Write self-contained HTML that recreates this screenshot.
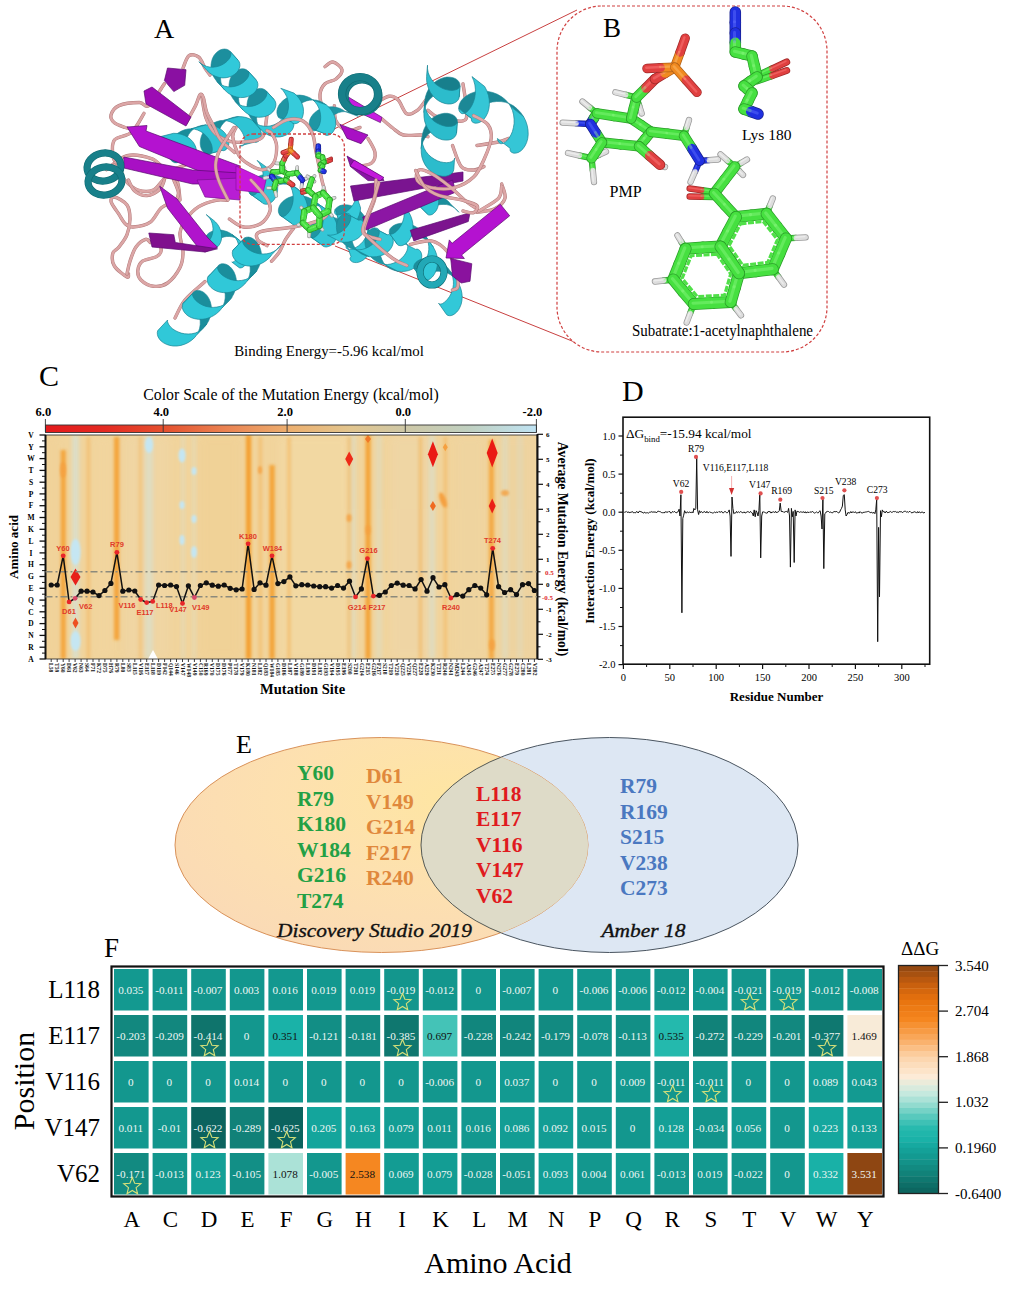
<!DOCTYPE html>
<html><head><meta charset="utf-8"><style>
html,body{margin:0;padding:0;background:#fff;}
body{width:1024px;height:1290px;overflow:hidden;}
svg{display:block;font-family:"Liberation Serif",serif;}
</style></head><body>
<svg width="1024" height="1290" viewBox="0 0 1024 1290">
<rect width="1024" height="1290" fill="#ffffff"/>
<text x="329" y="355.5" font-size="14.9" text-anchor="middle">Binding Energy=-5.96 kcal/mol</text>
<line x1="330" y1="131" x2="577" y2="10" stroke="#c84040" stroke-width="1"/>
<line x1="335" y1="246" x2="582" y2="345" stroke="#c84040" stroke-width="1"/>
<rect x="557" y="6" width="270" height="346" rx="45" ry="45" fill="#ffffff" stroke="#d04040" stroke-width="1.2" stroke-dasharray="3,2"/>
<line x1="590.3" y1="124.0" x2="576.5" y2="123.3" stroke="#182090" stroke-width="6.3" stroke-linecap="round"/>
<line x1="576.5" y1="123.3" x2="562.6" y2="122.6" stroke="#9a9a9a" stroke-width="6.3" stroke-linecap="round"/>
<line x1="590.3" y1="124.0" x2="576.5" y2="123.3" stroke="#2030e0" stroke-width="4.8" stroke-linecap="round"/>
<line x1="576.5" y1="123.3" x2="562.6" y2="122.6" stroke="#dddddd" stroke-width="4.8" stroke-linecap="round"/>
<line x1="589.5" y1="123.2" x2="575.7" y2="122.5" stroke="#6070ff" stroke-width="1.4" stroke-linecap="round" opacity="0.45"/>
<line x1="575.7" y1="122.5" x2="561.8" y2="121.8" stroke="#ffffff" stroke-width="1.4" stroke-linecap="round" opacity="0.45"/>
<line x1="597.0" y1="113.4" x2="589.7" y2="107.5" stroke="#2a9e28" stroke-width="6.3" stroke-linecap="round"/>
<line x1="589.7" y1="107.5" x2="582.4" y2="101.5" stroke="#9a9a9a" stroke-width="6.3" stroke-linecap="round"/>
<line x1="597.0" y1="113.4" x2="589.7" y2="107.5" stroke="#46e040" stroke-width="4.8" stroke-linecap="round"/>
<line x1="589.7" y1="107.5" x2="582.4" y2="101.5" stroke="#dddddd" stroke-width="4.8" stroke-linecap="round"/>
<line x1="596.2" y1="112.6" x2="588.9" y2="106.7" stroke="#8af880" stroke-width="1.4" stroke-linecap="round" opacity="0.45"/>
<line x1="588.9" y1="106.7" x2="581.6" y2="100.7" stroke="#ffffff" stroke-width="1.4" stroke-linecap="round" opacity="0.45"/>
<line x1="591.6" y1="158.2" x2="579.8" y2="155.6" stroke="#2a9e28" stroke-width="6.3" stroke-linecap="round"/>
<line x1="579.8" y1="155.6" x2="568.0" y2="153.0" stroke="#9a9a9a" stroke-width="6.3" stroke-linecap="round"/>
<line x1="591.6" y1="158.2" x2="579.8" y2="155.6" stroke="#46e040" stroke-width="4.8" stroke-linecap="round"/>
<line x1="579.8" y1="155.6" x2="568.0" y2="153.0" stroke="#dddddd" stroke-width="4.8" stroke-linecap="round"/>
<line x1="590.8" y1="157.4" x2="579.0" y2="154.8" stroke="#8af880" stroke-width="1.4" stroke-linecap="round" opacity="0.45"/>
<line x1="579.0" y1="154.8" x2="567.2" y2="152.2" stroke="#ffffff" stroke-width="1.4" stroke-linecap="round" opacity="0.45"/>
<line x1="591.6" y1="158.2" x2="592.8" y2="170.1" stroke="#2a9e28" stroke-width="6.3" stroke-linecap="round"/>
<line x1="592.8" y1="170.1" x2="594.0" y2="182.0" stroke="#9a9a9a" stroke-width="6.3" stroke-linecap="round"/>
<line x1="591.6" y1="158.2" x2="592.8" y2="170.1" stroke="#46e040" stroke-width="4.8" stroke-linecap="round"/>
<line x1="592.8" y1="170.1" x2="594.0" y2="182.0" stroke="#dddddd" stroke-width="4.8" stroke-linecap="round"/>
<line x1="590.8" y1="157.4" x2="592.0" y2="169.3" stroke="#8af880" stroke-width="1.4" stroke-linecap="round" opacity="0.45"/>
<line x1="592.0" y1="169.3" x2="593.2" y2="181.2" stroke="#ffffff" stroke-width="1.4" stroke-linecap="round" opacity="0.45"/>
<line x1="591.6" y1="158.2" x2="598.8" y2="154.9" stroke="#2a9e28" stroke-width="6.3" stroke-linecap="round"/>
<line x1="598.8" y1="154.9" x2="606.0" y2="151.6" stroke="#9a9a9a" stroke-width="6.3" stroke-linecap="round"/>
<line x1="591.6" y1="158.2" x2="598.8" y2="154.9" stroke="#46e040" stroke-width="4.8" stroke-linecap="round"/>
<line x1="598.8" y1="154.9" x2="606.0" y2="151.6" stroke="#dddddd" stroke-width="4.8" stroke-linecap="round"/>
<line x1="590.8" y1="157.4" x2="598.0" y2="154.1" stroke="#8af880" stroke-width="1.4" stroke-linecap="round" opacity="0.45"/>
<line x1="598.0" y1="154.1" x2="605.2" y2="150.8" stroke="#ffffff" stroke-width="1.4" stroke-linecap="round" opacity="0.45"/>
<line x1="636.5" y1="97.5" x2="626.0" y2="94.9" stroke="#2a9e28" stroke-width="6.3" stroke-linecap="round"/>
<line x1="626.0" y1="94.9" x2="615.4" y2="92.3" stroke="#9a9a9a" stroke-width="6.3" stroke-linecap="round"/>
<line x1="636.5" y1="97.5" x2="626.0" y2="94.9" stroke="#46e040" stroke-width="4.8" stroke-linecap="round"/>
<line x1="626.0" y1="94.9" x2="615.4" y2="92.3" stroke="#dddddd" stroke-width="4.8" stroke-linecap="round"/>
<line x1="635.7" y1="96.7" x2="625.2" y2="94.1" stroke="#8af880" stroke-width="1.4" stroke-linecap="round" opacity="0.45"/>
<line x1="625.2" y1="94.1" x2="614.6" y2="91.5" stroke="#ffffff" stroke-width="1.4" stroke-linecap="round" opacity="0.45"/>
<line x1="636.5" y1="97.5" x2="639.1" y2="105.5" stroke="#2a9e28" stroke-width="6.3" stroke-linecap="round"/>
<line x1="639.1" y1="105.5" x2="641.7" y2="113.4" stroke="#9a9a9a" stroke-width="6.3" stroke-linecap="round"/>
<line x1="636.5" y1="97.5" x2="639.1" y2="105.5" stroke="#46e040" stroke-width="4.8" stroke-linecap="round"/>
<line x1="639.1" y1="105.5" x2="641.7" y2="113.4" stroke="#dddddd" stroke-width="4.8" stroke-linecap="round"/>
<line x1="635.7" y1="96.7" x2="638.3" y2="104.7" stroke="#8af880" stroke-width="1.4" stroke-linecap="round" opacity="0.45"/>
<line x1="638.3" y1="104.7" x2="640.9" y2="112.6" stroke="#ffffff" stroke-width="1.4" stroke-linecap="round" opacity="0.45"/>
<line x1="684.0" y1="135.8" x2="686.5" y2="127.9" stroke="#2a9e28" stroke-width="6.3" stroke-linecap="round"/>
<line x1="686.5" y1="127.9" x2="689.0" y2="120.0" stroke="#9a9a9a" stroke-width="6.3" stroke-linecap="round"/>
<line x1="684.0" y1="135.8" x2="686.5" y2="127.9" stroke="#46e040" stroke-width="4.8" stroke-linecap="round"/>
<line x1="686.5" y1="127.9" x2="689.0" y2="120.0" stroke="#dddddd" stroke-width="4.8" stroke-linecap="round"/>
<line x1="683.2" y1="135.0" x2="685.7" y2="127.1" stroke="#8af880" stroke-width="1.4" stroke-linecap="round" opacity="0.45"/>
<line x1="685.7" y1="127.1" x2="688.2" y2="119.2" stroke="#ffffff" stroke-width="1.4" stroke-linecap="round" opacity="0.45"/>
<line x1="699.7" y1="160.8" x2="708.9" y2="160.2" stroke="#182090" stroke-width="6.3" stroke-linecap="round"/>
<line x1="708.9" y1="160.2" x2="718.0" y2="159.5" stroke="#9a9a9a" stroke-width="6.3" stroke-linecap="round"/>
<line x1="699.7" y1="160.8" x2="708.9" y2="160.2" stroke="#2030e0" stroke-width="4.8" stroke-linecap="round"/>
<line x1="708.9" y1="160.2" x2="718.0" y2="159.5" stroke="#dddddd" stroke-width="4.8" stroke-linecap="round"/>
<line x1="698.9" y1="160.0" x2="708.1" y2="159.3" stroke="#6070ff" stroke-width="1.4" stroke-linecap="round" opacity="0.45"/>
<line x1="708.1" y1="159.3" x2="717.2" y2="158.7" stroke="#ffffff" stroke-width="1.4" stroke-linecap="round" opacity="0.45"/>
<line x1="699.7" y1="160.8" x2="695.1" y2="171.4" stroke="#182090" stroke-width="6.3" stroke-linecap="round"/>
<line x1="695.1" y1="171.4" x2="690.5" y2="182.0" stroke="#9a9a9a" stroke-width="6.3" stroke-linecap="round"/>
<line x1="699.7" y1="160.8" x2="695.1" y2="171.4" stroke="#2030e0" stroke-width="4.8" stroke-linecap="round"/>
<line x1="695.1" y1="171.4" x2="690.5" y2="182.0" stroke="#dddddd" stroke-width="4.8" stroke-linecap="round"/>
<line x1="698.9" y1="160.0" x2="694.3" y2="170.6" stroke="#6070ff" stroke-width="1.4" stroke-linecap="round" opacity="0.45"/>
<line x1="694.3" y1="170.6" x2="689.7" y2="181.2" stroke="#ffffff" stroke-width="1.4" stroke-linecap="round" opacity="0.45"/>
<line x1="660.0" y1="164.8" x2="662.5" y2="165.9" stroke="#a02828" stroke-width="6.3" stroke-linecap="round"/>
<line x1="662.5" y1="165.9" x2="665.0" y2="167.0" stroke="#9a9a9a" stroke-width="6.3" stroke-linecap="round"/>
<line x1="660.0" y1="164.8" x2="662.5" y2="165.9" stroke="#e04040" stroke-width="4.8" stroke-linecap="round"/>
<line x1="662.5" y1="165.9" x2="665.0" y2="167.0" stroke="#dddddd" stroke-width="4.8" stroke-linecap="round"/>
<line x1="659.2" y1="164.0" x2="661.7" y2="165.1" stroke="#ff8080" stroke-width="1.4" stroke-linecap="round" opacity="0.45"/>
<line x1="661.7" y1="165.1" x2="664.2" y2="166.2" stroke="#ffffff" stroke-width="1.4" stroke-linecap="round" opacity="0.45"/>
<line x1="590.3" y1="124.0" x2="593.6" y2="118.7" stroke="#182090" stroke-width="10.5" stroke-linecap="round"/>
<line x1="593.6" y1="118.7" x2="597.0" y2="113.4" stroke="#2a9e28" stroke-width="10.5" stroke-linecap="round"/>
<line x1="590.3" y1="124.0" x2="593.6" y2="118.7" stroke="#2030e0" stroke-width="9.0" stroke-linecap="round"/>
<line x1="593.6" y1="118.7" x2="597.0" y2="113.4" stroke="#46e040" stroke-width="9.0" stroke-linecap="round"/>
<line x1="589.5" y1="123.2" x2="592.9" y2="117.9" stroke="#6070ff" stroke-width="2.7" stroke-linecap="round" opacity="0.45"/>
<line x1="592.9" y1="117.9" x2="596.2" y2="112.6" stroke="#8af880" stroke-width="2.7" stroke-linecap="round" opacity="0.45"/>
<line x1="597.0" y1="113.4" x2="614.1" y2="116.0" stroke="#2a9e28" stroke-width="10.5" stroke-linecap="round"/>
<line x1="614.1" y1="116.0" x2="631.2" y2="118.6" stroke="#2a9e28" stroke-width="10.5" stroke-linecap="round"/>
<line x1="597.0" y1="113.4" x2="614.1" y2="116.0" stroke="#46e040" stroke-width="9.0" stroke-linecap="round"/>
<line x1="614.1" y1="116.0" x2="631.2" y2="118.6" stroke="#46e040" stroke-width="9.0" stroke-linecap="round"/>
<line x1="596.2" y1="112.6" x2="613.3" y2="115.2" stroke="#8af880" stroke-width="2.7" stroke-linecap="round" opacity="0.45"/>
<line x1="613.3" y1="115.2" x2="630.4" y2="117.8" stroke="#8af880" stroke-width="2.7" stroke-linecap="round" opacity="0.45"/>
<line x1="631.2" y1="118.6" x2="641.1" y2="125.2" stroke="#2a9e28" stroke-width="10.5" stroke-linecap="round"/>
<line x1="641.1" y1="125.2" x2="651.0" y2="131.8" stroke="#2a9e28" stroke-width="10.5" stroke-linecap="round"/>
<line x1="631.2" y1="118.6" x2="641.1" y2="125.2" stroke="#46e040" stroke-width="9.0" stroke-linecap="round"/>
<line x1="641.1" y1="125.2" x2="651.0" y2="131.8" stroke="#46e040" stroke-width="9.0" stroke-linecap="round"/>
<line x1="630.4" y1="117.8" x2="640.3" y2="124.4" stroke="#8af880" stroke-width="2.7" stroke-linecap="round" opacity="0.45"/>
<line x1="640.3" y1="124.4" x2="650.2" y2="131.0" stroke="#8af880" stroke-width="2.7" stroke-linecap="round" opacity="0.45"/>
<line x1="651.0" y1="131.8" x2="645.0" y2="139.1" stroke="#2a9e28" stroke-width="10.5" stroke-linecap="round"/>
<line x1="645.0" y1="139.1" x2="639.0" y2="146.3" stroke="#2a9e28" stroke-width="10.5" stroke-linecap="round"/>
<line x1="651.0" y1="131.8" x2="645.0" y2="139.1" stroke="#46e040" stroke-width="9.0" stroke-linecap="round"/>
<line x1="645.0" y1="139.1" x2="639.0" y2="146.3" stroke="#46e040" stroke-width="9.0" stroke-linecap="round"/>
<line x1="650.2" y1="131.0" x2="644.2" y2="138.2" stroke="#8af880" stroke-width="2.7" stroke-linecap="round" opacity="0.45"/>
<line x1="644.2" y1="138.2" x2="638.2" y2="145.5" stroke="#8af880" stroke-width="2.7" stroke-linecap="round" opacity="0.45"/>
<line x1="639.0" y1="146.3" x2="620.5" y2="144.4" stroke="#2a9e28" stroke-width="10.5" stroke-linecap="round"/>
<line x1="620.5" y1="144.4" x2="602.0" y2="142.4" stroke="#2a9e28" stroke-width="10.5" stroke-linecap="round"/>
<line x1="639.0" y1="146.3" x2="620.5" y2="144.4" stroke="#46e040" stroke-width="9.0" stroke-linecap="round"/>
<line x1="620.5" y1="144.4" x2="602.0" y2="142.4" stroke="#46e040" stroke-width="9.0" stroke-linecap="round"/>
<line x1="638.2" y1="145.5" x2="619.7" y2="143.6" stroke="#8af880" stroke-width="2.7" stroke-linecap="round" opacity="0.45"/>
<line x1="619.7" y1="143.6" x2="601.2" y2="141.6" stroke="#8af880" stroke-width="2.7" stroke-linecap="round" opacity="0.45"/>
<line x1="602.0" y1="142.4" x2="596.1" y2="133.2" stroke="#2a9e28" stroke-width="10.5" stroke-linecap="round"/>
<line x1="596.1" y1="133.2" x2="590.3" y2="124.0" stroke="#182090" stroke-width="10.5" stroke-linecap="round"/>
<line x1="602.0" y1="142.4" x2="596.1" y2="133.2" stroke="#46e040" stroke-width="9.0" stroke-linecap="round"/>
<line x1="596.1" y1="133.2" x2="590.3" y2="124.0" stroke="#2030e0" stroke-width="9.0" stroke-linecap="round"/>
<line x1="601.2" y1="141.6" x2="595.4" y2="132.4" stroke="#8af880" stroke-width="2.7" stroke-linecap="round" opacity="0.45"/>
<line x1="595.4" y1="132.4" x2="589.5" y2="123.2" stroke="#6070ff" stroke-width="2.7" stroke-linecap="round" opacity="0.45"/>
<line x1="651.0" y1="131.8" x2="667.5" y2="133.8" stroke="#2a9e28" stroke-width="10.5" stroke-linecap="round"/>
<line x1="667.5" y1="133.8" x2="684.0" y2="135.8" stroke="#2a9e28" stroke-width="10.5" stroke-linecap="round"/>
<line x1="651.0" y1="131.8" x2="667.5" y2="133.8" stroke="#46e040" stroke-width="9.0" stroke-linecap="round"/>
<line x1="667.5" y1="133.8" x2="684.0" y2="135.8" stroke="#46e040" stroke-width="9.0" stroke-linecap="round"/>
<line x1="650.2" y1="131.0" x2="666.7" y2="133.0" stroke="#8af880" stroke-width="2.7" stroke-linecap="round" opacity="0.45"/>
<line x1="666.7" y1="133.0" x2="683.2" y2="135.0" stroke="#8af880" stroke-width="2.7" stroke-linecap="round" opacity="0.45"/>
<line x1="684.0" y1="135.8" x2="691.9" y2="148.3" stroke="#2a9e28" stroke-width="10.5" stroke-linecap="round"/>
<line x1="691.9" y1="148.3" x2="699.7" y2="160.8" stroke="#182090" stroke-width="10.5" stroke-linecap="round"/>
<line x1="684.0" y1="135.8" x2="691.9" y2="148.3" stroke="#46e040" stroke-width="9.0" stroke-linecap="round"/>
<line x1="691.9" y1="148.3" x2="699.7" y2="160.8" stroke="#2030e0" stroke-width="9.0" stroke-linecap="round"/>
<line x1="683.2" y1="135.0" x2="691.1" y2="147.5" stroke="#8af880" stroke-width="2.7" stroke-linecap="round" opacity="0.45"/>
<line x1="691.1" y1="147.5" x2="698.9" y2="160.0" stroke="#6070ff" stroke-width="2.7" stroke-linecap="round" opacity="0.45"/>
<line x1="639.0" y1="146.3" x2="649.5" y2="155.6" stroke="#2a9e28" stroke-width="10.5" stroke-linecap="round"/>
<line x1="649.5" y1="155.6" x2="660.0" y2="164.8" stroke="#a02828" stroke-width="10.5" stroke-linecap="round"/>
<line x1="639.0" y1="146.3" x2="649.5" y2="155.6" stroke="#46e040" stroke-width="9.0" stroke-linecap="round"/>
<line x1="649.5" y1="155.6" x2="660.0" y2="164.8" stroke="#e04040" stroke-width="9.0" stroke-linecap="round"/>
<line x1="638.2" y1="145.5" x2="648.7" y2="154.8" stroke="#8af880" stroke-width="2.7" stroke-linecap="round" opacity="0.45"/>
<line x1="648.7" y1="154.8" x2="659.2" y2="164.0" stroke="#ff8080" stroke-width="2.7" stroke-linecap="round" opacity="0.45"/>
<line x1="602.0" y1="142.4" x2="596.8" y2="150.3" stroke="#2a9e28" stroke-width="10.5" stroke-linecap="round"/>
<line x1="596.8" y1="150.3" x2="591.6" y2="158.2" stroke="#2a9e28" stroke-width="10.5" stroke-linecap="round"/>
<line x1="602.0" y1="142.4" x2="596.8" y2="150.3" stroke="#46e040" stroke-width="9.0" stroke-linecap="round"/>
<line x1="596.8" y1="150.3" x2="591.6" y2="158.2" stroke="#46e040" stroke-width="9.0" stroke-linecap="round"/>
<line x1="601.2" y1="141.6" x2="596.0" y2="149.5" stroke="#8af880" stroke-width="2.7" stroke-linecap="round" opacity="0.45"/>
<line x1="596.0" y1="149.5" x2="590.8" y2="157.4" stroke="#8af880" stroke-width="2.7" stroke-linecap="round" opacity="0.45"/>
<line x1="631.2" y1="118.6" x2="633.9" y2="108.0" stroke="#2a9e28" stroke-width="10.5" stroke-linecap="round"/>
<line x1="633.9" y1="108.0" x2="636.5" y2="97.5" stroke="#2a9e28" stroke-width="10.5" stroke-linecap="round"/>
<line x1="631.2" y1="118.6" x2="633.9" y2="108.0" stroke="#46e040" stroke-width="9.0" stroke-linecap="round"/>
<line x1="633.9" y1="108.0" x2="636.5" y2="97.5" stroke="#46e040" stroke-width="9.0" stroke-linecap="round"/>
<line x1="630.4" y1="117.8" x2="633.1" y2="107.2" stroke="#8af880" stroke-width="2.7" stroke-linecap="round" opacity="0.45"/>
<line x1="633.1" y1="107.2" x2="635.7" y2="96.7" stroke="#8af880" stroke-width="2.7" stroke-linecap="round" opacity="0.45"/>
<line x1="636.5" y1="97.5" x2="645.8" y2="88.2" stroke="#2a9e28" stroke-width="10.5" stroke-linecap="round"/>
<line x1="645.8" y1="88.2" x2="655.0" y2="79.0" stroke="#a02828" stroke-width="10.5" stroke-linecap="round"/>
<line x1="636.5" y1="97.5" x2="645.8" y2="88.2" stroke="#46e040" stroke-width="9.0" stroke-linecap="round"/>
<line x1="645.8" y1="88.2" x2="655.0" y2="79.0" stroke="#e04040" stroke-width="9.0" stroke-linecap="round"/>
<line x1="635.7" y1="96.7" x2="645.0" y2="87.5" stroke="#8af880" stroke-width="2.7" stroke-linecap="round" opacity="0.45"/>
<line x1="645.0" y1="87.5" x2="654.2" y2="78.2" stroke="#ff8080" stroke-width="2.7" stroke-linecap="round" opacity="0.45"/>
<line x1="655.0" y1="79.0" x2="664.9" y2="73.1" stroke="#a02828" stroke-width="10.5" stroke-linecap="round"/>
<line x1="664.9" y1="73.1" x2="674.7" y2="67.2" stroke="#b06018" stroke-width="10.5" stroke-linecap="round"/>
<line x1="655.0" y1="79.0" x2="664.9" y2="73.1" stroke="#e04040" stroke-width="9.0" stroke-linecap="round"/>
<line x1="664.9" y1="73.1" x2="674.7" y2="67.2" stroke="#f08a20" stroke-width="9.0" stroke-linecap="round"/>
<line x1="654.2" y1="78.2" x2="664.1" y2="72.3" stroke="#ff8080" stroke-width="2.7" stroke-linecap="round" opacity="0.45"/>
<line x1="664.1" y1="72.3" x2="673.9" y2="66.4" stroke="#ffc070" stroke-width="2.7" stroke-linecap="round" opacity="0.45"/>
<line x1="674.7" y1="67.2" x2="680.0" y2="52.7" stroke="#b06018" stroke-width="9.5" stroke-linecap="round"/>
<line x1="680.0" y1="52.7" x2="685.2" y2="38.2" stroke="#a02828" stroke-width="9.5" stroke-linecap="round"/>
<line x1="674.7" y1="67.2" x2="680.0" y2="52.7" stroke="#f08a20" stroke-width="8.0" stroke-linecap="round"/>
<line x1="680.0" y1="52.7" x2="685.2" y2="38.2" stroke="#e04040" stroke-width="8.0" stroke-linecap="round"/>
<line x1="673.9" y1="66.4" x2="679.2" y2="51.9" stroke="#ffc070" stroke-width="2.4" stroke-linecap="round" opacity="0.45"/>
<line x1="679.2" y1="51.9" x2="684.4" y2="37.4" stroke="#ff8080" stroke-width="2.4" stroke-linecap="round" opacity="0.45"/>
<line x1="674.7" y1="67.2" x2="660.9" y2="67.8" stroke="#b06018" stroke-width="9.5" stroke-linecap="round"/>
<line x1="660.9" y1="67.8" x2="647.0" y2="68.5" stroke="#a02828" stroke-width="9.5" stroke-linecap="round"/>
<line x1="674.7" y1="67.2" x2="660.9" y2="67.8" stroke="#f08a20" stroke-width="8.0" stroke-linecap="round"/>
<line x1="660.9" y1="67.8" x2="647.0" y2="68.5" stroke="#e04040" stroke-width="8.0" stroke-linecap="round"/>
<line x1="673.9" y1="66.4" x2="660.1" y2="67.0" stroke="#ffc070" stroke-width="2.4" stroke-linecap="round" opacity="0.45"/>
<line x1="660.1" y1="67.0" x2="646.2" y2="67.7" stroke="#ff8080" stroke-width="2.4" stroke-linecap="round" opacity="0.45"/>
<line x1="674.7" y1="67.2" x2="685.9" y2="79.8" stroke="#b06018" stroke-width="9.5" stroke-linecap="round"/>
<line x1="685.9" y1="79.8" x2="697.0" y2="92.3" stroke="#a02828" stroke-width="9.5" stroke-linecap="round"/>
<line x1="674.7" y1="67.2" x2="685.9" y2="79.8" stroke="#f08a20" stroke-width="8.0" stroke-linecap="round"/>
<line x1="685.9" y1="79.8" x2="697.0" y2="92.3" stroke="#e04040" stroke-width="8.0" stroke-linecap="round"/>
<line x1="673.9" y1="66.4" x2="685.1" y2="79.0" stroke="#ffc070" stroke-width="2.4" stroke-linecap="round" opacity="0.45"/>
<line x1="685.1" y1="79.0" x2="696.2" y2="91.5" stroke="#ff8080" stroke-width="2.4" stroke-linecap="round" opacity="0.45"/>
<line x1="757.0" y1="76.0" x2="771.9" y2="69.0" stroke="#2a9e28" stroke-width="7.0" stroke-linecap="round"/>
<line x1="771.9" y1="69.0" x2="786.7" y2="62.0" stroke="#a02828" stroke-width="7.0" stroke-linecap="round"/>
<line x1="757.0" y1="76.0" x2="771.9" y2="69.0" stroke="#46e040" stroke-width="5.5" stroke-linecap="round"/>
<line x1="771.9" y1="69.0" x2="786.7" y2="62.0" stroke="#e04040" stroke-width="5.5" stroke-linecap="round"/>
<line x1="756.2" y1="75.2" x2="771.1" y2="68.2" stroke="#8af880" stroke-width="1.6" stroke-linecap="round" opacity="0.45"/>
<line x1="771.1" y1="68.2" x2="785.9" y2="61.2" stroke="#ff8080" stroke-width="1.6" stroke-linecap="round" opacity="0.45"/>
<line x1="757.0" y1="81.0" x2="771.9" y2="75.8" stroke="#2a9e28" stroke-width="7.0" stroke-linecap="round"/>
<line x1="771.9" y1="75.8" x2="786.7" y2="70.5" stroke="#a02828" stroke-width="7.0" stroke-linecap="round"/>
<line x1="757.0" y1="81.0" x2="771.9" y2="75.8" stroke="#46e040" stroke-width="5.5" stroke-linecap="round"/>
<line x1="771.9" y1="75.8" x2="786.7" y2="70.5" stroke="#e04040" stroke-width="5.5" stroke-linecap="round"/>
<line x1="756.2" y1="80.2" x2="771.1" y2="75.0" stroke="#8af880" stroke-width="1.6" stroke-linecap="round" opacity="0.45"/>
<line x1="771.1" y1="75.0" x2="785.9" y2="69.7" stroke="#ff8080" stroke-width="1.6" stroke-linecap="round" opacity="0.45"/>
<line x1="735.3" y1="12.0" x2="735.3" y2="22.5" stroke="#182090" stroke-width="11.5" stroke-linecap="round"/>
<line x1="735.3" y1="22.5" x2="735.3" y2="33.0" stroke="#182090" stroke-width="11.5" stroke-linecap="round"/>
<line x1="735.3" y1="12.0" x2="735.3" y2="22.5" stroke="#2030e0" stroke-width="10.0" stroke-linecap="round"/>
<line x1="735.3" y1="22.5" x2="735.3" y2="33.0" stroke="#2030e0" stroke-width="10.0" stroke-linecap="round"/>
<line x1="734.5" y1="11.2" x2="734.5" y2="21.7" stroke="#6070ff" stroke-width="3.0" stroke-linecap="round" opacity="0.45"/>
<line x1="734.5" y1="21.7" x2="734.5" y2="32.2" stroke="#6070ff" stroke-width="3.0" stroke-linecap="round" opacity="0.45"/>
<line x1="735.3" y1="33.0" x2="735.3" y2="42.5" stroke="#182090" stroke-width="11.5" stroke-linecap="round"/>
<line x1="735.3" y1="42.5" x2="735.3" y2="52.0" stroke="#2a9e28" stroke-width="11.5" stroke-linecap="round"/>
<line x1="735.3" y1="33.0" x2="735.3" y2="42.5" stroke="#2030e0" stroke-width="10.0" stroke-linecap="round"/>
<line x1="735.3" y1="42.5" x2="735.3" y2="52.0" stroke="#46e040" stroke-width="10.0" stroke-linecap="round"/>
<line x1="734.5" y1="32.2" x2="734.5" y2="41.7" stroke="#6070ff" stroke-width="3.0" stroke-linecap="round" opacity="0.45"/>
<line x1="734.5" y1="41.7" x2="734.5" y2="51.2" stroke="#8af880" stroke-width="3.0" stroke-linecap="round" opacity="0.45"/>
<line x1="735.3" y1="52.0" x2="743.6" y2="54.0" stroke="#2a9e28" stroke-width="11.5" stroke-linecap="round"/>
<line x1="743.6" y1="54.0" x2="752.0" y2="56.0" stroke="#2a9e28" stroke-width="11.5" stroke-linecap="round"/>
<line x1="735.3" y1="52.0" x2="743.6" y2="54.0" stroke="#46e040" stroke-width="10.0" stroke-linecap="round"/>
<line x1="743.6" y1="54.0" x2="752.0" y2="56.0" stroke="#46e040" stroke-width="10.0" stroke-linecap="round"/>
<line x1="734.5" y1="51.2" x2="742.9" y2="53.2" stroke="#8af880" stroke-width="3.0" stroke-linecap="round" opacity="0.45"/>
<line x1="742.9" y1="53.2" x2="751.2" y2="55.2" stroke="#8af880" stroke-width="3.0" stroke-linecap="round" opacity="0.45"/>
<line x1="752.0" y1="56.0" x2="754.5" y2="66.5" stroke="#2a9e28" stroke-width="11.5" stroke-linecap="round"/>
<line x1="754.5" y1="66.5" x2="757.0" y2="77.0" stroke="#2a9e28" stroke-width="11.5" stroke-linecap="round"/>
<line x1="752.0" y1="56.0" x2="754.5" y2="66.5" stroke="#46e040" stroke-width="10.0" stroke-linecap="round"/>
<line x1="754.5" y1="66.5" x2="757.0" y2="77.0" stroke="#46e040" stroke-width="10.0" stroke-linecap="round"/>
<line x1="751.2" y1="55.2" x2="753.7" y2="65.7" stroke="#8af880" stroke-width="3.0" stroke-linecap="round" opacity="0.45"/>
<line x1="753.7" y1="65.7" x2="756.2" y2="76.2" stroke="#8af880" stroke-width="3.0" stroke-linecap="round" opacity="0.45"/>
<line x1="757.0" y1="77.0" x2="750.5" y2="81.5" stroke="#2a9e28" stroke-width="11.5" stroke-linecap="round"/>
<line x1="750.5" y1="81.5" x2="744.0" y2="86.0" stroke="#2a9e28" stroke-width="11.5" stroke-linecap="round"/>
<line x1="757.0" y1="77.0" x2="750.5" y2="81.5" stroke="#46e040" stroke-width="10.0" stroke-linecap="round"/>
<line x1="750.5" y1="81.5" x2="744.0" y2="86.0" stroke="#46e040" stroke-width="10.0" stroke-linecap="round"/>
<line x1="756.2" y1="76.2" x2="749.7" y2="80.7" stroke="#8af880" stroke-width="3.0" stroke-linecap="round" opacity="0.45"/>
<line x1="749.7" y1="80.7" x2="743.2" y2="85.2" stroke="#8af880" stroke-width="3.0" stroke-linecap="round" opacity="0.45"/>
<line x1="744.0" y1="86.0" x2="748.0" y2="89.5" stroke="#2a9e28" stroke-width="11.5" stroke-linecap="round"/>
<line x1="748.0" y1="89.5" x2="752.0" y2="93.0" stroke="#2a9e28" stroke-width="11.5" stroke-linecap="round"/>
<line x1="744.0" y1="86.0" x2="748.0" y2="89.5" stroke="#46e040" stroke-width="10.0" stroke-linecap="round"/>
<line x1="748.0" y1="89.5" x2="752.0" y2="93.0" stroke="#46e040" stroke-width="10.0" stroke-linecap="round"/>
<line x1="743.2" y1="85.2" x2="747.2" y2="88.7" stroke="#8af880" stroke-width="3.0" stroke-linecap="round" opacity="0.45"/>
<line x1="747.2" y1="88.7" x2="751.2" y2="92.2" stroke="#8af880" stroke-width="3.0" stroke-linecap="round" opacity="0.45"/>
<line x1="752.0" y1="93.0" x2="748.0" y2="101.0" stroke="#2a9e28" stroke-width="11.5" stroke-linecap="round"/>
<line x1="748.0" y1="101.0" x2="744.0" y2="109.0" stroke="#2a9e28" stroke-width="11.5" stroke-linecap="round"/>
<line x1="752.0" y1="93.0" x2="748.0" y2="101.0" stroke="#46e040" stroke-width="10.0" stroke-linecap="round"/>
<line x1="748.0" y1="101.0" x2="744.0" y2="109.0" stroke="#46e040" stroke-width="10.0" stroke-linecap="round"/>
<line x1="751.2" y1="92.2" x2="747.2" y2="100.2" stroke="#8af880" stroke-width="3.0" stroke-linecap="round" opacity="0.45"/>
<line x1="747.2" y1="100.2" x2="743.2" y2="108.2" stroke="#8af880" stroke-width="3.0" stroke-linecap="round" opacity="0.45"/>
<line x1="744.0" y1="109.0" x2="751.0" y2="111.5" stroke="#2a9e28" stroke-width="11.5" stroke-linecap="round"/>
<line x1="751.0" y1="111.5" x2="758.0" y2="114.0" stroke="#182090" stroke-width="11.5" stroke-linecap="round"/>
<line x1="744.0" y1="109.0" x2="751.0" y2="111.5" stroke="#46e040" stroke-width="10.0" stroke-linecap="round"/>
<line x1="751.0" y1="111.5" x2="758.0" y2="114.0" stroke="#2030e0" stroke-width="10.0" stroke-linecap="round"/>
<line x1="743.2" y1="108.2" x2="750.2" y2="110.7" stroke="#8af880" stroke-width="3.0" stroke-linecap="round" opacity="0.45"/>
<line x1="750.2" y1="110.7" x2="757.2" y2="113.2" stroke="#6070ff" stroke-width="3.0" stroke-linecap="round" opacity="0.45"/>
<line x1="734.8" y1="166.7" x2="727.6" y2="160.6" stroke="#2a9e28" stroke-width="6.3" stroke-linecap="round"/>
<line x1="727.6" y1="160.6" x2="720.5" y2="154.4" stroke="#9a9a9a" stroke-width="6.3" stroke-linecap="round"/>
<line x1="734.8" y1="166.7" x2="727.6" y2="160.6" stroke="#46e040" stroke-width="4.8" stroke-linecap="round"/>
<line x1="727.6" y1="160.6" x2="720.5" y2="154.4" stroke="#dddddd" stroke-width="4.8" stroke-linecap="round"/>
<line x1="734.0" y1="165.9" x2="726.9" y2="159.8" stroke="#8af880" stroke-width="1.4" stroke-linecap="round" opacity="0.45"/>
<line x1="726.9" y1="159.8" x2="719.7" y2="153.6" stroke="#ffffff" stroke-width="1.4" stroke-linecap="round" opacity="0.45"/>
<line x1="734.8" y1="166.7" x2="740.9" y2="163.1" stroke="#2a9e28" stroke-width="6.3" stroke-linecap="round"/>
<line x1="740.9" y1="163.1" x2="747.0" y2="159.5" stroke="#9a9a9a" stroke-width="6.3" stroke-linecap="round"/>
<line x1="734.8" y1="166.7" x2="740.9" y2="163.1" stroke="#46e040" stroke-width="4.8" stroke-linecap="round"/>
<line x1="740.9" y1="163.1" x2="747.0" y2="159.5" stroke="#dddddd" stroke-width="4.8" stroke-linecap="round"/>
<line x1="734.0" y1="165.9" x2="740.1" y2="162.3" stroke="#8af880" stroke-width="1.4" stroke-linecap="round" opacity="0.45"/>
<line x1="740.1" y1="162.3" x2="746.2" y2="158.7" stroke="#ffffff" stroke-width="1.4" stroke-linecap="round" opacity="0.45"/>
<line x1="734.8" y1="166.7" x2="738.9" y2="170.8" stroke="#2a9e28" stroke-width="6.3" stroke-linecap="round"/>
<line x1="738.9" y1="170.8" x2="743.0" y2="174.9" stroke="#9a9a9a" stroke-width="6.3" stroke-linecap="round"/>
<line x1="734.8" y1="166.7" x2="738.9" y2="170.8" stroke="#46e040" stroke-width="4.8" stroke-linecap="round"/>
<line x1="738.9" y1="170.8" x2="743.0" y2="174.9" stroke="#dddddd" stroke-width="4.8" stroke-linecap="round"/>
<line x1="734.0" y1="165.9" x2="738.1" y2="170.0" stroke="#8af880" stroke-width="1.4" stroke-linecap="round" opacity="0.45"/>
<line x1="738.1" y1="170.0" x2="742.2" y2="174.1" stroke="#ffffff" stroke-width="1.4" stroke-linecap="round" opacity="0.45"/>
<line x1="766.6" y1="213.8" x2="769.7" y2="206.1" stroke="#2a9e28" stroke-width="6.3" stroke-linecap="round"/>
<line x1="769.7" y1="206.1" x2="772.8" y2="198.4" stroke="#9a9a9a" stroke-width="6.3" stroke-linecap="round"/>
<line x1="766.6" y1="213.8" x2="769.7" y2="206.1" stroke="#46e040" stroke-width="4.8" stroke-linecap="round"/>
<line x1="769.7" y1="206.1" x2="772.8" y2="198.4" stroke="#dddddd" stroke-width="4.8" stroke-linecap="round"/>
<line x1="765.8" y1="213.0" x2="768.9" y2="205.3" stroke="#8af880" stroke-width="1.4" stroke-linecap="round" opacity="0.45"/>
<line x1="768.9" y1="205.3" x2="772.0" y2="197.6" stroke="#ffffff" stroke-width="1.4" stroke-linecap="round" opacity="0.45"/>
<line x1="786.0" y1="238.4" x2="795.8" y2="237.9" stroke="#2a9e28" stroke-width="6.3" stroke-linecap="round"/>
<line x1="795.8" y1="237.9" x2="805.6" y2="237.4" stroke="#9a9a9a" stroke-width="6.3" stroke-linecap="round"/>
<line x1="786.0" y1="238.4" x2="795.8" y2="237.9" stroke="#46e040" stroke-width="4.8" stroke-linecap="round"/>
<line x1="795.8" y1="237.9" x2="805.6" y2="237.4" stroke="#dddddd" stroke-width="4.8" stroke-linecap="round"/>
<line x1="785.2" y1="237.6" x2="795.0" y2="237.1" stroke="#8af880" stroke-width="1.4" stroke-linecap="round" opacity="0.45"/>
<line x1="795.0" y1="237.1" x2="804.8" y2="236.6" stroke="#ffffff" stroke-width="1.4" stroke-linecap="round" opacity="0.45"/>
<line x1="772.8" y1="269.2" x2="778.4" y2="276.9" stroke="#2a9e28" stroke-width="6.3" stroke-linecap="round"/>
<line x1="778.4" y1="276.9" x2="784.0" y2="284.6" stroke="#9a9a9a" stroke-width="6.3" stroke-linecap="round"/>
<line x1="772.8" y1="269.2" x2="778.4" y2="276.9" stroke="#46e040" stroke-width="4.8" stroke-linecap="round"/>
<line x1="778.4" y1="276.9" x2="784.0" y2="284.6" stroke="#dddddd" stroke-width="4.8" stroke-linecap="round"/>
<line x1="772.0" y1="268.4" x2="777.6" y2="276.1" stroke="#8af880" stroke-width="1.4" stroke-linecap="round" opacity="0.45"/>
<line x1="777.6" y1="276.1" x2="783.2" y2="283.8" stroke="#ffffff" stroke-width="1.4" stroke-linecap="round" opacity="0.45"/>
<line x1="730.7" y1="302.0" x2="735.9" y2="308.6" stroke="#2a9e28" stroke-width="6.3" stroke-linecap="round"/>
<line x1="735.9" y1="308.6" x2="741.0" y2="315.3" stroke="#9a9a9a" stroke-width="6.3" stroke-linecap="round"/>
<line x1="730.7" y1="302.0" x2="735.9" y2="308.6" stroke="#46e040" stroke-width="4.8" stroke-linecap="round"/>
<line x1="735.9" y1="308.6" x2="741.0" y2="315.3" stroke="#dddddd" stroke-width="4.8" stroke-linecap="round"/>
<line x1="729.9" y1="301.2" x2="735.1" y2="307.8" stroke="#8af880" stroke-width="1.4" stroke-linecap="round" opacity="0.45"/>
<line x1="735.1" y1="307.8" x2="740.2" y2="314.5" stroke="#ffffff" stroke-width="1.4" stroke-linecap="round" opacity="0.45"/>
<line x1="693.8" y1="304.0" x2="690.2" y2="313.2" stroke="#2a9e28" stroke-width="6.3" stroke-linecap="round"/>
<line x1="690.2" y1="313.2" x2="686.7" y2="322.5" stroke="#9a9a9a" stroke-width="6.3" stroke-linecap="round"/>
<line x1="693.8" y1="304.0" x2="690.2" y2="313.2" stroke="#46e040" stroke-width="4.8" stroke-linecap="round"/>
<line x1="690.2" y1="313.2" x2="686.7" y2="322.5" stroke="#dddddd" stroke-width="4.8" stroke-linecap="round"/>
<line x1="693.0" y1="303.2" x2="689.5" y2="312.4" stroke="#8af880" stroke-width="1.4" stroke-linecap="round" opacity="0.45"/>
<line x1="689.5" y1="312.4" x2="685.9" y2="321.7" stroke="#ffffff" stroke-width="1.4" stroke-linecap="round" opacity="0.45"/>
<line x1="673.3" y1="279.5" x2="664.1" y2="280.5" stroke="#2a9e28" stroke-width="6.3" stroke-linecap="round"/>
<line x1="664.1" y1="280.5" x2="654.9" y2="281.5" stroke="#9a9a9a" stroke-width="6.3" stroke-linecap="round"/>
<line x1="673.3" y1="279.5" x2="664.1" y2="280.5" stroke="#46e040" stroke-width="4.8" stroke-linecap="round"/>
<line x1="664.1" y1="280.5" x2="654.9" y2="281.5" stroke="#dddddd" stroke-width="4.8" stroke-linecap="round"/>
<line x1="672.5" y1="278.7" x2="663.3" y2="279.7" stroke="#8af880" stroke-width="1.4" stroke-linecap="round" opacity="0.45"/>
<line x1="663.3" y1="279.7" x2="654.1" y2="280.7" stroke="#ffffff" stroke-width="1.4" stroke-linecap="round" opacity="0.45"/>
<line x1="685.6" y1="248.7" x2="681.5" y2="242.1" stroke="#2a9e28" stroke-width="6.3" stroke-linecap="round"/>
<line x1="681.5" y1="242.1" x2="677.4" y2="235.4" stroke="#9a9a9a" stroke-width="6.3" stroke-linecap="round"/>
<line x1="685.6" y1="248.7" x2="681.5" y2="242.1" stroke="#46e040" stroke-width="4.8" stroke-linecap="round"/>
<line x1="681.5" y1="242.1" x2="677.4" y2="235.4" stroke="#dddddd" stroke-width="4.8" stroke-linecap="round"/>
<line x1="684.8" y1="247.9" x2="680.7" y2="241.2" stroke="#8af880" stroke-width="1.4" stroke-linecap="round" opacity="0.45"/>
<line x1="680.7" y1="241.2" x2="676.6" y2="234.6" stroke="#ffffff" stroke-width="1.4" stroke-linecap="round" opacity="0.45"/>
<line x1="714.3" y1="192.0" x2="702.0" y2="190.2" stroke="#2a9e28" stroke-width="6.5" stroke-linecap="round"/>
<line x1="702.0" y1="190.2" x2="689.7" y2="188.5" stroke="#a02828" stroke-width="6.5" stroke-linecap="round"/>
<line x1="714.3" y1="192.0" x2="702.0" y2="190.2" stroke="#46e040" stroke-width="5.0" stroke-linecap="round"/>
<line x1="702.0" y1="190.2" x2="689.7" y2="188.5" stroke="#e04040" stroke-width="5.0" stroke-linecap="round"/>
<line x1="713.5" y1="191.2" x2="701.2" y2="189.4" stroke="#8af880" stroke-width="1.5" stroke-linecap="round" opacity="0.45"/>
<line x1="701.2" y1="189.4" x2="688.9" y2="187.7" stroke="#ff8080" stroke-width="1.5" stroke-linecap="round" opacity="0.45"/>
<line x1="714.3" y1="197.0" x2="702.0" y2="196.8" stroke="#2a9e28" stroke-width="6.5" stroke-linecap="round"/>
<line x1="702.0" y1="196.8" x2="689.7" y2="196.5" stroke="#a02828" stroke-width="6.5" stroke-linecap="round"/>
<line x1="714.3" y1="197.0" x2="702.0" y2="196.8" stroke="#46e040" stroke-width="5.0" stroke-linecap="round"/>
<line x1="702.0" y1="196.8" x2="689.7" y2="196.5" stroke="#e04040" stroke-width="5.0" stroke-linecap="round"/>
<line x1="713.5" y1="196.2" x2="701.2" y2="195.9" stroke="#8af880" stroke-width="1.5" stroke-linecap="round" opacity="0.45"/>
<line x1="701.2" y1="195.9" x2="688.9" y2="195.7" stroke="#ff8080" stroke-width="1.5" stroke-linecap="round" opacity="0.45"/>
<line x1="734.8" y1="166.7" x2="724.5" y2="180.0" stroke="#2a9e28" stroke-width="11.0" stroke-linecap="round"/>
<line x1="724.5" y1="180.0" x2="714.3" y2="193.3" stroke="#2a9e28" stroke-width="11.0" stroke-linecap="round"/>
<line x1="734.8" y1="166.7" x2="724.5" y2="180.0" stroke="#46e040" stroke-width="9.5" stroke-linecap="round"/>
<line x1="724.5" y1="180.0" x2="714.3" y2="193.3" stroke="#46e040" stroke-width="9.5" stroke-linecap="round"/>
<line x1="734.0" y1="165.9" x2="723.8" y2="179.2" stroke="#8af880" stroke-width="2.9" stroke-linecap="round" opacity="0.45"/>
<line x1="723.8" y1="179.2" x2="713.5" y2="192.5" stroke="#8af880" stroke-width="2.9" stroke-linecap="round" opacity="0.45"/>
<line x1="714.3" y1="193.3" x2="725.1" y2="205.2" stroke="#2a9e28" stroke-width="11.0" stroke-linecap="round"/>
<line x1="725.1" y1="205.2" x2="736.0" y2="217.0" stroke="#2a9e28" stroke-width="11.0" stroke-linecap="round"/>
<line x1="714.3" y1="193.3" x2="725.1" y2="205.2" stroke="#46e040" stroke-width="9.5" stroke-linecap="round"/>
<line x1="725.1" y1="205.2" x2="736.0" y2="217.0" stroke="#46e040" stroke-width="9.5" stroke-linecap="round"/>
<line x1="713.5" y1="192.5" x2="724.4" y2="204.3" stroke="#8af880" stroke-width="2.9" stroke-linecap="round" opacity="0.45"/>
<line x1="724.4" y1="204.3" x2="735.2" y2="216.2" stroke="#8af880" stroke-width="2.9" stroke-linecap="round" opacity="0.45"/>
<line x1="736.0" y1="217.0" x2="751.3" y2="215.4" stroke="#2a9e28" stroke-width="12.0" stroke-linecap="round"/>
<line x1="751.3" y1="215.4" x2="766.6" y2="213.8" stroke="#2a9e28" stroke-width="12.0" stroke-linecap="round"/>
<line x1="736.0" y1="217.0" x2="751.3" y2="215.4" stroke="#46e040" stroke-width="10.5" stroke-linecap="round"/>
<line x1="751.3" y1="215.4" x2="766.6" y2="213.8" stroke="#46e040" stroke-width="10.5" stroke-linecap="round"/>
<line x1="735.2" y1="216.2" x2="750.5" y2="214.6" stroke="#8af880" stroke-width="3.1" stroke-linecap="round" opacity="0.45"/>
<line x1="750.5" y1="214.6" x2="765.8" y2="213.0" stroke="#8af880" stroke-width="3.1" stroke-linecap="round" opacity="0.45"/>
<line x1="766.6" y1="213.8" x2="776.3" y2="226.1" stroke="#2a9e28" stroke-width="12.0" stroke-linecap="round"/>
<line x1="776.3" y1="226.1" x2="786.0" y2="238.4" stroke="#2a9e28" stroke-width="12.0" stroke-linecap="round"/>
<line x1="766.6" y1="213.8" x2="776.3" y2="226.1" stroke="#46e040" stroke-width="10.5" stroke-linecap="round"/>
<line x1="776.3" y1="226.1" x2="786.0" y2="238.4" stroke="#46e040" stroke-width="10.5" stroke-linecap="round"/>
<line x1="765.8" y1="213.0" x2="775.5" y2="225.3" stroke="#8af880" stroke-width="3.1" stroke-linecap="round" opacity="0.45"/>
<line x1="775.5" y1="225.3" x2="785.2" y2="237.6" stroke="#8af880" stroke-width="3.1" stroke-linecap="round" opacity="0.45"/>
<line x1="786.0" y1="238.4" x2="779.4" y2="253.8" stroke="#2a9e28" stroke-width="12.0" stroke-linecap="round"/>
<line x1="779.4" y1="253.8" x2="772.8" y2="269.2" stroke="#2a9e28" stroke-width="12.0" stroke-linecap="round"/>
<line x1="786.0" y1="238.4" x2="779.4" y2="253.8" stroke="#46e040" stroke-width="10.5" stroke-linecap="round"/>
<line x1="779.4" y1="253.8" x2="772.8" y2="269.2" stroke="#46e040" stroke-width="10.5" stroke-linecap="round"/>
<line x1="785.2" y1="237.6" x2="778.6" y2="253.0" stroke="#8af880" stroke-width="3.1" stroke-linecap="round" opacity="0.45"/>
<line x1="778.6" y1="253.0" x2="772.0" y2="268.4" stroke="#8af880" stroke-width="3.1" stroke-linecap="round" opacity="0.45"/>
<line x1="772.8" y1="269.2" x2="755.9" y2="271.2" stroke="#2a9e28" stroke-width="12.0" stroke-linecap="round"/>
<line x1="755.9" y1="271.2" x2="739.0" y2="273.3" stroke="#2a9e28" stroke-width="12.0" stroke-linecap="round"/>
<line x1="772.8" y1="269.2" x2="755.9" y2="271.2" stroke="#46e040" stroke-width="10.5" stroke-linecap="round"/>
<line x1="755.9" y1="271.2" x2="739.0" y2="273.3" stroke="#46e040" stroke-width="10.5" stroke-linecap="round"/>
<line x1="772.0" y1="268.4" x2="755.1" y2="270.4" stroke="#8af880" stroke-width="3.1" stroke-linecap="round" opacity="0.45"/>
<line x1="755.1" y1="270.4" x2="738.2" y2="272.5" stroke="#8af880" stroke-width="3.1" stroke-linecap="round" opacity="0.45"/>
<line x1="739.0" y1="273.3" x2="729.8" y2="259.9" stroke="#2a9e28" stroke-width="12.0" stroke-linecap="round"/>
<line x1="729.8" y1="259.9" x2="720.5" y2="246.6" stroke="#2a9e28" stroke-width="12.0" stroke-linecap="round"/>
<line x1="739.0" y1="273.3" x2="729.8" y2="259.9" stroke="#46e040" stroke-width="10.5" stroke-linecap="round"/>
<line x1="729.8" y1="259.9" x2="720.5" y2="246.6" stroke="#46e040" stroke-width="10.5" stroke-linecap="round"/>
<line x1="738.2" y1="272.5" x2="729.0" y2="259.1" stroke="#8af880" stroke-width="3.1" stroke-linecap="round" opacity="0.45"/>
<line x1="729.0" y1="259.1" x2="719.7" y2="245.8" stroke="#8af880" stroke-width="3.1" stroke-linecap="round" opacity="0.45"/>
<line x1="720.5" y1="246.6" x2="728.2" y2="231.8" stroke="#2a9e28" stroke-width="12.0" stroke-linecap="round"/>
<line x1="728.2" y1="231.8" x2="736.0" y2="217.0" stroke="#2a9e28" stroke-width="12.0" stroke-linecap="round"/>
<line x1="720.5" y1="246.6" x2="728.2" y2="231.8" stroke="#46e040" stroke-width="10.5" stroke-linecap="round"/>
<line x1="728.2" y1="231.8" x2="736.0" y2="217.0" stroke="#46e040" stroke-width="10.5" stroke-linecap="round"/>
<line x1="719.7" y1="245.8" x2="727.5" y2="231.0" stroke="#8af880" stroke-width="3.1" stroke-linecap="round" opacity="0.45"/>
<line x1="727.5" y1="231.0" x2="735.2" y2="216.2" stroke="#8af880" stroke-width="3.1" stroke-linecap="round" opacity="0.45"/>
<polygon points="740.5,223.8 763.2,221.4 777.5,239.6 767.8,262.4 742.8,265.4 729.1,245.7" fill="none" stroke="#50e048" stroke-width="3.2" stroke-dasharray="6.0,1.5"/>
<line x1="720.5" y1="246.6" x2="703.0" y2="247.6" stroke="#2a9e28" stroke-width="12.0" stroke-linecap="round"/>
<line x1="703.0" y1="247.6" x2="685.6" y2="248.7" stroke="#2a9e28" stroke-width="12.0" stroke-linecap="round"/>
<line x1="720.5" y1="246.6" x2="703.0" y2="247.6" stroke="#46e040" stroke-width="10.5" stroke-linecap="round"/>
<line x1="703.0" y1="247.6" x2="685.6" y2="248.7" stroke="#46e040" stroke-width="10.5" stroke-linecap="round"/>
<line x1="719.7" y1="245.8" x2="702.2" y2="246.8" stroke="#8af880" stroke-width="3.1" stroke-linecap="round" opacity="0.45"/>
<line x1="702.2" y1="246.8" x2="684.8" y2="247.9" stroke="#8af880" stroke-width="3.1" stroke-linecap="round" opacity="0.45"/>
<line x1="685.6" y1="248.7" x2="679.5" y2="264.1" stroke="#2a9e28" stroke-width="12.0" stroke-linecap="round"/>
<line x1="679.5" y1="264.1" x2="673.3" y2="279.5" stroke="#2a9e28" stroke-width="12.0" stroke-linecap="round"/>
<line x1="685.6" y1="248.7" x2="679.5" y2="264.1" stroke="#46e040" stroke-width="10.5" stroke-linecap="round"/>
<line x1="679.5" y1="264.1" x2="673.3" y2="279.5" stroke="#46e040" stroke-width="10.5" stroke-linecap="round"/>
<line x1="684.8" y1="247.9" x2="678.7" y2="263.3" stroke="#8af880" stroke-width="3.1" stroke-linecap="round" opacity="0.45"/>
<line x1="678.7" y1="263.3" x2="672.5" y2="278.7" stroke="#8af880" stroke-width="3.1" stroke-linecap="round" opacity="0.45"/>
<line x1="673.3" y1="279.5" x2="683.5" y2="291.8" stroke="#2a9e28" stroke-width="12.0" stroke-linecap="round"/>
<line x1="683.5" y1="291.8" x2="693.8" y2="304.0" stroke="#2a9e28" stroke-width="12.0" stroke-linecap="round"/>
<line x1="673.3" y1="279.5" x2="683.5" y2="291.8" stroke="#46e040" stroke-width="10.5" stroke-linecap="round"/>
<line x1="683.5" y1="291.8" x2="693.8" y2="304.0" stroke="#46e040" stroke-width="10.5" stroke-linecap="round"/>
<line x1="672.5" y1="278.7" x2="682.8" y2="290.9" stroke="#8af880" stroke-width="3.1" stroke-linecap="round" opacity="0.45"/>
<line x1="682.8" y1="290.9" x2="693.0" y2="303.2" stroke="#8af880" stroke-width="3.1" stroke-linecap="round" opacity="0.45"/>
<line x1="693.8" y1="304.0" x2="712.2" y2="303.0" stroke="#2a9e28" stroke-width="12.0" stroke-linecap="round"/>
<line x1="712.2" y1="303.0" x2="730.7" y2="302.0" stroke="#2a9e28" stroke-width="12.0" stroke-linecap="round"/>
<line x1="693.8" y1="304.0" x2="712.2" y2="303.0" stroke="#46e040" stroke-width="10.5" stroke-linecap="round"/>
<line x1="712.2" y1="303.0" x2="730.7" y2="302.0" stroke="#46e040" stroke-width="10.5" stroke-linecap="round"/>
<line x1="693.0" y1="303.2" x2="711.5" y2="302.2" stroke="#8af880" stroke-width="3.1" stroke-linecap="round" opacity="0.45"/>
<line x1="711.5" y1="302.2" x2="729.9" y2="301.2" stroke="#8af880" stroke-width="3.1" stroke-linecap="round" opacity="0.45"/>
<line x1="730.7" y1="302.0" x2="734.9" y2="287.6" stroke="#2a9e28" stroke-width="12.0" stroke-linecap="round"/>
<line x1="734.9" y1="287.6" x2="739.0" y2="273.3" stroke="#2a9e28" stroke-width="12.0" stroke-linecap="round"/>
<line x1="730.7" y1="302.0" x2="734.9" y2="287.6" stroke="#46e040" stroke-width="10.5" stroke-linecap="round"/>
<line x1="734.9" y1="287.6" x2="739.0" y2="273.3" stroke="#46e040" stroke-width="10.5" stroke-linecap="round"/>
<line x1="729.9" y1="301.2" x2="734.1" y2="286.8" stroke="#8af880" stroke-width="3.1" stroke-linecap="round" opacity="0.45"/>
<line x1="734.1" y1="286.8" x2="738.2" y2="272.5" stroke="#8af880" stroke-width="3.1" stroke-linecap="round" opacity="0.45"/>
<line x1="739.0" y1="273.3" x2="729.8" y2="259.9" stroke="#2a9e28" stroke-width="12.0" stroke-linecap="round"/>
<line x1="729.8" y1="259.9" x2="720.5" y2="246.6" stroke="#2a9e28" stroke-width="12.0" stroke-linecap="round"/>
<line x1="739.0" y1="273.3" x2="729.8" y2="259.9" stroke="#46e040" stroke-width="10.5" stroke-linecap="round"/>
<line x1="729.8" y1="259.9" x2="720.5" y2="246.6" stroke="#46e040" stroke-width="10.5" stroke-linecap="round"/>
<line x1="738.2" y1="272.5" x2="729.0" y2="259.1" stroke="#8af880" stroke-width="3.1" stroke-linecap="round" opacity="0.45"/>
<line x1="729.0" y1="259.1" x2="719.7" y2="245.8" stroke="#8af880" stroke-width="3.1" stroke-linecap="round" opacity="0.45"/>
<polygon points="717.0,254.2 691.2,255.7 682.1,278.5 697.3,296.6 724.6,295.2 730.7,273.9" fill="none" stroke="#50e048" stroke-width="3.2" stroke-dasharray="6.0,1.5"/>
<text x="609.5" y="196.5" font-size="16">PMP</text>
<text x="742" y="139.7" font-size="15.5">Lys 180</text>
<text x="632" y="336" font-size="16" textLength="181" lengthAdjust="spacingAndGlyphs">Subatrate:1-acetylnaphthalene</text>
<polygon points="189.6,158.7 188.5,157.9 187.3,156.4 186.4,154.5 185.6,152.2 185.2,149.5 185.1,146.5 185.4,143.4 186.1,140.3 187.3,137.2 188.8,134.3 190.8,131.6 193.2,129.3 195.8,127.5 198.8,126.2 202.2,125.3 206.1,124.9 191.1,128.8 187.9,129.0 184.5,129.8 180.9,131.3 177.6,133.3 174.7,135.8 172.2,138.5 170.2,141.5 168.8,144.7 168.0,147.9 167.7,151.0 167.9,153.9 168.6,156.6 169.7,158.8 171.2,160.6 172.9,161.9 174.7,162.6" fill="#1a8d9a" stroke="#178494" stroke-width="0.6"/>
<polygon points="222.1,150.4 221.0,149.5 219.8,148.1 218.9,146.2 218.1,143.9 217.7,141.2 217.6,138.2 217.9,135.1 218.6,131.9 219.8,128.8 221.3,125.9 223.3,123.3 225.7,121.0 228.3,119.2 231.3,117.9 234.7,117.0 238.6,116.6 223.6,120.4 220.4,120.6 217.0,121.5 213.4,123.0 210.1,125.0 207.2,127.4 204.7,130.2 202.7,133.2 201.3,136.4 200.5,139.6 200.2,142.7 200.4,145.6 201.1,148.2 202.2,150.5 203.7,152.3 205.4,153.5 207.2,154.2" fill="#1a8d9a" stroke="#178494" stroke-width="0.6"/>
<polygon points="173.6,133.3 177.4,133.5 181.1,134.2 184.6,135.5 187.8,137.2 190.5,139.3 192.8,141.7 194.5,144.3 195.7,147.0 196.3,149.6 196.4,152.1 195.9,154.4 195.0,156.3 193.8,157.7 192.2,158.7 190.8,159.0 189.6,158.7 174.7,162.6 176.5,162.7 177.9,162.4 178.8,161.6 179.5,160.2 179.8,158.5 179.7,156.4 179.3,154.0 178.4,151.4 177.1,148.8 175.3,146.2 173.2,143.7 170.7,141.6 168.0,139.7 165.0,138.3 161.8,137.5 158.6,137.1" fill="#2ec4d4" stroke="#178494" stroke-width="0.7"/>
<polygon points="206.1,124.9 209.9,125.1 213.6,125.9 217.1,127.1 220.3,128.9 223.0,131.0 225.3,133.4 227.0,136.0 228.2,138.6 228.8,141.3 228.9,143.8 228.4,146.0 227.5,147.9 226.3,149.4 224.7,150.4 223.3,150.7 222.1,150.4 207.2,154.2 209.0,154.4 210.4,154.0 211.3,153.2 212.0,151.9 212.3,150.2 212.2,148.0 211.8,145.6 210.9,143.1 209.6,140.4 207.8,137.8 205.7,135.4 203.2,133.2 200.5,131.4 197.5,130.0 194.3,129.1 191.1,128.8" fill="#2ec4d4" stroke="#178494" stroke-width="0.7"/>
<polygon points="238.6,116.6 242.4,116.8 246.1,117.5 249.6,118.8 252.8,120.5 255.5,122.6 257.8,125.0 259.5,127.6 260.7,130.3 261.3,132.9 261.4,135.4 260.9,137.7 260.0,139.6 258.8,141.1 257.2,142.0 255.8,142.4 254.6,142.1 239.7,145.9 241.5,146.0 242.9,145.7 243.8,144.9 244.5,143.6 244.8,141.8 244.7,139.7 244.3,137.3 243.4,134.7 242.1,132.1 240.3,129.5 238.2,127.1 235.7,124.9 233.0,123.1 230.0,121.7 226.8,120.8 223.6,120.4" fill="#2ec4d4" stroke="#178494" stroke-width="0.7"/>
<polygon points="261.9,202.3 261.5,200.9 261.7,199.2 262.3,197.2 263.5,195.0 265.1,192.8 267.3,190.6 269.8,188.6 272.8,186.9 276.0,185.5 279.4,184.6 283.0,184.1 286.5,184.2 290.0,184.8 293.3,186.1 296.2,187.8 299.4,190.5 287.1,181.7 284.5,179.5 281.0,177.3 277.1,175.7 273.2,174.7 269.2,174.3 265.3,174.5 261.6,175.2 258.2,176.5 255.2,178.2 252.7,180.2 250.7,182.5 249.3,184.9 248.5,187.3 248.3,189.7 248.7,191.7 249.6,193.5" fill="#1f96a4" stroke="#178494" stroke-width="0.6"/>
<polygon points="291.9,223.6 291.5,222.2 291.7,220.5 292.3,218.5 293.5,216.3 295.1,214.1 297.3,212.0 299.8,210.0 302.8,208.2 306.0,206.8 309.4,205.9 313.0,205.4 316.5,205.5 320.0,206.2 323.3,207.4 326.2,209.2 329.4,211.8 317.1,203.1 314.5,200.8 311.0,198.7 307.1,197.0 303.2,196.0 299.2,195.6 295.3,195.8 291.6,196.6 288.2,197.8 285.2,199.5 282.7,201.6 280.7,203.8 279.3,206.3 278.5,208.7 278.3,211.0 278.7,213.1 279.6,214.8" fill="#1f96a4" stroke="#178494" stroke-width="0.6"/>
<polygon points="321.9,244.9 321.5,243.6 321.7,241.8 322.3,239.8 323.5,237.7 325.1,235.5 327.3,233.3 329.8,231.3 332.8,229.5 336.0,228.2 339.4,227.2 343.0,226.8 346.5,226.9 350.0,227.5 353.3,228.7 356.2,230.5 359.4,233.2 347.1,224.4 344.5,222.1 341.0,220.0 337.1,218.4 333.2,217.4 329.2,217.0 325.3,217.1 321.6,217.9 318.2,219.2 315.2,220.9 312.7,222.9 310.7,225.2 309.3,227.6 308.5,230.0 308.3,232.3 308.7,234.4 309.6,236.2" fill="#1f96a4" stroke="#178494" stroke-width="0.6"/>
<polygon points="269.4,169.2 272.2,172.3 274.4,175.7 276.1,179.3 277.2,183.1 277.7,186.8 277.6,190.4 276.9,193.8 275.8,196.8 274.3,199.4 272.5,201.5 270.4,203.0 268.3,204.0 266.2,204.3 264.3,204.0 262.6,203.2 261.9,202.3 249.6,193.5 250.9,194.8 252.0,195.3 253.4,195.2 255.0,194.5 256.6,193.2 258.3,191.4 259.9,189.2 261.2,186.5 262.3,183.4 263.0,180.0 263.2,176.5 263.0,173.0 262.3,169.5 261.1,166.2 259.3,163.1 257.1,160.4" fill="#33c6d6" stroke="#178494" stroke-width="0.7"/>
<polygon points="299.4,190.5 302.2,193.6 304.4,197.0 306.1,200.7 307.2,204.4 307.7,208.2 307.6,211.8 306.9,215.1 305.8,218.2 304.3,220.8 302.5,222.9 300.4,224.4 298.3,225.3 296.2,225.6 294.3,225.3 292.6,224.5 291.9,223.6 279.6,214.8 280.9,216.2 282.0,216.6 283.4,216.5 285.0,215.8 286.6,214.6 288.3,212.8 289.9,210.5 291.2,207.8 292.3,204.7 293.0,201.4 293.2,197.9 293.0,194.3 292.3,190.8 291.1,187.5 289.3,184.4 287.1,181.7" fill="#33c6d6" stroke="#178494" stroke-width="0.7"/>
<polygon points="329.4,211.8 332.2,214.9 334.4,218.3 336.1,222.0 337.2,225.7 337.7,229.5 337.6,233.1 336.9,236.5 335.8,239.5 334.3,242.1 332.5,244.2 330.4,245.7 328.3,246.6 326.2,247.0 324.3,246.7 322.6,245.9 321.9,244.9 309.6,236.2 310.9,237.5 312.0,237.9 313.4,237.8 315.0,237.1 316.6,235.9 318.3,234.1 319.9,231.8 321.2,229.1 322.3,226.0 323.0,222.7 323.2,219.2 323.0,215.7 322.3,212.2 321.1,208.8 319.3,205.8 317.1,203.1" fill="#33c6d6" stroke="#178494" stroke-width="0.7"/>
<polygon points="212.8,247.4 212.4,246.9 212.4,246.1 212.7,245.0 213.4,243.8 214.4,242.5 215.8,241.1 217.5,239.8 219.4,238.7 221.7,237.7 224.1,236.9 226.7,236.5 229.4,236.5 232.0,236.8 234.6,237.5 237.0,238.5 239.2,240.0 232.2,234.6 229.7,232.9 226.9,231.6 224.0,230.7 221.1,230.1 218.3,230.1 215.6,230.3 213.0,231.0 210.7,231.9 208.8,233.1 207.2,234.5 206.0,236.0 205.2,237.5 204.8,238.9 204.8,240.2 205.1,241.3 205.8,242.0" fill="#1f96a4" stroke="#178494" stroke-width="0.6"/>
<polygon points="213.2,220.0 215.5,222.0 217.5,224.3 219.1,226.8 220.3,229.5 221.2,232.3 221.6,235.0 221.6,237.6 221.3,240.1 220.6,242.3 219.7,244.2 218.6,245.7 217.4,246.9 216.1,247.6 214.8,247.9 213.7,247.9 212.8,247.4 205.8,242.0 206.4,242.2 207.2,242.0 208.1,241.5 209.1,240.5 210.2,239.2 211.1,237.6 211.9,235.6 212.6,233.3 212.9,230.9 213.0,228.4 212.7,225.8 212.1,223.2 211.2,220.7 209.8,218.4 208.2,216.4 206.2,214.6" fill="#33c8d8" stroke="#178494" stroke-width="0.7"/>
<polygon points="239.2,240.0 241.5,242.0 243.5,244.3 245.1,246.8 246.3,249.5 247.2,252.3 247.6,255.0 247.6,257.6 247.3,260.1 246.6,262.3 245.7,264.2 244.6,265.7 243.4,266.9 242.1,267.6 240.8,267.9 239.7,267.9 238.8,267.4 231.8,262.0 232.4,262.2 233.2,262.0 234.1,261.5 235.1,260.5 236.2,259.2 237.1,257.6 237.9,255.6 238.6,253.3 238.9,250.9 239.0,248.4 238.7,245.8 238.1,243.2 237.2,240.7 235.8,238.4 234.2,236.4 232.2,234.6" fill="#33c8d8" stroke="#178494" stroke-width="0.7"/>
<polygon points="339.4,222.2 340.7,221.1 342.5,220.3 344.7,219.6 347.2,219.1 350.0,219.0 353.0,219.2 356.0,219.8 359.0,220.9 361.9,222.3 364.6,224.2 366.9,226.4 368.8,229.0 370.3,231.8 371.4,235.1 372.0,238.8 372.1,242.5 367.9,229.8 367.9,226.6 367.5,223.4 366.4,220.1 364.8,216.8 362.6,213.7 360.2,211.0 357.4,208.8 354.4,207.0 351.3,205.7 348.2,205.0 345.3,204.8 342.5,205.0 340.0,205.6 338.0,206.7 336.3,207.9 335.2,209.4" fill="#1f96a4" stroke="#178494" stroke-width="0.6"/>
<polygon points="360.6,207.9 360.2,211.5 359.3,215.0 357.9,218.2 356.1,221.0 354.1,223.4 351.9,225.3 349.5,226.7 347.1,227.6 344.9,228.0 342.8,227.9 341.1,227.4 339.7,226.5 338.7,225.3 338.4,224.2 338.6,223.2 339.4,222.2 335.2,209.4 334.6,211.0 334.5,212.5 334.9,213.7 335.6,214.3 336.8,214.7 338.4,214.8 340.4,214.5 342.5,213.7 344.8,212.6 347.1,211.1 349.4,209.2 351.4,206.9 353.3,204.2 354.7,201.4 355.8,198.3 356.3,195.2" fill="#34cad9" stroke="#178494" stroke-width="0.7"/>
<polygon points="372.1,242.5 371.7,246.1 370.8,249.6 369.4,252.8 367.7,255.6 365.6,258.0 363.4,259.9 361.0,261.3 358.7,262.2 356.4,262.6 354.4,262.5 352.6,262.0 351.2,261.1 350.3,259.9 349.9,258.8 350.2,257.8 351.0,256.8 346.7,244.0 346.1,245.6 346.0,247.1 346.4,248.3 347.1,248.9 348.4,249.3 350.0,249.4 351.9,249.1 354.0,248.4 356.3,247.2 358.7,245.7 360.9,243.8 363.0,241.5 364.8,238.9 366.3,236.0 367.3,232.9 367.9,229.8" fill="#34cad9" stroke="#178494" stroke-width="0.7"/>
<polygon points="426.9,213.5 427.0,212.7 427.5,211.6 428.4,210.4 429.7,209.1 431.4,207.8 433.4,206.7 435.7,205.7 438.3,204.9 441.0,204.5 443.9,204.4 446.7,204.6 449.5,205.3 452.1,206.4 454.5,207.9 456.7,209.7 458.9,212.3 450.6,204.0 448.8,201.8 446.2,199.6 443.4,197.7 440.5,196.3 437.4,195.3 434.3,194.8 431.3,194.7 428.4,195.1 425.8,195.8 423.6,196.8 421.6,198.1 420.1,199.5 419.1,201.0 418.5,202.6 418.3,204.0 418.6,205.2" fill="#1b8e9c" stroke="#178494" stroke-width="0.6"/>
<polygon points="433.9,187.3 435.7,190.1 437.1,193.1 438.1,196.1 438.6,199.2 438.7,202.2 438.3,205.1 437.6,207.7 436.6,209.9 435.3,211.8 433.8,213.3 432.3,214.4 430.8,214.9 429.4,215.1 428.1,214.8 427.2,214.1 426.9,213.5 418.6,205.2 419.2,206.2 419.8,206.5 420.7,206.4 421.8,205.9 423.0,205.0 424.3,203.8 425.5,202.1 426.7,200.1 427.7,197.8 428.5,195.2 428.9,192.5 429.0,189.7 428.8,186.8 428.1,184.0 427.1,181.4 425.6,179.0" fill="#30c6d6" stroke="#178494" stroke-width="0.7"/>
<polygon points="358.8,220.2 357.3,221.0 355.9,222.4 354.5,224.2 353.3,226.5 352.4,229.2 351.7,232.2 351.5,235.4 351.7,238.6 352.3,241.8 353.4,244.9 354.9,247.8 356.9,250.4 359.3,252.5 362.0,254.2 365.5,255.7 369.2,256.6 355.9,249.8 352.8,249.1 349.9,248.0 346.6,246.0 343.7,243.6 341.2,240.7 339.2,237.6 337.7,234.3 336.8,231.0 336.4,227.6 336.6,224.4 337.3,221.5 338.4,218.9 339.9,216.7 341.6,215.0 343.5,213.9 345.5,213.3" fill="#1f96a4" stroke="#178494" stroke-width="0.6"/>
<polygon points="387.2,234.8 385.8,235.6 384.3,237.0 383.0,238.9 381.8,241.2 380.8,243.8 380.2,246.8 380.0,250.0 380.1,253.2 380.8,256.5 381.9,259.6 383.4,262.4 385.4,265.0 387.7,267.1 390.4,268.8 394.0,270.3 397.7,271.2 384.4,264.4 381.3,263.8 378.3,262.6 375.1,260.6 372.1,258.2 369.6,255.4 367.6,252.3 366.2,249.0 365.3,245.6 364.9,242.2 365.1,239.1 365.8,236.1 366.9,233.5 368.3,231.3 370.1,229.7 372.0,228.5 373.9,228.0" fill="#1f96a4" stroke="#178494" stroke-width="0.6"/>
<polygon points="340.7,242.0 344.5,242.3 348.2,242.1 351.7,241.3 354.9,240.1 357.8,238.4 360.3,236.3 362.2,234.1 363.7,231.6 364.5,229.2 364.8,226.8 364.6,224.6 363.9,222.7 362.8,221.2 361.3,220.1 360.1,219.9 358.8,220.2 345.5,213.3 347.4,213.3 349.2,213.9 350.1,214.7 350.7,215.9 350.9,217.5 350.6,219.5 349.9,221.7 348.8,224.0 347.2,226.3 345.2,228.6 342.8,230.6 340.0,232.4 337.1,233.8 333.9,234.8 330.7,235.2 327.5,235.1" fill="#34cad9" stroke="#178494" stroke-width="0.7"/>
<polygon points="369.2,256.6 372.9,256.9 376.6,256.7 380.2,255.9 383.4,254.7 386.3,253.0 388.8,251.0 390.7,248.7 392.1,246.3 393.0,243.8 393.3,241.4 393.1,239.2 392.4,237.3 391.2,235.8 389.7,234.7 388.6,234.5 387.2,234.8 373.9,228.0 375.9,228.0 377.6,228.5 378.6,229.3 379.1,230.5 379.3,232.2 379.1,234.1 378.4,236.3 377.2,238.6 375.7,241.0 373.6,243.2 371.2,245.3 368.5,247.0 365.5,248.4 362.4,249.4 359.2,249.8 355.9,249.8" fill="#34cad9" stroke="#178494" stroke-width="0.7"/>
<polygon points="397.7,271.2 401.4,271.5 405.1,271.3 408.6,270.6 411.9,269.3 414.8,267.6 417.2,265.6 419.2,263.3 420.6,260.9 421.5,258.4 421.8,256.0 421.5,253.8 420.8,251.9 419.7,250.4 418.2,249.4 417.0,249.1 415.7,249.4 402.4,242.6 404.3,242.6 406.1,243.1 407.0,243.9 407.6,245.1 407.8,246.8 407.5,248.7 406.9,250.9 405.7,253.2 404.1,255.6 402.1,257.8 399.7,259.9 397.0,261.6 394.0,263.0 390.8,264.0 387.6,264.5 384.4,264.4" fill="#34cad9" stroke="#178494" stroke-width="0.7"/>
<polygon points="397.0,243.9 397.1,243.1 397.6,242.0 398.7,240.9 400.2,239.7 402.2,238.5 404.6,237.6 407.4,236.8 410.4,236.3 413.6,236.2 416.9,236.4 420.1,237.1 423.3,238.3 426.3,239.9 429.0,241.9 431.3,244.3 433.4,247.3 425.9,236.6 423.8,233.6 421.1,230.7 418.1,228.2 414.8,226.2 411.4,224.7 407.9,223.7 404.5,223.2 401.2,223.2 398.2,223.7 395.5,224.6 393.2,225.8 391.4,227.2 390.1,228.7 389.4,230.3 389.2,231.8 389.4,233.2" fill="#1c8e9c" stroke="#178494" stroke-width="0.6"/>
<polygon points="421.6,278.9 421.6,278.1 422.2,277.0 423.3,275.9 424.8,274.7 426.8,273.5 429.2,272.6 431.9,271.8 435.0,271.3 438.2,271.2 441.4,271.4 444.7,272.1 447.9,273.3 450.9,274.9 453.6,276.9 455.9,279.3 458.0,282.3 450.5,271.6 448.4,268.6 445.7,265.7 442.7,263.2 439.4,261.2 435.9,259.7 432.5,258.7 429.0,258.2 425.8,258.2 422.7,258.7 420.1,259.6 417.8,260.8 416.0,262.2 414.7,263.7 414.0,265.3 413.7,266.8 414.0,268.2" fill="#1c8e9c" stroke="#178494" stroke-width="0.6"/>
<polygon points="408.9,212.3 410.7,215.9 412.0,219.6 412.8,223.3 413.0,227.1 412.8,230.7 412.0,234.1 410.9,237.1 409.4,239.8 407.7,242.0 405.8,243.7 403.8,244.9 401.9,245.6 400.2,245.7 398.7,245.4 397.5,244.7 397.0,243.9 389.4,233.2 390.0,234.0 390.8,234.2 392.0,234.0 393.4,233.5 395.1,232.4 396.8,230.9 398.6,229.0 400.2,226.7 401.7,224.0 402.9,221.1 403.8,217.9 404.2,214.6 404.2,211.2 403.8,207.8 402.8,204.6 401.3,201.6" fill="#32c8d8" stroke="#178494" stroke-width="0.7"/>
<polygon points="433.4,247.3 435.3,250.9 436.6,254.6 437.3,258.3 437.6,262.1 437.3,265.7 436.6,269.1 435.5,272.1 434.0,274.8 432.3,277.0 430.4,278.7 428.4,279.9 426.5,280.6 424.8,280.7 423.3,280.4 422.1,279.7 421.6,278.9 414.0,268.2 414.6,269.0 415.4,269.2 416.6,269.0 418.0,268.5 419.6,267.4 421.4,265.9 423.1,264.0 424.8,261.7 426.3,259.0 427.5,256.1 428.4,252.9 428.8,249.6 428.8,246.2 428.3,242.8 427.4,239.6 425.9,236.6" fill="#32c8d8" stroke="#178494" stroke-width="0.7"/>
<polygon points="458.0,282.3 459.8,285.9 461.1,289.6 461.9,293.3 462.2,297.1 461.9,300.7 461.2,304.1 460.0,307.1 458.6,309.8 456.8,312.0 454.9,313.7 453.0,314.9 451.1,315.6 449.4,315.7 447.9,315.4 446.7,314.7 446.1,313.9 438.6,303.2 439.2,304.0 440.0,304.2 441.1,304.0 442.6,303.5 444.2,302.4 446.0,300.9 447.7,299.0 449.4,296.7 450.9,294.0 452.1,291.1 452.9,287.9 453.4,284.6 453.4,281.2 452.9,277.8 451.9,274.6 450.5,271.6" fill="#32c8d8" stroke="#178494" stroke-width="0.7"/>
<path d="M 183.0 68.0 C 184.0 65.9 186.4 57.4 189.0 55.6 C 191.6 53.8 196.1 55.1 198.8 57.2 C 201.4 59.3 203.1 65.0 205.0 68.0 C 206.9 71.0 209.2 73.8 210.0 75.0" fill="none" stroke="#b07a7a" stroke-width="3.4" stroke-linecap="round" stroke-linejoin="round"/><path d="M 183.0 68.0 C 184.0 65.9 186.4 57.4 189.0 55.6 C 191.6 53.8 196.1 55.1 198.8 57.2 C 201.4 59.3 203.1 65.0 205.0 68.0 C 206.9 71.0 209.2 73.8 210.0 75.0" fill="none" stroke="#dca6a6" stroke-width="2.5" stroke-linecap="round" stroke-linejoin="round"/>
<path d="M 164.4 83.8 C 161.8 87.4 152.9 102.5 148.8 105.6 C 144.6 108.7 144.4 102.5 139.4 102.5 C 134.4 102.5 123.7 103.5 119.0 105.6 C 114.3 107.7 111.8 112.1 111.0 115.0 C 110.2 117.9 112.0 120.7 114.4 122.8 C 116.8 124.9 121.9 126.3 125.3 127.5 C 128.7 128.7 133.4 129.6 135.0 130.0" fill="none" stroke="#b07a7a" stroke-width="3.4" stroke-linecap="round" stroke-linejoin="round"/><path d="M 164.4 83.8 C 161.8 87.4 152.9 102.5 148.8 105.6 C 144.6 108.7 144.4 102.5 139.4 102.5 C 134.4 102.5 123.7 103.5 119.0 105.6 C 114.3 107.7 111.8 112.1 111.0 115.0 C 110.2 117.9 112.0 120.7 114.4 122.8 C 116.8 124.9 121.9 126.3 125.3 127.5 C 128.7 128.7 133.4 129.6 135.0 130.0" fill="none" stroke="#dca6a6" stroke-width="2.5" stroke-linecap="round" stroke-linejoin="round"/>
<path d="M 144.0 113.4 C 141.9 116.5 136.5 127.8 131.6 132.2 C 126.7 136.6 117.5 136.1 114.4 140.0 C 111.3 143.9 112.5 151.7 112.8 155.6 C 113.1 159.5 115.5 162.1 116.0 163.4" fill="none" stroke="#b07a7a" stroke-width="3.4" stroke-linecap="round" stroke-linejoin="round"/><path d="M 144.0 113.4 C 141.9 116.5 136.5 127.8 131.6 132.2 C 126.7 136.6 117.5 136.1 114.4 140.0 C 111.3 143.9 112.5 151.7 112.8 155.6 C 113.1 159.5 115.5 162.1 116.0 163.4" fill="none" stroke="#dca6a6" stroke-width="2.5" stroke-linecap="round" stroke-linejoin="round"/>
<path d="M 106.6 169.7 C 110.0 167.3 119.4 157.4 127.0 155.6 C 134.6 153.8 145.2 156.4 152.0 158.8 C 158.8 161.1 161.3 168.9 167.5 169.7 C 173.7 170.5 185.8 164.4 189.4 163.4" fill="none" stroke="#b07a7a" stroke-width="3.4" stroke-linecap="round" stroke-linejoin="round"/><path d="M 106.6 169.7 C 110.0 167.3 119.4 157.4 127.0 155.6 C 134.6 153.8 145.2 156.4 152.0 158.8 C 158.8 161.1 161.3 168.9 167.5 169.7 C 173.7 170.5 185.8 164.4 189.4 163.4" fill="none" stroke="#dca6a6" stroke-width="2.5" stroke-linecap="round" stroke-linejoin="round"/>
<path d="M 114.4 165.0 C 116.2 167.6 121.4 176.4 125.3 180.6 C 129.2 184.8 133.1 188.4 137.8 190.0 C 142.5 191.6 148.7 192.1 153.4 190.0 C 158.1 187.9 162.1 179.1 166.0 177.5 C 169.9 175.9 174.6 176.8 176.9 180.6 C 179.2 184.3 179.5 196.8 180.0 200.0" fill="none" stroke="#b07a7a" stroke-width="3.4" stroke-linecap="round" stroke-linejoin="round"/><path d="M 114.4 165.0 C 116.2 167.6 121.4 176.4 125.3 180.6 C 129.2 184.8 133.1 188.4 137.8 190.0 C 142.5 191.6 148.7 192.1 153.4 190.0 C 158.1 187.9 162.1 179.1 166.0 177.5 C 169.9 175.9 174.6 176.8 176.9 180.6 C 179.2 184.3 179.5 196.8 180.0 200.0" fill="none" stroke="#dca6a6" stroke-width="2.5" stroke-linecap="round" stroke-linejoin="round"/>
<path d="M 128.4 180.0 C 129.4 181.8 131.6 188.4 134.7 191.0 C 137.8 193.6 142.8 195.9 147.0 195.6 C 151.2 195.3 156.8 192.0 159.7 189.4 C 162.6 186.8 163.6 181.6 164.4 180.0" fill="none" stroke="#b07a7a" stroke-width="3.4" stroke-linecap="round" stroke-linejoin="round"/><path d="M 128.4 180.0 C 129.4 181.8 131.6 188.4 134.7 191.0 C 137.8 193.6 142.8 195.9 147.0 195.6 C 151.2 195.3 156.8 192.0 159.7 189.4 C 162.6 186.8 163.6 181.6 164.4 180.0" fill="none" stroke="#dca6a6" stroke-width="2.5" stroke-linecap="round" stroke-linejoin="round"/>
<path d="M 173.8 180.0 C 174.5 182.1 178.1 189.1 178.4 192.5 C 178.7 195.9 178.2 197.7 175.3 200.3 C 172.4 202.9 165.4 204.3 161.2 208.0 C 157.1 211.7 155.0 219.0 150.3 222.2 C 145.6 225.4 137.2 226.7 133.0 227.0 C 128.8 227.3 127.6 225.8 125.3 223.8 C 123.0 221.7 121.3 218.0 119.0 214.4 C 116.7 210.8 112.0 204.9 111.2 202.0 C 110.5 199.1 111.8 196.5 114.4 197.0 C 117.0 197.5 124.4 201.3 127.0 205.0 C 129.6 208.7 130.0 214.1 130.0 219.0 C 130.0 223.9 128.8 230.0 127.0 234.7 C 125.2 239.4 121.4 243.9 119.0 247.0 C 116.6 250.1 113.6 250.2 112.8 253.4 C 112.0 256.6 112.0 262.1 114.4 266.0 C 116.8 269.9 124.7 275.7 127.0 277.0 C 129.3 278.3 128.2 274.3 128.4 273.8" fill="none" stroke="#b07a7a" stroke-width="3.4" stroke-linecap="round" stroke-linejoin="round"/><path d="M 173.8 180.0 C 174.5 182.1 178.1 189.1 178.4 192.5 C 178.7 195.9 178.2 197.7 175.3 200.3 C 172.4 202.9 165.4 204.3 161.2 208.0 C 157.1 211.7 155.0 219.0 150.3 222.2 C 145.6 225.4 137.2 226.7 133.0 227.0 C 128.8 227.3 127.6 225.8 125.3 223.8 C 123.0 221.7 121.3 218.0 119.0 214.4 C 116.7 210.8 112.0 204.9 111.2 202.0 C 110.5 199.1 111.8 196.5 114.4 197.0 C 117.0 197.5 124.4 201.3 127.0 205.0 C 129.6 208.7 130.0 214.1 130.0 219.0 C 130.0 223.9 128.8 230.0 127.0 234.7 C 125.2 239.4 121.4 243.9 119.0 247.0 C 116.6 250.1 113.6 250.2 112.8 253.4 C 112.0 256.6 112.0 262.1 114.4 266.0 C 116.8 269.9 124.7 275.7 127.0 277.0 C 129.3 278.3 128.2 274.3 128.4 273.8" fill="none" stroke="#dca6a6" stroke-width="2.5" stroke-linecap="round" stroke-linejoin="round"/>
<path d="M 127.0 273.8 C 127.5 271.7 128.5 265.7 130.0 261.2 C 131.5 256.8 133.4 250.6 136.0 247.0 C 138.6 243.4 143.2 240.2 145.6 239.4 C 148.0 238.7 149.5 242.0 150.3 242.5" fill="none" stroke="#b07a7a" stroke-width="3.4" stroke-linecap="round" stroke-linejoin="round"/><path d="M 127.0 273.8 C 127.5 271.7 128.5 265.7 130.0 261.2 C 131.5 256.8 133.4 250.6 136.0 247.0 C 138.6 243.4 143.2 240.2 145.6 239.4 C 148.0 238.7 149.5 242.0 150.3 242.5" fill="none" stroke="#dca6a6" stroke-width="2.5" stroke-linecap="round" stroke-linejoin="round"/>
<path d="M 158.0 239.4 C 158.5 241.2 161.5 247.4 161.2 250.3 C 161.0 253.2 159.7 254.8 156.6 256.6 C 153.5 258.4 145.6 258.9 142.5 261.2 C 139.4 263.6 138.1 267.5 137.8 270.6 C 137.6 273.7 138.4 277.4 141.0 280.0 C 143.6 282.6 149.0 285.8 153.4 286.2 C 157.8 286.8 163.1 286.1 167.5 283.0 C 171.9 279.9 177.4 272.7 180.0 267.5 C 182.6 262.3 183.0 257.8 183.0 252.0 C 183.0 246.2 179.5 238.5 180.0 233.0 C 180.5 227.5 183.1 223.4 186.2 219.0 C 189.4 214.6 193.8 209.7 198.8 206.6 C 203.7 203.5 211.3 201.4 216.0 200.3 C 220.7 199.2 225.2 200.3 227.0 200.3" fill="none" stroke="#b07a7a" stroke-width="3.4" stroke-linecap="round" stroke-linejoin="round"/><path d="M 158.0 239.4 C 158.5 241.2 161.5 247.4 161.2 250.3 C 161.0 253.2 159.7 254.8 156.6 256.6 C 153.5 258.4 145.6 258.9 142.5 261.2 C 139.4 263.6 138.1 267.5 137.8 270.6 C 137.6 273.7 138.4 277.4 141.0 280.0 C 143.6 282.6 149.0 285.8 153.4 286.2 C 157.8 286.8 163.1 286.1 167.5 283.0 C 171.9 279.9 177.4 272.7 180.0 267.5 C 182.6 262.3 183.0 257.8 183.0 252.0 C 183.0 246.2 179.5 238.5 180.0 233.0 C 180.5 227.5 183.1 223.4 186.2 219.0 C 189.4 214.6 193.8 209.7 198.8 206.6 C 203.7 203.5 211.3 201.4 216.0 200.3 C 220.7 199.2 225.2 200.3 227.0 200.3" fill="none" stroke="#dca6a6" stroke-width="2.5" stroke-linecap="round" stroke-linejoin="round"/>
<path d="M 205.0 281.6 C 201.7 284.7 190.0 293.9 185.0 300.0 C 180.0 306.1 176.7 315.0 175.0 318.0" fill="none" stroke="#b07a7a" stroke-width="3.4" stroke-linecap="round" stroke-linejoin="round"/><path d="M 205.0 281.6 C 201.7 284.7 190.0 293.9 185.0 300.0 C 180.0 306.1 176.7 315.0 175.0 318.0" fill="none" stroke="#dca6a6" stroke-width="2.5" stroke-linecap="round" stroke-linejoin="round"/>
<path d="M 201.6 94.7 C 202.3 98.6 203.7 111.5 206.0 118.0 C 208.3 124.5 211.4 129.8 215.6 133.8 C 219.8 137.7 225.8 140.3 231.0 141.6 C 236.2 142.9 241.8 142.4 247.0 141.6 C 252.2 140.8 259.2 141.4 262.5 137.0 C 265.8 132.6 266.2 118.7 267.0 115.0" fill="none" stroke="#b07a7a" stroke-width="3.4" stroke-linecap="round" stroke-linejoin="round"/><path d="M 201.6 94.7 C 202.3 98.6 203.7 111.5 206.0 118.0 C 208.3 124.5 211.4 129.8 215.6 133.8 C 219.8 137.7 225.8 140.3 231.0 141.6 C 236.2 142.9 241.8 142.4 247.0 141.6 C 252.2 140.8 259.2 141.4 262.5 137.0 C 265.8 132.6 266.2 118.7 267.0 115.0" fill="none" stroke="#dca6a6" stroke-width="2.5" stroke-linecap="round" stroke-linejoin="round"/>
<path d="M 186.0 123.0 C 187.6 120.1 193.3 110.3 195.6 105.6 C 197.9 100.9 198.7 96.0 200.0 94.7 C 201.3 93.4 202.3 94.9 203.4 97.8 C 204.5 100.7 204.8 107.0 206.6 112.0 C 208.4 117.0 212.1 122.8 214.4 127.5 C 216.7 132.2 217.2 135.8 220.6 140.0 C 224.0 144.2 232.3 150.4 234.7 152.5" fill="none" stroke="#b07a7a" stroke-width="3.4" stroke-linecap="round" stroke-linejoin="round"/><path d="M 186.0 123.0 C 187.6 120.1 193.3 110.3 195.6 105.6 C 197.9 100.9 198.7 96.0 200.0 94.7 C 201.3 93.4 202.3 94.9 203.4 97.8 C 204.5 100.7 204.8 107.0 206.6 112.0 C 208.4 117.0 212.1 122.8 214.4 127.5 C 216.7 132.2 217.2 135.8 220.6 140.0 C 224.0 144.2 232.3 150.4 234.7 152.5" fill="none" stroke="#dca6a6" stroke-width="2.5" stroke-linecap="round" stroke-linejoin="round"/>
<path d="M 325.0 66.6 C 326.3 65.8 330.0 61.5 332.8 62.0 C 335.6 62.5 341.5 66.9 342.0 69.7 C 342.5 72.5 338.8 76.7 336.0 79.0 C 333.2 81.3 327.7 81.1 325.0 83.8 C 322.3 86.4 320.3 90.3 320.0 94.7 C 319.7 99.1 321.6 105.6 323.4 110.0 C 325.2 114.4 329.7 119.2 331.0 121.0" fill="none" stroke="#b07a7a" stroke-width="3.4" stroke-linecap="round" stroke-linejoin="round"/><path d="M 325.0 66.6 C 326.3 65.8 330.0 61.5 332.8 62.0 C 335.6 62.5 341.5 66.9 342.0 69.7 C 342.5 72.5 338.8 76.7 336.0 79.0 C 333.2 81.3 327.7 81.1 325.0 83.8 C 322.3 86.4 320.3 90.3 320.0 94.7 C 319.7 99.1 321.6 105.6 323.4 110.0 C 325.2 114.4 329.7 119.2 331.0 121.0" fill="none" stroke="#dca6a6" stroke-width="2.5" stroke-linecap="round" stroke-linejoin="round"/>
<path d="M 334.4 105.6 C 334.7 108.2 333.9 116.8 336.0 121.0 C 338.1 125.2 343.0 129.5 347.0 130.6 C 351.0 131.7 357.8 128.0 360.0 127.5" fill="none" stroke="#b07a7a" stroke-width="3.4" stroke-linecap="round" stroke-linejoin="round"/><path d="M 334.4 105.6 C 334.7 108.2 333.9 116.8 336.0 121.0 C 338.1 125.2 343.0 129.5 347.0 130.6 C 351.0 131.7 357.8 128.0 360.0 127.5" fill="none" stroke="#dca6a6" stroke-width="2.5" stroke-linecap="round" stroke-linejoin="round"/>
<path d="M 382.0 119.0 C 383.8 120.5 389.1 125.3 392.7 128.0 C 396.2 130.7 398.6 133.8 403.3 135.0 C 408.0 136.2 416.9 134.7 421.0 135.0 C 425.1 135.3 426.8 136.4 428.0 136.7" fill="none" stroke="#b07a7a" stroke-width="3.4" stroke-linecap="round" stroke-linejoin="round"/><path d="M 382.0 119.0 C 383.8 120.5 389.1 125.3 392.7 128.0 C 396.2 130.7 398.6 133.8 403.3 135.0 C 408.0 136.2 416.9 134.7 421.0 135.0 C 425.1 135.3 426.8 136.4 428.0 136.7" fill="none" stroke="#dca6a6" stroke-width="2.5" stroke-linecap="round" stroke-linejoin="round"/>
<path d="M 368.0 138.4 C 369.2 140.8 374.4 148.4 375.0 152.5 C 375.6 156.6 374.5 160.7 371.6 163.0 C 368.7 165.3 359.9 166.0 357.6 166.6" fill="none" stroke="#b07a7a" stroke-width="3.4" stroke-linecap="round" stroke-linejoin="round"/><path d="M 368.0 138.4 C 369.2 140.8 374.4 148.4 375.0 152.5 C 375.6 156.6 374.5 160.7 371.6 163.0 C 368.7 165.3 359.9 166.0 357.6 166.6" fill="none" stroke="#dca6a6" stroke-width="2.5" stroke-linecap="round" stroke-linejoin="round"/>
<path d="M 375.0 103.3 C 377.3 102.1 385.2 96.8 389.0 96.2 C 392.8 95.7 395.0 96.9 398.0 99.8 C 401.0 102.7 403.6 112.0 406.8 113.8 C 410.0 115.5 414.1 112.6 417.3 110.3 C 420.5 108.0 424.6 101.5 426.0 99.8" fill="none" stroke="#b07a7a" stroke-width="3.4" stroke-linecap="round" stroke-linejoin="round"/><path d="M 375.0 103.3 C 377.3 102.1 385.2 96.8 389.0 96.2 C 392.8 95.7 395.0 96.9 398.0 99.8 C 401.0 102.7 403.6 112.0 406.8 113.8 C 410.0 115.5 414.1 112.6 417.3 110.3 C 420.5 108.0 424.6 101.5 426.0 99.8" fill="none" stroke="#dca6a6" stroke-width="2.5" stroke-linecap="round" stroke-linejoin="round"/>
<path d="M 463.0 84.0 C 463.6 88.4 466.6 104.1 466.6 110.3 C 466.6 116.5 467.7 119.7 463.0 120.9 C 458.3 122.1 444.2 119.1 438.4 117.3 C 432.6 115.5 429.7 111.5 428.0 110.3" fill="none" stroke="#b07a7a" stroke-width="3.4" stroke-linecap="round" stroke-linejoin="round"/><path d="M 463.0 84.0 C 463.6 88.4 466.6 104.1 466.6 110.3 C 466.6 116.5 467.7 119.7 463.0 120.9 C 458.3 122.1 444.2 119.1 438.4 117.3 C 432.6 115.5 429.7 111.5 428.0 110.3" fill="none" stroke="#dca6a6" stroke-width="2.5" stroke-linecap="round" stroke-linejoin="round"/>
<path d="M 452.5 145.5 C 454.0 149.0 457.8 162.5 461.3 166.6 C 464.8 170.7 469.8 170.0 473.6 170.0 C 477.4 170.0 482.3 167.2 484.0 166.6" fill="none" stroke="#b07a7a" stroke-width="3.4" stroke-linecap="round" stroke-linejoin="round"/><path d="M 452.5 145.5 C 454.0 149.0 457.8 162.5 461.3 166.6 C 464.8 170.7 469.8 170.0 473.6 170.0 C 477.4 170.0 482.3 167.2 484.0 166.6" fill="none" stroke="#dca6a6" stroke-width="2.5" stroke-linecap="round" stroke-linejoin="round"/>
<path d="M 477.0 145.5 C 480.5 144.9 492.7 143.2 498.0 142.0 C 503.3 140.8 507.0 139.0 508.8 138.4" fill="none" stroke="#b07a7a" stroke-width="3.4" stroke-linecap="round" stroke-linejoin="round"/><path d="M 477.0 145.5 C 480.5 144.9 492.7 143.2 498.0 142.0 C 503.3 140.8 507.0 139.0 508.8 138.4" fill="none" stroke="#dca6a6" stroke-width="2.5" stroke-linecap="round" stroke-linejoin="round"/>
<path d="M 501.7 184.0 C 502.2 186.4 506.2 194.1 505.0 198.2 C 503.8 202.3 499.4 206.4 494.7 208.8 C 490.0 211.1 479.9 211.7 477.0 212.3" fill="none" stroke="#b07a7a" stroke-width="3.4" stroke-linecap="round" stroke-linejoin="round"/><path d="M 501.7 184.0 C 502.2 186.4 506.2 194.1 505.0 198.2 C 503.8 202.3 499.4 206.4 494.7 208.8 C 490.0 211.1 479.9 211.7 477.0 212.3" fill="none" stroke="#dca6a6" stroke-width="2.5" stroke-linecap="round" stroke-linejoin="round"/>
<path d="M 410.3 244.4 C 413.8 243.8 425.2 239.7 431.4 240.9 C 437.5 242.1 443.1 246.7 447.2 251.4 C 451.3 256.1 454.2 263.1 456.0 269.0 C 457.8 274.9 458.4 283.1 457.8 286.6 C 457.2 290.1 453.4 289.4 452.5 290.0" fill="none" stroke="#b07a7a" stroke-width="3.4" stroke-linecap="round" stroke-linejoin="round"/><path d="M 410.3 244.4 C 413.8 243.8 425.2 239.7 431.4 240.9 C 437.5 242.1 443.1 246.7 447.2 251.4 C 451.3 256.1 454.2 263.1 456.0 269.0 C 457.8 274.9 458.4 283.1 457.8 286.6 C 457.2 290.1 453.4 289.4 452.5 290.0" fill="none" stroke="#dca6a6" stroke-width="2.5" stroke-linecap="round" stroke-linejoin="round"/>
<path d="M 293.4 228.4 C 292.1 230.2 287.9 235.5 285.6 239.4 C 283.3 243.3 281.7 248.3 279.4 251.9 C 277.1 255.5 272.9 259.7 271.6 261.2" fill="none" stroke="#b07a7a" stroke-width="3.4" stroke-linecap="round" stroke-linejoin="round"/><path d="M 293.4 228.4 C 292.1 230.2 287.9 235.5 285.6 239.4 C 283.3 243.3 281.7 248.3 279.4 251.9 C 277.1 255.5 272.9 259.7 271.6 261.2" fill="none" stroke="#dca6a6" stroke-width="2.5" stroke-linecap="round" stroke-linejoin="round"/>
<polygon points="167.5,68.0 186.0,69.7 184.7,85.3 173.8,91.6 164.4,80.6" fill="#8a10a2" stroke="#5a0a70" stroke-width="0.7" stroke-linejoin="round"/>
<polygon points="144.0,91.0 152.0,87.0 191.0,117.0 186.0,126.0 146.0,104.0" fill="#9c0cb4" stroke="#5a0a70" stroke-width="0.7" stroke-linejoin="round"/>
<polygon points="127.0,127.0 147.0,125.5 146.0,131.0 240.0,166.0 240.0,188.0 139.4,146.5" fill="#b412d0" stroke="#5a0a70" stroke-width="0.7" stroke-linejoin="round"/>
<polygon points="123.8,157.0 192.5,170.0 240.0,173.0 240.0,184.0 192.5,184.0 123.8,168.0" fill="#a810c4" stroke="#5a0a70" stroke-width="0.7" stroke-linejoin="round"/>
<ellipse cx="216" cy="189" rx="11" ry="9" fill="#c020dc"/>
<polygon points="159.7,186.2 176.9,198.8 208.0,238.0 217.5,247.2 205.0,252.0 200.0,250.0 167.5,208.0" fill="#b014cc" stroke="#5a0a70" stroke-width="0.7" stroke-linejoin="round"/>
<polygon points="148.8,233.0 173.8,234.7 175.3,242.5 217.5,248.8 205.0,252.0 152.0,247.0" fill="#80108e" stroke="#5a0a70" stroke-width="0.7" stroke-linejoin="round"/>
<polygon points="197.0,180.0 240.0,178.0 240.0,200.0 205.0,197.0" fill="#b81ed4" stroke="#7a1090" stroke-width="0.7" stroke-linejoin="round"/>
<polygon points="236.0,166.0 266.0,180.0 263.0,193.0 236.0,190.0" fill="#c818dc" stroke="#8a10a0" stroke-width="0.7" stroke-linejoin="round"/>
<polygon points="347.0,96.2 382.0,117.3 380.4,122.6 347.0,106.8" fill="#c81ce0" stroke="#5a0a70" stroke-width="0.7" stroke-linejoin="round"/>
<polygon points="340.0,124.4 368.0,135.0 361.0,143.7 347.0,138.4" fill="#a810c4" stroke="#5a0a70" stroke-width="0.7" stroke-linejoin="round"/>
<polygon points="347.0,156.0 382.0,177.0 384.0,180.6 368.0,180.6 350.5,166.6" fill="#8a14a6" stroke="#5a0a70" stroke-width="0.7" stroke-linejoin="round"/>
<polygon points="350.5,186.0 463.0,172.0 463.0,181.0 354.0,201.0" fill="#7a1490" stroke="#5a0a70" stroke-width="0.7" stroke-linejoin="round"/>
<polygon points="362.8,217.0 452.5,180.0 456.0,192.0 366.0,230.0" fill="#8c16a4" stroke="#5a0a70" stroke-width="0.7" stroke-linejoin="round"/>
<polygon points="410.3,230.3 470.0,212.7 468.3,221.5 413.8,240.9" fill="#7c148e" stroke="#5a0a70" stroke-width="0.7" stroke-linejoin="round"/>
<polygon points="500.3,204.2 452.1,243.3 449.3,239.9 446.0,258.0 464.4,258.5 461.6,255.0 509.7,215.8" fill="#b412d0" stroke="#5a0a70" stroke-width="0.7" stroke-linejoin="round"/>
<polygon points="450.7,258.4 471.8,263.7 470.0,281.3 461.3,283.0 452.5,276.0" fill="#8a129e" stroke="#5a0a70" stroke-width="0.7" stroke-linejoin="round"/>
<polygon points="354.0,160.0 384.0,177.6 380.0,181.0 350.0,166.0" fill="#c418dc" stroke="#5a0a70" stroke-width="0.7" stroke-linejoin="round"/>
<polygon points="238.1,60.2 237.0,59.4 235.5,59.0 233.7,59.1 231.8,59.7 229.7,60.8 227.7,62.4 225.7,64.5 224.0,66.9 222.5,69.7 221.4,72.6 220.8,75.8 220.6,79.0 220.9,82.1 221.8,85.1 223.1,87.8 225.0,90.3 216.9,81.4 214.7,78.5 212.9,75.4 211.7,72.0 211.1,68.5 211.0,65.1 211.5,61.7 212.4,58.6 213.8,55.8 215.6,53.4 217.7,51.5 219.9,50.1 222.2,49.3 224.5,49.0 226.6,49.3 228.5,50.1 230.0,51.3" fill="#1c8f9e" stroke="#178494" stroke-width="0.6"/>
<polygon points="256.1,79.9 255.0,79.1 253.5,78.7 251.7,78.8 249.8,79.4 247.7,80.6 245.7,82.2 243.7,84.2 242.0,86.6 240.5,89.4 239.4,92.4 238.8,95.5 238.6,98.7 238.9,101.8 239.8,104.8 241.1,107.5 243.0,110.0 234.9,101.1 232.7,98.2 230.9,95.1 229.7,91.7 229.1,88.2 229.0,84.8 229.5,81.4 230.4,78.3 231.8,75.5 233.6,73.2 235.7,71.2 237.9,69.9 240.2,69.0 242.5,68.7 244.6,69.0 246.5,69.8 248.0,71.0" fill="#1c8f9e" stroke="#178494" stroke-width="0.6"/>
<polygon points="274.1,99.6 273.0,98.8 271.5,98.4 269.7,98.5 267.8,99.2 265.7,100.3 263.7,101.9 261.7,103.9 260.0,106.3 258.5,109.1 257.4,112.1 256.8,115.2 256.6,118.4 256.9,121.5 257.8,124.5 259.1,127.3 261.0,129.7 252.9,120.8 250.7,118.0 248.9,114.8 247.7,111.4 247.1,108.0 247.0,104.5 247.5,101.2 248.4,98.1 249.8,95.3 251.6,92.9 253.7,91.0 255.9,89.6 258.2,88.7 260.5,88.4 262.6,88.7 264.5,89.5 266.0,90.7" fill="#1c8f9e" stroke="#178494" stroke-width="0.6"/>
<polygon points="207.0,70.5 209.6,73.0 212.6,75.0 215.9,76.5 219.3,77.5 222.7,77.9 226.1,77.7 229.2,77.0 232.2,75.9 234.7,74.3 236.8,72.4 238.4,70.3 239.4,68.1 239.9,65.9 239.8,63.7 239.2,61.8 238.1,60.2 230.0,51.3 230.7,52.5 231.0,54.0 230.7,55.8 229.9,57.7 228.6,59.6 226.8,61.5 224.6,63.3 222.0,64.8 219.2,66.0 216.1,66.8 212.9,67.2 209.7,67.1 206.6,66.4 203.7,65.3 201.1,63.7 198.9,61.7" fill="#31c9da" stroke="#178494" stroke-width="0.7"/>
<polygon points="225.0,90.3 227.6,92.7 230.6,94.7 233.9,96.2 237.3,97.2 240.7,97.6 244.1,97.4 247.2,96.8 250.2,95.6 252.7,94.0 254.8,92.2 256.4,90.1 257.4,87.8 257.9,85.6 257.8,83.5 257.2,81.5 256.1,79.9 248.0,71.0 248.7,72.2 249.0,73.7 248.7,75.5 247.9,77.4 246.6,79.3 244.8,81.2 242.6,83.0 240.0,84.5 237.2,85.7 234.1,86.5 230.9,86.9 227.7,86.8 224.6,86.2 221.7,85.0 219.1,83.4 216.9,81.4" fill="#31c9da" stroke="#178494" stroke-width="0.7"/>
<polygon points="243.0,110.0 245.6,112.4 248.6,114.5 251.9,116.0 255.3,116.9 258.7,117.3 262.1,117.1 265.2,116.5 268.2,115.3 270.7,113.8 272.8,111.9 274.4,109.8 275.4,107.5 275.9,105.3 275.8,103.2 275.2,101.2 274.1,99.6 266.0,90.7 266.7,91.9 267.0,93.5 266.7,95.2 265.9,97.1 264.6,99.1 262.8,101.0 260.6,102.7 258.0,104.2 255.2,105.4 252.1,106.2 248.9,106.6 245.7,106.5 242.6,105.9 239.7,104.8 237.1,103.2 234.9,101.1" fill="#31c9da" stroke="#178494" stroke-width="0.7"/>
<polygon points="261.0,129.7 263.6,132.2 266.6,134.2 269.9,135.7 273.3,136.6 276.7,137.0 280.1,136.9 283.2,136.2 286.2,135.0 288.7,133.5 290.8,131.6 292.4,129.5 293.4,127.3 293.9,125.0 293.8,122.9 293.2,120.9 292.1,119.3 284.0,110.5 284.7,111.7 285.0,113.2 284.7,114.9 283.9,116.8 282.6,118.8 280.8,120.7 278.6,122.4 276.0,123.9 273.2,125.1 270.1,126.0 266.9,126.3 263.7,126.2 260.6,125.6 257.7,124.5 255.1,122.9 252.9,120.8" fill="#31c9da" stroke="#178494" stroke-width="0.7"/>
<polygon points="291.3,121.5 291.0,119.9 291.1,117.9 291.6,115.7 292.5,113.3 293.9,110.8 295.7,108.3 297.9,106.0 300.5,103.9 303.4,102.2 306.5,100.9 309.7,100.2 313.0,99.9 316.3,100.2 319.4,101.0 323.0,102.7 326.2,104.8 313.0,100.0 310.3,98.1 307.4,96.7 303.7,95.6 299.8,95.1 296.0,95.2 292.3,95.8 288.9,97.0 285.7,98.6 283.0,100.6 280.7,102.9 278.9,105.3 277.7,107.9 277.0,110.4 276.9,112.8 277.3,114.9 278.1,116.7" fill="#1f96a4" stroke="#178494" stroke-width="0.6"/>
<polygon points="323.6,133.2 323.2,131.6 323.3,129.6 323.8,127.4 324.7,124.9 326.1,122.4 327.9,120.0 330.2,117.7 332.7,115.6 335.6,113.9 338.7,112.6 341.9,111.8 345.2,111.6 348.5,111.9 351.7,112.7 355.2,114.3 358.4,116.4 345.2,111.6 342.5,109.7 339.6,108.3 335.9,107.3 332.1,106.8 328.2,106.9 324.6,107.5 321.1,108.6 317.9,110.2 315.2,112.2 312.9,114.5 311.1,117.0 309.9,119.6 309.3,122.1 309.1,124.5 309.5,126.6 310.4,128.4" fill="#1f96a4" stroke="#178494" stroke-width="0.6"/>
<polygon points="294.0,93.1 296.8,95.6 299.2,98.5 301.1,101.6 302.5,104.9 303.3,108.1 303.5,111.4 303.2,114.4 302.5,117.1 301.4,119.4 299.9,121.3 298.2,122.7 296.4,123.5 294.6,123.7 292.9,123.4 292.0,122.7 291.3,121.5 278.1,116.7 279.4,118.1 280.9,119.0 282.0,119.1 283.3,118.7 284.6,117.7 285.8,116.2 286.9,114.2 287.7,111.7 288.3,108.9 288.5,105.9 288.3,102.7 287.6,99.5 286.6,96.3 285.0,93.4 283.1,90.6 280.8,88.3" fill="#36cbdb" stroke="#178494" stroke-width="0.7"/>
<polygon points="326.2,104.8 329.0,107.3 331.4,110.2 333.3,113.3 334.7,116.5 335.5,119.8 335.7,123.0 335.5,126.0 334.7,128.8 333.6,131.1 332.1,133.0 330.5,134.3 328.7,135.1 326.9,135.4 325.2,135.0 324.2,134.4 323.6,133.2 310.4,128.4 311.6,129.8 313.1,130.7 314.2,130.8 315.5,130.4 316.8,129.4 318.0,127.8 319.1,125.8 319.9,123.4 320.5,120.6 320.7,117.6 320.5,114.4 319.9,111.2 318.8,108.0 317.3,105.0 315.3,102.3 313.0,100.0" fill="#36cbdb" stroke="#178494" stroke-width="0.7"/>
<polygon points="206.7,324.2 208.7,320.7 210.2,316.9 211.1,313.0 211.4,309.1 211.2,305.4 210.3,301.8 209.0,298.7 207.3,295.9 205.3,293.7 203.1,292.0 200.8,290.9 198.6,290.4 196.5,290.5 194.6,291.2 193.2,292.3 192.6,293.4 182.8,303.8 183.9,302.2 184.9,301.6 186.3,301.4 188.0,301.7 189.9,302.6 191.9,304.0 193.9,305.9 195.8,308.3 197.4,311.1 198.8,314.2 199.7,317.6 200.2,321.1 200.2,324.7 199.6,328.2 198.5,331.5 196.9,334.6" fill="#1b8e9c" stroke="#178494" stroke-width="0.6"/>
<polygon points="231.7,297.5 233.7,294.0 235.2,290.2 236.1,286.3 236.4,282.4 236.2,278.7 235.3,275.2 234.0,272.0 232.3,269.3 230.3,267.0 228.1,265.3 225.8,264.2 223.6,263.8 221.5,263.8 219.6,264.5 218.2,265.6 217.6,266.7 207.8,277.1 208.9,275.6 209.9,274.9 211.3,274.7 213.0,275.0 214.9,275.9 216.9,277.3 218.9,279.2 220.8,281.6 222.4,284.4 223.8,287.5 224.7,290.9 225.2,294.4 225.2,298.0 224.6,301.5 223.5,304.9 221.9,308.0" fill="#1b8e9c" stroke="#178494" stroke-width="0.6"/>
<polygon points="256.7,270.9 258.7,267.3 260.2,263.5 261.1,259.7 261.4,255.8 261.2,252.0 260.3,248.5 259.0,245.3 257.3,242.6 255.3,240.4 253.1,238.7 250.8,237.6 248.6,237.1 246.5,237.2 244.6,237.8 243.2,239.0 242.6,240.0 232.8,250.5 233.9,248.9 234.9,248.2 236.3,248.0 238.0,248.4 239.9,249.2 241.9,250.6 243.9,252.6 245.8,254.9 247.4,257.7 248.8,260.9 249.7,264.2 250.2,267.8 250.2,271.3 249.6,274.9 248.5,278.2 246.9,281.3" fill="#1b8e9c" stroke="#178494" stroke-width="0.6"/>
<polygon points="167.6,320.0 167.5,321.5 168.0,323.1 169.0,325.0 170.5,326.9 172.6,328.8 175.1,330.5 178.0,331.9 181.2,333.1 184.7,333.8 188.2,334.0 191.8,333.8 195.3,333.0 198.5,331.6 201.5,329.8 204.1,327.4 206.7,324.2 196.9,334.6 194.8,337.4 191.7,340.2 188.3,342.5 184.7,344.2 180.9,345.4 177.0,346.0 173.2,346.0 169.7,345.4 166.4,344.3 163.5,342.8 161.1,341.0 159.3,338.9 158.0,336.7 157.4,334.5 157.3,332.3 157.8,330.5" fill="#30c8d8" stroke="#178494" stroke-width="0.7"/>
<polygon points="192.6,293.4 192.5,294.8 193.0,296.5 194.0,298.3 195.5,300.2 197.6,302.1 200.1,303.8 203.0,305.3 206.2,306.4 209.7,307.1 213.2,307.4 216.8,307.1 220.3,306.3 223.5,305.0 226.5,303.1 229.1,300.8 231.7,297.5 221.9,308.0 219.8,310.7 216.7,313.5 213.3,315.8 209.7,317.6 205.9,318.8 202.0,319.3 198.2,319.3 194.7,318.7 191.4,317.7 188.5,316.2 186.1,314.3 184.3,312.2 183.0,310.0 182.4,307.8 182.3,305.7 182.8,303.8" fill="#30c8d8" stroke="#178494" stroke-width="0.7"/>
<polygon points="217.6,266.7 217.5,268.1 218.0,269.8 219.0,271.7 220.5,273.6 222.6,275.4 225.1,277.1 228.0,278.6 231.2,279.7 234.7,280.4 238.2,280.7 241.8,280.4 245.3,279.6 248.5,278.3 251.5,276.4 254.1,274.1 256.7,270.9 246.9,281.3 244.8,284.0 241.7,286.8 238.3,289.2 234.7,290.9 230.9,292.1 227.0,292.7 223.2,292.6 219.7,292.1 216.4,291.0 213.5,289.5 211.1,287.6 209.3,285.6 208.0,283.3 207.4,281.1 207.3,279.0 207.8,277.1" fill="#30c8d8" stroke="#178494" stroke-width="0.7"/>
<polygon points="242.6,240.0 242.5,241.5 243.0,243.1 244.0,245.0 245.5,246.9 247.6,248.8 250.1,250.5 253.0,251.9 256.2,253.1 259.7,253.8 263.2,254.0 266.8,253.8 270.3,253.0 273.5,251.6 276.5,249.8 279.1,247.4 281.7,244.2 271.9,254.6 269.8,257.4 266.7,260.2 263.3,262.5 259.7,264.2 255.9,265.4 252.0,266.0 248.2,266.0 244.7,265.4 241.4,264.3 238.5,262.8 236.1,261.0 234.3,258.9 233.0,256.7 232.4,254.5 232.3,252.3 232.8,250.5" fill="#30c8d8" stroke="#178494" stroke-width="0.7"/>
<polygon points="459.2,96.9 459.0,95.5 458.1,94.1 456.6,92.9 454.6,91.9 452.0,91.2 449.1,90.9 445.9,91.1 442.5,91.7 439.1,92.8 435.8,94.5 432.7,96.6 429.9,99.1 427.6,102.1 425.8,105.3 424.5,108.8 423.9,112.5 424.8,101.3 425.4,97.1 426.7,93.1 428.5,89.3 430.9,86.0 433.7,83.1 436.8,80.7 440.2,78.9 443.6,77.7 446.9,77.1 450.1,77.2 453.0,77.7 455.6,78.7 457.6,80.2 459.0,81.9 459.8,83.8 460.0,85.8" fill="#177f8c" stroke="#178494" stroke-width="0.6"/>
<polygon points="456.5,133.1 456.3,131.6 455.4,130.3 453.9,129.0 451.9,128.0 449.3,127.3 446.4,127.1 443.2,127.2 439.8,127.8 436.4,129.0 433.1,130.6 430.0,132.7 427.2,135.3 424.9,138.2 423.1,141.5 421.8,145.0 421.2,148.6 422.1,137.5 422.7,133.3 424.0,129.2 425.8,125.5 428.2,122.1 431.0,119.2 434.1,116.9 437.5,115.1 440.9,113.9 444.3,113.3 447.4,113.3 450.4,113.9 452.9,114.9 454.9,116.3 456.3,118.0 457.2,119.9 457.3,121.9" fill="#177f8c" stroke="#178494" stroke-width="0.6"/>
<polygon points="426.6,76.3 426.6,80.6 427.3,84.7 428.6,88.7 430.4,92.4 432.8,95.7 435.5,98.5 438.5,100.7 441.7,102.4 445.0,103.5 448.1,104.0 451.1,103.9 453.7,103.2 455.9,102.1 457.6,100.6 458.7,98.9 459.2,96.9 460.0,85.8 459.6,87.1 458.5,88.4 456.9,89.4 454.7,90.1 452.1,90.4 449.2,90.2 446.0,89.6 442.8,88.5 439.6,86.8 436.5,84.7 433.8,82.2 431.4,79.2 429.5,76.0 428.2,72.5 427.5,68.8 427.5,65.2" fill="#2cbccc" stroke="#178494" stroke-width="0.7"/>
<polygon points="423.9,112.5 424.0,116.7 424.6,120.9 425.9,124.9 427.7,128.5 430.1,131.8 432.8,134.6 435.8,136.9 439.0,138.6 442.3,139.7 445.5,140.1 448.4,140.0 451.0,139.4 453.2,138.3 454.9,136.8 456.0,135.0 456.5,133.1 457.3,121.9 456.9,123.3 455.8,124.5 454.2,125.5 452.0,126.2 449.4,126.5 446.5,126.4 443.3,125.7 440.1,124.6 436.9,123.0 433.8,120.9 431.1,118.3 428.7,115.4 426.8,112.1 425.5,108.6 424.8,105.0 424.8,101.3" fill="#2cbccc" stroke="#178494" stroke-width="0.7"/>
<polygon points="421.2,148.6 421.3,152.9 421.9,157.0 423.2,161.0 425.0,164.7 427.4,168.0 430.1,170.8 433.1,173.1 436.3,174.7 439.6,175.8 442.8,176.3 445.7,176.2 448.3,175.5 450.5,174.4 452.2,172.9 453.3,171.2 453.8,169.2 454.6,158.1 454.2,159.4 453.1,160.7 451.5,161.7 449.3,162.4 446.7,162.7 443.8,162.5 440.6,161.9 437.4,160.8 434.2,159.1 431.1,157.0 428.4,154.5 426.0,151.6 424.1,148.3 422.8,144.8 422.1,141.2 422.1,137.5" fill="#2cbccc" stroke="#178494" stroke-width="0.7"/>
<polygon points="471.4,118.4 472.1,116.2 473.4,113.9 475.3,111.4 477.7,109.0 480.8,106.7 484.3,104.7 488.2,103.1 492.4,102.0 496.7,101.5 501.1,101.6 505.4,102.3 509.6,103.8 513.4,105.8 517.1,108.8 520.6,112.4 523.5,116.5 510.7,106.6 508.3,102.9 505.4,99.7 501.7,96.8 497.4,94.3 492.7,92.5 487.9,91.4 483.2,91.0 478.5,91.2 474.1,92.2 470.1,93.7 466.6,95.7 463.6,98.0 461.3,100.6 459.8,103.3 458.9,106.0 458.7,108.5" fill="#1c8896" stroke="#178494" stroke-width="0.6"/>
<polygon points="484.7,86.5 486.9,90.9 488.5,95.4 489.3,100.0 489.4,104.5 488.9,108.7 487.8,112.6 486.2,115.9 484.3,118.8 482.0,120.9 479.6,122.4 477.3,123.1 475.1,123.2 473.1,122.5 471.9,121.5 471.4,120.2 471.4,118.4 458.7,108.5 459.1,110.7 460.2,112.5 461.5,113.5 462.9,113.7 464.6,113.3 466.5,112.2 468.4,110.4 470.4,108.0 472.1,105.0 473.6,101.6 474.7,97.7 475.3,93.5 475.4,89.2 474.9,84.9 473.7,80.6 472.0,76.6" fill="#35c6d6" stroke="#178494" stroke-width="0.7"/>
<polygon points="523.5,116.5 525.7,120.9 527.2,125.4 528.0,130.0 528.2,134.5 527.7,138.7 526.6,142.6 525.0,145.9 523.0,148.8 520.8,150.9 518.4,152.4 516.0,153.1 513.8,153.2 511.9,152.5 510.6,151.5 510.1,150.2 510.2,148.4 497.4,138.5 497.9,140.7 498.9,142.5 500.2,143.5 501.6,143.7 503.3,143.3 505.2,142.2 507.2,140.4 509.1,138.0 510.9,135.0 512.4,131.6 513.4,127.7 514.1,123.5 514.1,119.2 513.6,114.9 512.5,110.6 510.7,106.6" fill="#35c6d6" stroke="#178494" stroke-width="0.7"/>
<g transform="rotate(-10.0 104.0 167.0)"><ellipse cx="104.0" cy="167.0" rx="17.0" ry="14.0" fill="none" stroke="#0f6a72" stroke-width="7.2"/><ellipse cx="104.0" cy="167.0" rx="17.0" ry="14.0" fill="none" stroke="#18808a" stroke-width="6.0"/></g>
<g transform="rotate(-10.0 105.0 181.0)"><ellipse cx="105.0" cy="181.0" rx="17.0" ry="14.0" fill="none" stroke="#0f6a72" stroke-width="7.2"/><ellipse cx="105.0" cy="181.0" rx="17.0" ry="14.0" fill="none" stroke="#18808a" stroke-width="6.0"/></g>
<g transform="rotate(0.0 362.0 96.0)"><ellipse cx="362.0" cy="96.0" rx="17.0" ry="16.0" fill="none" stroke="#0f6a72" stroke-width="7.2"/><ellipse cx="362.0" cy="96.0" rx="17.0" ry="16.0" fill="none" stroke="#1a7f88" stroke-width="6.0"/></g>
<g transform="rotate(0.0 360.0 94.0)"><ellipse cx="360.0" cy="94.0" rx="18.0" ry="17.0" fill="none" stroke="#0f6a72" stroke-width="8.2"/><ellipse cx="360.0" cy="94.0" rx="18.0" ry="17.0" fill="none" stroke="#18808a" stroke-width="7.0"/></g>
<g transform="rotate(0.0 432.0 272.0)"><ellipse cx="432.0" cy="272.0" rx="12.0" ry="13.0" fill="none" stroke="#0f6a72" stroke-width="7.2"/><ellipse cx="432.0" cy="272.0" rx="12.0" ry="13.0" fill="none" stroke="#22a8b6" stroke-width="6.0"/></g>
<path d="M 236.0 127.5 C 235.5 129.1 232.3 132.3 232.8 137.0 C 233.3 141.7 236.1 150.9 239.0 155.6 C 241.9 160.3 246.1 162.7 250.0 165.0 C 253.9 167.3 258.6 170.0 262.5 169.7 C 266.4 169.4 271.0 167.3 273.4 163.4 C 275.8 159.5 276.8 150.9 276.6 146.0 C 276.4 141.1 273.6 136.3 272.0 133.8 C 270.4 131.2 267.8 131.1 267.0 130.6" fill="none" stroke="#b07a7a" stroke-width="3.4" stroke-linecap="round" stroke-linejoin="round"/><path d="M 236.0 127.5 C 235.5 129.1 232.3 132.3 232.8 137.0 C 233.3 141.7 236.1 150.9 239.0 155.6 C 241.9 160.3 246.1 162.7 250.0 165.0 C 253.9 167.3 258.6 170.0 262.5 169.7 C 266.4 169.4 271.0 167.3 273.4 163.4 C 275.8 159.5 276.8 150.9 276.6 146.0 C 276.4 141.1 273.6 136.3 272.0 133.8 C 270.4 131.2 267.8 131.1 267.0 130.6" fill="none" stroke="#dea8a8" stroke-width="2.5" stroke-linecap="round" stroke-linejoin="round"/>
<path d="M 273.4 127.5 C 275.8 126.2 282.6 120.8 287.5 119.7 C 292.4 118.6 298.8 118.7 303.0 121.0 C 307.2 123.3 310.4 129.0 312.5 133.8 C 314.6 138.5 314.6 144.2 315.6 149.4 C 316.6 154.6 317.7 159.8 318.8 165.0 C 319.8 170.2 320.5 174.2 322.0 180.6 C 323.5 187.0 327.1 197.5 327.8 203.4 C 328.5 209.3 328.6 212.9 326.2 216.0 C 323.9 219.1 319.2 220.4 313.8 222.2 C 308.3 224.0 302.3 225.4 293.4 227.0 C 284.5 228.6 266.6 229.5 260.6 231.6 C 254.6 233.7 256.4 237.1 257.5 239.4 C 258.6 241.7 265.4 244.6 267.0 245.6" fill="none" stroke="#b07a7a" stroke-width="3.4" stroke-linecap="round" stroke-linejoin="round"/><path d="M 273.4 127.5 C 275.8 126.2 282.6 120.8 287.5 119.7 C 292.4 118.6 298.8 118.7 303.0 121.0 C 307.2 123.3 310.4 129.0 312.5 133.8 C 314.6 138.5 314.6 144.2 315.6 149.4 C 316.6 154.6 317.7 159.8 318.8 165.0 C 319.8 170.2 320.5 174.2 322.0 180.6 C 323.5 187.0 327.1 197.5 327.8 203.4 C 328.5 209.3 328.6 212.9 326.2 216.0 C 323.9 219.1 319.2 220.4 313.8 222.2 C 308.3 224.0 302.3 225.4 293.4 227.0 C 284.5 228.6 266.6 229.5 260.6 231.6 C 254.6 233.7 256.4 237.1 257.5 239.4 C 258.6 241.7 265.4 244.6 267.0 245.6" fill="none" stroke="#dea8a8" stroke-width="2.5" stroke-linecap="round" stroke-linejoin="round"/>
<path d="M 234.0 127.5 C 231.7 131.2 223.1 143.2 220.0 149.4 C 216.9 155.7 215.8 159.8 215.6 165.0 C 215.4 170.2 216.7 174.8 218.8 180.6 C 220.8 186.4 226.5 196.8 228.0 200.0" fill="none" stroke="#b07a7a" stroke-width="3.4" stroke-linecap="round" stroke-linejoin="round"/><path d="M 234.0 127.5 C 231.7 131.2 223.1 143.2 220.0 149.4 C 216.9 155.7 215.8 159.8 215.6 165.0 C 215.4 170.2 216.7 174.8 218.8 180.6 C 220.8 186.4 226.5 196.8 228.0 200.0" fill="none" stroke="#dea8a8" stroke-width="2.5" stroke-linecap="round" stroke-linejoin="round"/>
<path d="M 251.0 180.0 C 253.7 183.1 263.8 193.6 267.0 198.8 C 270.2 203.9 271.1 206.8 270.0 211.0 C 268.9 215.2 265.0 221.1 260.6 223.8 C 256.2 226.4 248.6 227.8 243.4 227.0 C 238.2 226.2 231.7 220.3 229.4 219.0" fill="none" stroke="#b07a7a" stroke-width="3.4" stroke-linecap="round" stroke-linejoin="round"/><path d="M 251.0 180.0 C 253.7 183.1 263.8 193.6 267.0 198.8 C 270.2 203.9 271.1 206.8 270.0 211.0 C 268.9 215.2 265.0 221.1 260.6 223.8 C 256.2 226.4 248.6 227.8 243.4 227.0 C 238.2 226.2 231.7 220.3 229.4 219.0" fill="none" stroke="#dea8a8" stroke-width="2.5" stroke-linecap="round" stroke-linejoin="round"/>
<path d="M 376.0 180.0 C 375.8 183.1 376.2 192.2 374.7 198.8 C 373.2 205.2 368.8 213.5 367.0 219.0 C 365.2 224.5 363.5 228.7 363.8 231.6 C 364.0 234.5 365.7 234.9 368.4 236.2 C 371.1 237.6 378.1 238.9 380.0 239.4" fill="none" stroke="#b07a7a" stroke-width="3.4" stroke-linecap="round" stroke-linejoin="round"/><path d="M 376.0 180.0 C 375.8 183.1 376.2 192.2 374.7 198.8 C 373.2 205.2 368.8 213.5 367.0 219.0 C 365.2 224.5 363.5 228.7 363.8 231.6 C 364.0 234.5 365.7 234.9 368.4 236.2 C 371.1 237.6 378.1 238.9 380.0 239.4" fill="none" stroke="#dea8a8" stroke-width="2.5" stroke-linecap="round" stroke-linejoin="round"/>
<path d="M 473.6 115.6 C 476.0 117.1 484.8 120.6 487.7 124.4 C 490.6 128.2 491.8 132.6 491.2 138.4 C 490.6 144.2 486.9 153.1 484.0 159.5 C 481.1 165.9 478.6 172.4 473.6 177.1 C 468.7 181.8 461.3 185.9 454.3 187.7 C 447.3 189.5 437.6 188.9 431.4 187.7 C 425.2 186.5 419.4 183.5 417.3 180.6 C 415.2 177.7 416.6 171.2 419.0 170.0 C 421.4 168.8 426.4 170.9 431.4 173.6 C 436.4 176.3 443.1 181.3 449.0 186.0 C 454.9 190.7 461.9 197.9 466.6 201.7 C 471.3 205.5 475.3 207.6 477.0 208.8" fill="none" stroke="#b07a7a" stroke-width="3.4" stroke-linecap="round" stroke-linejoin="round"/><path d="M 473.6 115.6 C 476.0 117.1 484.8 120.6 487.7 124.4 C 490.6 128.2 491.8 132.6 491.2 138.4 C 490.6 144.2 486.9 153.1 484.0 159.5 C 481.1 165.9 478.6 172.4 473.6 177.1 C 468.7 181.8 461.3 185.9 454.3 187.7 C 447.3 189.5 437.6 188.9 431.4 187.7 C 425.2 186.5 419.4 183.5 417.3 180.6 C 415.2 177.7 416.6 171.2 419.0 170.0 C 421.4 168.8 426.4 170.9 431.4 173.6 C 436.4 176.3 443.1 181.3 449.0 186.0 C 454.9 190.7 461.9 197.9 466.6 201.7 C 471.3 205.5 475.3 207.6 477.0 208.8" fill="none" stroke="#dea8a8" stroke-width="2.5" stroke-linecap="round" stroke-linejoin="round"/>
<path d="M 415.6 170.5 C 417.1 173.2 420.6 182.3 424.4 186.4 C 428.2 190.5 432.0 192.9 438.4 195.2 C 444.8 197.5 456.6 198.7 463.0 200.4 C 469.4 202.2 475.2 203.6 477.0 205.7 C 478.8 207.8 475.9 211.8 473.6 212.7 C 471.3 213.6 464.8 211.3 463.0 211.0" fill="none" stroke="#b07a7a" stroke-width="3.4" stroke-linecap="round" stroke-linejoin="round"/><path d="M 415.6 170.5 C 417.1 173.2 420.6 182.3 424.4 186.4 C 428.2 190.5 432.0 192.9 438.4 195.2 C 444.8 197.5 456.6 198.7 463.0 200.4 C 469.4 202.2 475.2 203.6 477.0 205.7 C 478.8 207.8 475.9 211.8 473.6 212.7 C 471.3 213.6 464.8 211.3 463.0 211.0" fill="none" stroke="#dea8a8" stroke-width="2.5" stroke-linecap="round" stroke-linejoin="round"/>
<path d="M 378.7 182.9 C 377.8 185.8 375.4 194.6 373.4 200.4 C 371.3 206.2 368.2 213.0 366.4 218.0 C 364.6 223.0 362.5 227.1 362.8 230.3 C 363.1 233.5 363.0 232.6 368.0 237.3 C 373.0 242.0 386.2 253.7 392.7 258.4 C 399.2 263.1 404.4 264.3 406.8 265.5" fill="none" stroke="#b07a7a" stroke-width="3.4" stroke-linecap="round" stroke-linejoin="round"/><path d="M 378.7 182.9 C 377.8 185.8 375.4 194.6 373.4 200.4 C 371.3 206.2 368.2 213.0 366.4 218.0 C 364.6 223.0 362.5 227.1 362.8 230.3 C 363.1 233.5 363.0 232.6 368.0 237.3 C 373.0 242.0 386.2 253.7 392.7 258.4 C 399.2 263.1 404.4 264.3 406.8 265.5" fill="none" stroke="#dea8a8" stroke-width="2.5" stroke-linecap="round" stroke-linejoin="round"/>
<path d="M 478.9 211.0 C 482.1 208.9 494.4 202.8 498.2 198.7 C 502.0 194.6 501.1 188.4 501.7 186.4" fill="none" stroke="#b07a7a" stroke-width="3.4" stroke-linecap="round" stroke-linejoin="round"/><path d="M 478.9 211.0 C 482.1 208.9 494.4 202.8 498.2 198.7 C 502.0 194.6 501.1 188.4 501.7 186.4" fill="none" stroke="#dea8a8" stroke-width="2.5" stroke-linecap="round" stroke-linejoin="round"/>
<line x1="271.8" y1="176.3" x2="268.2" y2="177.2" stroke="#182090" stroke-width="3.7" stroke-linecap="round"/>
<line x1="268.2" y1="177.2" x2="264.5" y2="178.1" stroke="#9a9a9a" stroke-width="3.7" stroke-linecap="round"/>
<line x1="271.8" y1="176.3" x2="268.2" y2="177.2" stroke="#2030e0" stroke-width="2.2" stroke-linecap="round"/>
<line x1="268.2" y1="177.2" x2="264.5" y2="178.1" stroke="#dddddd" stroke-width="2.2" stroke-linecap="round"/>
<line x1="271.0" y1="175.5" x2="267.4" y2="176.4" stroke="#6070ff" stroke-width="0.6" stroke-linecap="round" opacity="0.45"/>
<line x1="267.4" y1="176.4" x2="263.7" y2="177.3" stroke="#ffffff" stroke-width="0.6" stroke-linecap="round" opacity="0.45"/>
<line x1="272.9" y1="172.1" x2="270.6" y2="170.7" stroke="#2a9e28" stroke-width="3.7" stroke-linecap="round"/>
<line x1="270.6" y1="170.7" x2="268.4" y2="169.2" stroke="#9a9a9a" stroke-width="3.7" stroke-linecap="round"/>
<line x1="272.9" y1="172.1" x2="270.6" y2="170.7" stroke="#46e040" stroke-width="2.2" stroke-linecap="round"/>
<line x1="270.6" y1="170.7" x2="268.4" y2="169.2" stroke="#dddddd" stroke-width="2.2" stroke-linecap="round"/>
<line x1="272.1" y1="171.3" x2="269.8" y2="169.9" stroke="#8af880" stroke-width="0.6" stroke-linecap="round" opacity="0.45"/>
<line x1="269.8" y1="169.9" x2="267.6" y2="168.4" stroke="#ffffff" stroke-width="0.6" stroke-linecap="round" opacity="0.45"/>
<line x1="274.2" y1="187.9" x2="271.0" y2="188.0" stroke="#2a9e28" stroke-width="3.7" stroke-linecap="round"/>
<line x1="271.0" y1="188.0" x2="267.8" y2="188.0" stroke="#9a9a9a" stroke-width="3.7" stroke-linecap="round"/>
<line x1="274.2" y1="187.9" x2="271.0" y2="188.0" stroke="#46e040" stroke-width="2.2" stroke-linecap="round"/>
<line x1="271.0" y1="188.0" x2="267.8" y2="188.0" stroke="#dddddd" stroke-width="2.2" stroke-linecap="round"/>
<line x1="273.4" y1="187.1" x2="270.2" y2="187.2" stroke="#8af880" stroke-width="0.6" stroke-linecap="round" opacity="0.45"/>
<line x1="270.2" y1="187.2" x2="267.0" y2="187.2" stroke="#ffffff" stroke-width="0.6" stroke-linecap="round" opacity="0.45"/>
<line x1="274.2" y1="187.9" x2="275.3" y2="191.9" stroke="#2a9e28" stroke-width="3.7" stroke-linecap="round"/>
<line x1="275.3" y1="191.9" x2="276.3" y2="195.9" stroke="#9a9a9a" stroke-width="3.7" stroke-linecap="round"/>
<line x1="274.2" y1="187.9" x2="275.3" y2="191.9" stroke="#46e040" stroke-width="2.2" stroke-linecap="round"/>
<line x1="275.3" y1="191.9" x2="276.3" y2="195.9" stroke="#dddddd" stroke-width="2.2" stroke-linecap="round"/>
<line x1="273.4" y1="187.1" x2="274.5" y2="191.1" stroke="#8af880" stroke-width="0.6" stroke-linecap="round" opacity="0.45"/>
<line x1="274.5" y1="191.1" x2="275.5" y2="195.1" stroke="#ffffff" stroke-width="0.6" stroke-linecap="round" opacity="0.45"/>
<line x1="274.2" y1="187.9" x2="275.9" y2="186.2" stroke="#2a9e28" stroke-width="3.7" stroke-linecap="round"/>
<line x1="275.9" y1="186.2" x2="277.6" y2="184.5" stroke="#9a9a9a" stroke-width="3.7" stroke-linecap="round"/>
<line x1="274.2" y1="187.9" x2="275.9" y2="186.2" stroke="#46e040" stroke-width="2.2" stroke-linecap="round"/>
<line x1="275.9" y1="186.2" x2="277.6" y2="184.5" stroke="#dddddd" stroke-width="2.2" stroke-linecap="round"/>
<line x1="273.4" y1="187.1" x2="275.1" y2="185.4" stroke="#8af880" stroke-width="0.6" stroke-linecap="round" opacity="0.45"/>
<line x1="275.1" y1="185.4" x2="276.8" y2="183.7" stroke="#ffffff" stroke-width="0.6" stroke-linecap="round" opacity="0.45"/>
<line x1="282.2" y1="163.5" x2="279.3" y2="163.5" stroke="#2a9e28" stroke-width="3.7" stroke-linecap="round"/>
<line x1="279.3" y1="163.5" x2="276.4" y2="163.4" stroke="#9a9a9a" stroke-width="3.7" stroke-linecap="round"/>
<line x1="282.2" y1="163.5" x2="279.3" y2="163.5" stroke="#46e040" stroke-width="2.2" stroke-linecap="round"/>
<line x1="279.3" y1="163.5" x2="276.4" y2="163.4" stroke="#dddddd" stroke-width="2.2" stroke-linecap="round"/>
<line x1="281.4" y1="162.7" x2="278.5" y2="162.7" stroke="#8af880" stroke-width="0.6" stroke-linecap="round" opacity="0.45"/>
<line x1="278.5" y1="162.7" x2="275.6" y2="162.6" stroke="#ffffff" stroke-width="0.6" stroke-linecap="round" opacity="0.45"/>
<line x1="282.2" y1="163.5" x2="283.3" y2="166.0" stroke="#2a9e28" stroke-width="3.7" stroke-linecap="round"/>
<line x1="283.3" y1="166.0" x2="284.5" y2="168.5" stroke="#9a9a9a" stroke-width="3.7" stroke-linecap="round"/>
<line x1="282.2" y1="163.5" x2="283.3" y2="166.0" stroke="#46e040" stroke-width="2.2" stroke-linecap="round"/>
<line x1="283.3" y1="166.0" x2="284.5" y2="168.5" stroke="#dddddd" stroke-width="2.2" stroke-linecap="round"/>
<line x1="281.4" y1="162.7" x2="282.5" y2="165.2" stroke="#8af880" stroke-width="0.6" stroke-linecap="round" opacity="0.45"/>
<line x1="282.5" y1="165.2" x2="283.7" y2="167.7" stroke="#ffffff" stroke-width="0.6" stroke-linecap="round" opacity="0.45"/>
<line x1="296.8" y1="172.8" x2="297.0" y2="169.9" stroke="#2a9e28" stroke-width="3.7" stroke-linecap="round"/>
<line x1="297.0" y1="169.9" x2="297.2" y2="167.0" stroke="#9a9a9a" stroke-width="3.7" stroke-linecap="round"/>
<line x1="296.8" y1="172.8" x2="297.0" y2="169.9" stroke="#46e040" stroke-width="2.2" stroke-linecap="round"/>
<line x1="297.0" y1="169.9" x2="297.2" y2="167.0" stroke="#dddddd" stroke-width="2.2" stroke-linecap="round"/>
<line x1="296.0" y1="172.0" x2="296.2" y2="169.1" stroke="#8af880" stroke-width="0.6" stroke-linecap="round" opacity="0.45"/>
<line x1="296.2" y1="169.1" x2="296.4" y2="166.2" stroke="#ffffff" stroke-width="0.6" stroke-linecap="round" opacity="0.45"/>
<line x1="302.4" y1="180.1" x2="304.8" y2="179.2" stroke="#182090" stroke-width="3.7" stroke-linecap="round"/>
<line x1="304.8" y1="179.2" x2="307.1" y2="178.2" stroke="#9a9a9a" stroke-width="3.7" stroke-linecap="round"/>
<line x1="302.4" y1="180.1" x2="304.8" y2="179.2" stroke="#2030e0" stroke-width="2.2" stroke-linecap="round"/>
<line x1="304.8" y1="179.2" x2="307.1" y2="178.2" stroke="#dddddd" stroke-width="2.2" stroke-linecap="round"/>
<line x1="301.6" y1="179.3" x2="304.0" y2="178.4" stroke="#6070ff" stroke-width="0.6" stroke-linecap="round" opacity="0.45"/>
<line x1="304.0" y1="178.4" x2="306.3" y2="177.4" stroke="#ffffff" stroke-width="0.6" stroke-linecap="round" opacity="0.45"/>
<line x1="302.4" y1="180.1" x2="301.9" y2="184.1" stroke="#182090" stroke-width="3.7" stroke-linecap="round"/>
<line x1="301.9" y1="184.1" x2="301.4" y2="188.1" stroke="#9a9a9a" stroke-width="3.7" stroke-linecap="round"/>
<line x1="302.4" y1="180.1" x2="301.9" y2="184.1" stroke="#2030e0" stroke-width="2.2" stroke-linecap="round"/>
<line x1="301.9" y1="184.1" x2="301.4" y2="188.1" stroke="#dddddd" stroke-width="2.2" stroke-linecap="round"/>
<line x1="301.6" y1="179.3" x2="301.1" y2="183.3" stroke="#6070ff" stroke-width="0.6" stroke-linecap="round" opacity="0.45"/>
<line x1="301.1" y1="183.3" x2="300.6" y2="187.3" stroke="#ffffff" stroke-width="0.6" stroke-linecap="round" opacity="0.45"/>
<line x1="292.4" y1="184.7" x2="293.1" y2="184.9" stroke="#a02828" stroke-width="3.7" stroke-linecap="round"/>
<line x1="293.1" y1="184.9" x2="293.8" y2="185.0" stroke="#9a9a9a" stroke-width="3.7" stroke-linecap="round"/>
<line x1="292.4" y1="184.7" x2="293.1" y2="184.9" stroke="#e04040" stroke-width="2.2" stroke-linecap="round"/>
<line x1="293.1" y1="184.9" x2="293.8" y2="185.0" stroke="#dddddd" stroke-width="2.2" stroke-linecap="round"/>
<line x1="291.6" y1="183.9" x2="292.3" y2="184.1" stroke="#ff8080" stroke-width="0.6" stroke-linecap="round" opacity="0.45"/>
<line x1="292.3" y1="184.1" x2="293.0" y2="184.2" stroke="#ffffff" stroke-width="0.6" stroke-linecap="round" opacity="0.45"/>
<line x1="271.8" y1="176.3" x2="272.3" y2="174.2" stroke="#182090" stroke-width="5.5" stroke-linecap="round"/>
<line x1="272.3" y1="174.2" x2="272.9" y2="172.1" stroke="#2a9e28" stroke-width="5.5" stroke-linecap="round"/>
<line x1="271.8" y1="176.3" x2="272.3" y2="174.2" stroke="#2030e0" stroke-width="4.0" stroke-linecap="round"/>
<line x1="272.3" y1="174.2" x2="272.9" y2="172.1" stroke="#46e040" stroke-width="4.0" stroke-linecap="round"/>
<line x1="271.0" y1="175.5" x2="271.5" y2="173.4" stroke="#6070ff" stroke-width="1.2" stroke-linecap="round" opacity="0.45"/>
<line x1="271.5" y1="173.4" x2="272.1" y2="171.3" stroke="#8af880" stroke-width="1.2" stroke-linecap="round" opacity="0.45"/>
<line x1="272.9" y1="172.1" x2="277.5" y2="171.7" stroke="#2a9e28" stroke-width="5.5" stroke-linecap="round"/>
<line x1="277.5" y1="171.7" x2="282.1" y2="171.2" stroke="#2a9e28" stroke-width="5.5" stroke-linecap="round"/>
<line x1="272.9" y1="172.1" x2="277.5" y2="171.7" stroke="#46e040" stroke-width="4.0" stroke-linecap="round"/>
<line x1="277.5" y1="171.7" x2="282.1" y2="171.2" stroke="#46e040" stroke-width="4.0" stroke-linecap="round"/>
<line x1="272.1" y1="171.3" x2="276.7" y2="170.9" stroke="#8af880" stroke-width="1.2" stroke-linecap="round" opacity="0.45"/>
<line x1="276.7" y1="170.9" x2="281.3" y2="170.4" stroke="#8af880" stroke-width="1.2" stroke-linecap="round" opacity="0.45"/>
<line x1="282.1" y1="171.2" x2="285.1" y2="172.6" stroke="#2a9e28" stroke-width="5.5" stroke-linecap="round"/>
<line x1="285.1" y1="172.6" x2="288.0" y2="174.1" stroke="#2a9e28" stroke-width="5.5" stroke-linecap="round"/>
<line x1="282.1" y1="171.2" x2="285.1" y2="172.6" stroke="#46e040" stroke-width="4.0" stroke-linecap="round"/>
<line x1="285.1" y1="172.6" x2="288.0" y2="174.1" stroke="#46e040" stroke-width="4.0" stroke-linecap="round"/>
<line x1="281.3" y1="170.4" x2="284.3" y2="171.8" stroke="#8af880" stroke-width="1.2" stroke-linecap="round" opacity="0.45"/>
<line x1="284.3" y1="171.8" x2="287.2" y2="173.3" stroke="#8af880" stroke-width="1.2" stroke-linecap="round" opacity="0.45"/>
<line x1="288.0" y1="174.1" x2="286.9" y2="177.1" stroke="#2a9e28" stroke-width="5.5" stroke-linecap="round"/>
<line x1="286.9" y1="177.1" x2="285.8" y2="180.0" stroke="#2a9e28" stroke-width="5.5" stroke-linecap="round"/>
<line x1="288.0" y1="174.1" x2="286.9" y2="177.1" stroke="#46e040" stroke-width="4.0" stroke-linecap="round"/>
<line x1="286.9" y1="177.1" x2="285.8" y2="180.0" stroke="#46e040" stroke-width="4.0" stroke-linecap="round"/>
<line x1="287.2" y1="173.3" x2="286.1" y2="176.3" stroke="#8af880" stroke-width="1.2" stroke-linecap="round" opacity="0.45"/>
<line x1="286.1" y1="176.3" x2="285.0" y2="179.2" stroke="#8af880" stroke-width="1.2" stroke-linecap="round" opacity="0.45"/>
<line x1="285.8" y1="180.0" x2="280.9" y2="180.9" stroke="#2a9e28" stroke-width="5.5" stroke-linecap="round"/>
<line x1="280.9" y1="180.9" x2="276.0" y2="181.7" stroke="#2a9e28" stroke-width="5.5" stroke-linecap="round"/>
<line x1="285.8" y1="180.0" x2="280.9" y2="180.9" stroke="#46e040" stroke-width="4.0" stroke-linecap="round"/>
<line x1="280.9" y1="180.9" x2="276.0" y2="181.7" stroke="#46e040" stroke-width="4.0" stroke-linecap="round"/>
<line x1="285.0" y1="179.2" x2="280.1" y2="180.1" stroke="#8af880" stroke-width="1.2" stroke-linecap="round" opacity="0.45"/>
<line x1="280.1" y1="180.1" x2="275.2" y2="180.9" stroke="#8af880" stroke-width="1.2" stroke-linecap="round" opacity="0.45"/>
<line x1="276.0" y1="181.7" x2="273.9" y2="179.0" stroke="#2a9e28" stroke-width="5.5" stroke-linecap="round"/>
<line x1="273.9" y1="179.0" x2="271.8" y2="176.3" stroke="#182090" stroke-width="5.5" stroke-linecap="round"/>
<line x1="276.0" y1="181.7" x2="273.9" y2="179.0" stroke="#46e040" stroke-width="4.0" stroke-linecap="round"/>
<line x1="273.9" y1="179.0" x2="271.8" y2="176.3" stroke="#2030e0" stroke-width="4.0" stroke-linecap="round"/>
<line x1="275.2" y1="180.9" x2="273.1" y2="178.2" stroke="#8af880" stroke-width="1.2" stroke-linecap="round" opacity="0.45"/>
<line x1="273.1" y1="178.2" x2="271.0" y2="175.5" stroke="#6070ff" stroke-width="1.2" stroke-linecap="round" opacity="0.45"/>
<line x1="288.0" y1="174.1" x2="292.4" y2="173.5" stroke="#2a9e28" stroke-width="5.5" stroke-linecap="round"/>
<line x1="292.4" y1="173.5" x2="296.8" y2="172.8" stroke="#2a9e28" stroke-width="5.5" stroke-linecap="round"/>
<line x1="288.0" y1="174.1" x2="292.4" y2="173.5" stroke="#46e040" stroke-width="4.0" stroke-linecap="round"/>
<line x1="292.4" y1="173.5" x2="296.8" y2="172.8" stroke="#46e040" stroke-width="4.0" stroke-linecap="round"/>
<line x1="287.2" y1="173.3" x2="291.6" y2="172.7" stroke="#8af880" stroke-width="1.2" stroke-linecap="round" opacity="0.45"/>
<line x1="291.6" y1="172.7" x2="296.0" y2="172.0" stroke="#8af880" stroke-width="1.2" stroke-linecap="round" opacity="0.45"/>
<line x1="296.8" y1="172.8" x2="299.6" y2="176.5" stroke="#2a9e28" stroke-width="5.5" stroke-linecap="round"/>
<line x1="299.6" y1="176.5" x2="302.4" y2="180.1" stroke="#182090" stroke-width="5.5" stroke-linecap="round"/>
<line x1="296.8" y1="172.8" x2="299.6" y2="176.5" stroke="#46e040" stroke-width="4.0" stroke-linecap="round"/>
<line x1="299.6" y1="176.5" x2="302.4" y2="180.1" stroke="#2030e0" stroke-width="4.0" stroke-linecap="round"/>
<line x1="296.0" y1="172.0" x2="298.8" y2="175.7" stroke="#8af880" stroke-width="1.2" stroke-linecap="round" opacity="0.45"/>
<line x1="298.8" y1="175.7" x2="301.6" y2="179.3" stroke="#6070ff" stroke-width="1.2" stroke-linecap="round" opacity="0.45"/>
<line x1="285.8" y1="180.0" x2="289.1" y2="182.4" stroke="#2a9e28" stroke-width="5.5" stroke-linecap="round"/>
<line x1="289.1" y1="182.4" x2="292.4" y2="184.7" stroke="#a02828" stroke-width="5.5" stroke-linecap="round"/>
<line x1="285.8" y1="180.0" x2="289.1" y2="182.4" stroke="#46e040" stroke-width="4.0" stroke-linecap="round"/>
<line x1="289.1" y1="182.4" x2="292.4" y2="184.7" stroke="#e04040" stroke-width="4.0" stroke-linecap="round"/>
<line x1="285.0" y1="179.2" x2="288.3" y2="181.6" stroke="#8af880" stroke-width="1.2" stroke-linecap="round" opacity="0.45"/>
<line x1="288.3" y1="181.6" x2="291.6" y2="183.9" stroke="#ff8080" stroke-width="1.2" stroke-linecap="round" opacity="0.45"/>
<line x1="276.0" y1="181.7" x2="275.1" y2="184.8" stroke="#2a9e28" stroke-width="5.5" stroke-linecap="round"/>
<line x1="275.1" y1="184.8" x2="274.2" y2="187.9" stroke="#2a9e28" stroke-width="5.5" stroke-linecap="round"/>
<line x1="276.0" y1="181.7" x2="275.1" y2="184.8" stroke="#46e040" stroke-width="4.0" stroke-linecap="round"/>
<line x1="275.1" y1="184.8" x2="274.2" y2="187.9" stroke="#46e040" stroke-width="4.0" stroke-linecap="round"/>
<line x1="275.2" y1="180.9" x2="274.3" y2="184.0" stroke="#8af880" stroke-width="1.2" stroke-linecap="round" opacity="0.45"/>
<line x1="274.3" y1="184.0" x2="273.4" y2="187.1" stroke="#8af880" stroke-width="1.2" stroke-linecap="round" opacity="0.45"/>
<line x1="282.1" y1="171.2" x2="282.1" y2="167.3" stroke="#2a9e28" stroke-width="5.5" stroke-linecap="round"/>
<line x1="282.1" y1="167.3" x2="282.2" y2="163.5" stroke="#2a9e28" stroke-width="5.5" stroke-linecap="round"/>
<line x1="282.1" y1="171.2" x2="282.1" y2="167.3" stroke="#46e040" stroke-width="4.0" stroke-linecap="round"/>
<line x1="282.1" y1="167.3" x2="282.2" y2="163.5" stroke="#46e040" stroke-width="4.0" stroke-linecap="round"/>
<line x1="281.3" y1="170.4" x2="281.3" y2="166.5" stroke="#8af880" stroke-width="1.2" stroke-linecap="round" opacity="0.45"/>
<line x1="281.3" y1="166.5" x2="281.4" y2="162.7" stroke="#8af880" stroke-width="1.2" stroke-linecap="round" opacity="0.45"/>
<line x1="282.2" y1="163.5" x2="284.0" y2="159.6" stroke="#2a9e28" stroke-width="5.5" stroke-linecap="round"/>
<line x1="284.0" y1="159.6" x2="285.8" y2="155.7" stroke="#a02828" stroke-width="5.5" stroke-linecap="round"/>
<line x1="282.2" y1="163.5" x2="284.0" y2="159.6" stroke="#46e040" stroke-width="4.0" stroke-linecap="round"/>
<line x1="284.0" y1="159.6" x2="285.8" y2="155.7" stroke="#e04040" stroke-width="4.0" stroke-linecap="round"/>
<line x1="281.4" y1="162.7" x2="283.2" y2="158.8" stroke="#8af880" stroke-width="1.2" stroke-linecap="round" opacity="0.45"/>
<line x1="283.2" y1="158.8" x2="285.0" y2="154.9" stroke="#ff8080" stroke-width="1.2" stroke-linecap="round" opacity="0.45"/>
<line x1="285.8" y1="155.7" x2="288.0" y2="152.9" stroke="#a02828" stroke-width="5.5" stroke-linecap="round"/>
<line x1="288.0" y1="152.9" x2="290.2" y2="150.1" stroke="#b06018" stroke-width="5.5" stroke-linecap="round"/>
<line x1="285.8" y1="155.7" x2="288.0" y2="152.9" stroke="#e04040" stroke-width="4.0" stroke-linecap="round"/>
<line x1="288.0" y1="152.9" x2="290.2" y2="150.1" stroke="#f08a20" stroke-width="4.0" stroke-linecap="round"/>
<line x1="285.0" y1="154.9" x2="287.2" y2="152.1" stroke="#ff8080" stroke-width="1.2" stroke-linecap="round" opacity="0.45"/>
<line x1="287.2" y1="152.1" x2="289.4" y2="149.3" stroke="#ffc070" stroke-width="1.2" stroke-linecap="round" opacity="0.45"/>
<line x1="290.2" y1="150.1" x2="290.7" y2="144.7" stroke="#b06018" stroke-width="5.1" stroke-linecap="round"/>
<line x1="290.7" y1="144.7" x2="291.2" y2="139.3" stroke="#a02828" stroke-width="5.1" stroke-linecap="round"/>
<line x1="290.2" y1="150.1" x2="290.7" y2="144.7" stroke="#f08a20" stroke-width="3.6" stroke-linecap="round"/>
<line x1="290.7" y1="144.7" x2="291.2" y2="139.3" stroke="#e04040" stroke-width="3.6" stroke-linecap="round"/>
<line x1="289.4" y1="149.3" x2="289.9" y2="143.9" stroke="#ffc070" stroke-width="1.1" stroke-linecap="round" opacity="0.45"/>
<line x1="289.9" y1="143.9" x2="290.4" y2="138.5" stroke="#ff8080" stroke-width="1.1" stroke-linecap="round" opacity="0.45"/>
<line x1="290.2" y1="150.1" x2="286.7" y2="151.4" stroke="#b06018" stroke-width="5.1" stroke-linecap="round"/>
<line x1="286.7" y1="151.4" x2="283.1" y2="152.7" stroke="#a02828" stroke-width="5.1" stroke-linecap="round"/>
<line x1="290.2" y1="150.1" x2="286.7" y2="151.4" stroke="#f08a20" stroke-width="3.6" stroke-linecap="round"/>
<line x1="286.7" y1="151.4" x2="283.1" y2="152.7" stroke="#e04040" stroke-width="3.6" stroke-linecap="round"/>
<line x1="289.4" y1="149.3" x2="285.9" y2="150.6" stroke="#ffc070" stroke-width="1.1" stroke-linecap="round" opacity="0.45"/>
<line x1="285.9" y1="150.6" x2="282.3" y2="151.9" stroke="#ff8080" stroke-width="1.1" stroke-linecap="round" opacity="0.45"/>
<line x1="290.2" y1="150.1" x2="293.9" y2="153.5" stroke="#b06018" stroke-width="5.1" stroke-linecap="round"/>
<line x1="293.9" y1="153.5" x2="297.5" y2="156.9" stroke="#a02828" stroke-width="5.1" stroke-linecap="round"/>
<line x1="290.2" y1="150.1" x2="293.9" y2="153.5" stroke="#f08a20" stroke-width="3.6" stroke-linecap="round"/>
<line x1="293.9" y1="153.5" x2="297.5" y2="156.9" stroke="#e04040" stroke-width="3.6" stroke-linecap="round"/>
<line x1="289.4" y1="149.3" x2="293.1" y2="152.7" stroke="#ffc070" stroke-width="1.1" stroke-linecap="round" opacity="0.45"/>
<line x1="293.1" y1="152.7" x2="296.7" y2="156.1" stroke="#ff8080" stroke-width="1.1" stroke-linecap="round" opacity="0.45"/><line x1="311.9" y1="179.3" x2="309.7" y2="177.8" stroke="#2a9e28" stroke-width="3.7" stroke-linecap="round"/>
<line x1="309.7" y1="177.8" x2="307.4" y2="176.3" stroke="#9a9a9a" stroke-width="3.7" stroke-linecap="round"/>
<line x1="311.9" y1="179.3" x2="309.7" y2="177.8" stroke="#46e040" stroke-width="2.2" stroke-linecap="round"/>
<line x1="309.7" y1="177.8" x2="307.4" y2="176.3" stroke="#dddddd" stroke-width="2.2" stroke-linecap="round"/>
<line x1="311.1" y1="178.5" x2="308.9" y2="177.0" stroke="#8af880" stroke-width="0.6" stroke-linecap="round" opacity="0.45"/>
<line x1="308.9" y1="177.0" x2="306.6" y2="175.5" stroke="#ffffff" stroke-width="0.6" stroke-linecap="round" opacity="0.45"/>
<line x1="311.9" y1="179.3" x2="313.3" y2="177.6" stroke="#2a9e28" stroke-width="3.7" stroke-linecap="round"/>
<line x1="313.3" y1="177.6" x2="314.6" y2="175.9" stroke="#9a9a9a" stroke-width="3.7" stroke-linecap="round"/>
<line x1="311.9" y1="179.3" x2="313.3" y2="177.6" stroke="#46e040" stroke-width="2.2" stroke-linecap="round"/>
<line x1="313.3" y1="177.6" x2="314.6" y2="175.9" stroke="#dddddd" stroke-width="2.2" stroke-linecap="round"/>
<line x1="311.1" y1="178.5" x2="312.5" y2="176.8" stroke="#8af880" stroke-width="0.6" stroke-linecap="round" opacity="0.45"/>
<line x1="312.5" y1="176.8" x2="313.8" y2="175.1" stroke="#ffffff" stroke-width="0.6" stroke-linecap="round" opacity="0.45"/>
<line x1="311.9" y1="179.3" x2="313.2" y2="180.4" stroke="#2a9e28" stroke-width="3.7" stroke-linecap="round"/>
<line x1="313.2" y1="180.4" x2="314.5" y2="181.5" stroke="#9a9a9a" stroke-width="3.7" stroke-linecap="round"/>
<line x1="311.9" y1="179.3" x2="313.2" y2="180.4" stroke="#46e040" stroke-width="2.2" stroke-linecap="round"/>
<line x1="313.2" y1="180.4" x2="314.5" y2="181.5" stroke="#dddddd" stroke-width="2.2" stroke-linecap="round"/>
<line x1="311.1" y1="178.5" x2="312.4" y2="179.6" stroke="#8af880" stroke-width="0.6" stroke-linecap="round" opacity="0.45"/>
<line x1="312.4" y1="179.6" x2="313.7" y2="180.7" stroke="#ffffff" stroke-width="0.6" stroke-linecap="round" opacity="0.45"/>
<line x1="323.1" y1="192.9" x2="323.4" y2="190.0" stroke="#2a9e28" stroke-width="3.7" stroke-linecap="round"/>
<line x1="323.4" y1="190.0" x2="323.7" y2="187.1" stroke="#9a9a9a" stroke-width="3.7" stroke-linecap="round"/>
<line x1="323.1" y1="192.9" x2="323.4" y2="190.0" stroke="#46e040" stroke-width="2.2" stroke-linecap="round"/>
<line x1="323.4" y1="190.0" x2="323.7" y2="187.1" stroke="#dddddd" stroke-width="2.2" stroke-linecap="round"/>
<line x1="322.3" y1="192.1" x2="322.6" y2="189.2" stroke="#8af880" stroke-width="0.6" stroke-linecap="round" opacity="0.45"/>
<line x1="322.6" y1="189.2" x2="322.9" y2="186.3" stroke="#ffffff" stroke-width="0.6" stroke-linecap="round" opacity="0.45"/>
<line x1="329.6" y1="199.8" x2="332.1" y2="198.8" stroke="#2a9e28" stroke-width="3.7" stroke-linecap="round"/>
<line x1="332.1" y1="198.8" x2="334.6" y2="197.8" stroke="#9a9a9a" stroke-width="3.7" stroke-linecap="round"/>
<line x1="329.6" y1="199.8" x2="332.1" y2="198.8" stroke="#46e040" stroke-width="2.2" stroke-linecap="round"/>
<line x1="332.1" y1="198.8" x2="334.6" y2="197.8" stroke="#dddddd" stroke-width="2.2" stroke-linecap="round"/>
<line x1="328.8" y1="199.0" x2="331.3" y2="198.0" stroke="#8af880" stroke-width="0.6" stroke-linecap="round" opacity="0.45"/>
<line x1="331.3" y1="198.0" x2="333.8" y2="197.0" stroke="#ffffff" stroke-width="0.6" stroke-linecap="round" opacity="0.45"/>
<line x1="328.1" y1="211.4" x2="330.0" y2="213.6" stroke="#2a9e28" stroke-width="3.7" stroke-linecap="round"/>
<line x1="330.0" y1="213.6" x2="331.9" y2="215.7" stroke="#9a9a9a" stroke-width="3.7" stroke-linecap="round"/>
<line x1="328.1" y1="211.4" x2="330.0" y2="213.6" stroke="#46e040" stroke-width="2.2" stroke-linecap="round"/>
<line x1="330.0" y1="213.6" x2="331.9" y2="215.7" stroke="#dddddd" stroke-width="2.2" stroke-linecap="round"/>
<line x1="327.3" y1="210.6" x2="329.2" y2="212.8" stroke="#8af880" stroke-width="0.6" stroke-linecap="round" opacity="0.45"/>
<line x1="329.2" y1="212.8" x2="331.1" y2="214.9" stroke="#ffffff" stroke-width="0.6" stroke-linecap="round" opacity="0.45"/>
<line x1="319.2" y1="226.0" x2="320.9" y2="227.9" stroke="#2a9e28" stroke-width="3.7" stroke-linecap="round"/>
<line x1="320.9" y1="227.9" x2="322.6" y2="229.7" stroke="#9a9a9a" stroke-width="3.7" stroke-linecap="round"/>
<line x1="319.2" y1="226.0" x2="320.9" y2="227.9" stroke="#46e040" stroke-width="2.2" stroke-linecap="round"/>
<line x1="320.9" y1="227.9" x2="322.6" y2="229.7" stroke="#dddddd" stroke-width="2.2" stroke-linecap="round"/>
<line x1="318.4" y1="225.2" x2="320.1" y2="227.1" stroke="#8af880" stroke-width="0.6" stroke-linecap="round" opacity="0.45"/>
<line x1="320.1" y1="227.1" x2="321.8" y2="228.9" stroke="#ffffff" stroke-width="0.6" stroke-linecap="round" opacity="0.45"/>
<line x1="309.7" y1="229.6" x2="309.4" y2="233.1" stroke="#2a9e28" stroke-width="3.7" stroke-linecap="round"/>
<line x1="309.4" y1="233.1" x2="309.0" y2="236.5" stroke="#9a9a9a" stroke-width="3.7" stroke-linecap="round"/>
<line x1="309.7" y1="229.6" x2="309.4" y2="233.1" stroke="#46e040" stroke-width="2.2" stroke-linecap="round"/>
<line x1="309.4" y1="233.1" x2="309.0" y2="236.5" stroke="#dddddd" stroke-width="2.2" stroke-linecap="round"/>
<line x1="308.9" y1="228.8" x2="308.6" y2="232.3" stroke="#8af880" stroke-width="0.6" stroke-linecap="round" opacity="0.45"/>
<line x1="308.6" y1="232.3" x2="308.2" y2="235.7" stroke="#ffffff" stroke-width="0.6" stroke-linecap="round" opacity="0.45"/>
<line x1="302.9" y1="222.9" x2="300.6" y2="224.0" stroke="#2a9e28" stroke-width="3.7" stroke-linecap="round"/>
<line x1="300.6" y1="224.0" x2="298.2" y2="225.1" stroke="#9a9a9a" stroke-width="3.7" stroke-linecap="round"/>
<line x1="302.9" y1="222.9" x2="300.6" y2="224.0" stroke="#46e040" stroke-width="2.2" stroke-linecap="round"/>
<line x1="300.6" y1="224.0" x2="298.2" y2="225.1" stroke="#dddddd" stroke-width="2.2" stroke-linecap="round"/>
<line x1="302.1" y1="222.1" x2="299.8" y2="223.2" stroke="#8af880" stroke-width="0.6" stroke-linecap="round" opacity="0.45"/>
<line x1="299.8" y1="223.2" x2="297.4" y2="224.3" stroke="#ffffff" stroke-width="0.6" stroke-linecap="round" opacity="0.45"/>
<line x1="304.2" y1="211.4" x2="302.7" y2="209.4" stroke="#2a9e28" stroke-width="3.7" stroke-linecap="round"/>
<line x1="302.7" y1="209.4" x2="301.2" y2="207.5" stroke="#9a9a9a" stroke-width="3.7" stroke-linecap="round"/>
<line x1="304.2" y1="211.4" x2="302.7" y2="209.4" stroke="#46e040" stroke-width="2.2" stroke-linecap="round"/>
<line x1="302.7" y1="209.4" x2="301.2" y2="207.5" stroke="#dddddd" stroke-width="2.2" stroke-linecap="round"/>
<line x1="303.4" y1="210.6" x2="301.9" y2="208.6" stroke="#8af880" stroke-width="0.6" stroke-linecap="round" opacity="0.45"/>
<line x1="301.9" y1="208.6" x2="300.4" y2="206.7" stroke="#ffffff" stroke-width="0.6" stroke-linecap="round" opacity="0.45"/>
<line x1="308.1" y1="189.6" x2="304.9" y2="190.0" stroke="#2a9e28" stroke-width="3.8" stroke-linecap="round"/>
<line x1="304.9" y1="190.0" x2="301.6" y2="190.4" stroke="#a02828" stroke-width="3.8" stroke-linecap="round"/>
<line x1="308.1" y1="189.6" x2="304.9" y2="190.0" stroke="#46e040" stroke-width="2.2" stroke-linecap="round"/>
<line x1="304.9" y1="190.0" x2="301.6" y2="190.4" stroke="#e04040" stroke-width="2.2" stroke-linecap="round"/>
<line x1="307.3" y1="188.8" x2="304.1" y2="189.2" stroke="#8af880" stroke-width="0.7" stroke-linecap="round" opacity="0.45"/>
<line x1="304.1" y1="189.2" x2="300.8" y2="189.6" stroke="#ff8080" stroke-width="0.7" stroke-linecap="round" opacity="0.45"/>
<line x1="308.5" y1="191.3" x2="305.2" y2="192.2" stroke="#2a9e28" stroke-width="3.8" stroke-linecap="round"/>
<line x1="305.2" y1="192.2" x2="302.0" y2="193.1" stroke="#a02828" stroke-width="3.8" stroke-linecap="round"/>
<line x1="308.5" y1="191.3" x2="305.2" y2="192.2" stroke="#46e040" stroke-width="2.2" stroke-linecap="round"/>
<line x1="305.2" y1="192.2" x2="302.0" y2="193.1" stroke="#e04040" stroke-width="2.2" stroke-linecap="round"/>
<line x1="307.7" y1="190.5" x2="304.4" y2="191.4" stroke="#8af880" stroke-width="0.7" stroke-linecap="round" opacity="0.45"/>
<line x1="304.4" y1="191.4" x2="301.2" y2="192.3" stroke="#ff8080" stroke-width="0.7" stroke-linecap="round" opacity="0.45"/>
<line x1="311.9" y1="179.3" x2="310.1" y2="184.7" stroke="#2a9e28" stroke-width="5.8" stroke-linecap="round"/>
<line x1="310.1" y1="184.7" x2="308.2" y2="190.1" stroke="#2a9e28" stroke-width="5.8" stroke-linecap="round"/>
<line x1="311.9" y1="179.3" x2="310.1" y2="184.7" stroke="#46e040" stroke-width="4.3" stroke-linecap="round"/>
<line x1="310.1" y1="184.7" x2="308.2" y2="190.1" stroke="#46e040" stroke-width="4.3" stroke-linecap="round"/>
<line x1="311.1" y1="178.5" x2="309.3" y2="183.9" stroke="#8af880" stroke-width="1.3" stroke-linecap="round" opacity="0.45"/>
<line x1="309.3" y1="183.9" x2="307.4" y2="189.3" stroke="#8af880" stroke-width="1.3" stroke-linecap="round" opacity="0.45"/>
<line x1="308.2" y1="190.1" x2="311.8" y2="193.3" stroke="#2a9e28" stroke-width="5.8" stroke-linecap="round"/>
<line x1="311.8" y1="193.3" x2="315.3" y2="196.4" stroke="#2a9e28" stroke-width="5.8" stroke-linecap="round"/>
<line x1="308.2" y1="190.1" x2="311.8" y2="193.3" stroke="#46e040" stroke-width="4.3" stroke-linecap="round"/>
<line x1="311.8" y1="193.3" x2="315.3" y2="196.4" stroke="#46e040" stroke-width="4.3" stroke-linecap="round"/>
<line x1="307.4" y1="189.3" x2="311.0" y2="192.5" stroke="#8af880" stroke-width="1.3" stroke-linecap="round" opacity="0.45"/>
<line x1="311.0" y1="192.5" x2="314.5" y2="195.6" stroke="#8af880" stroke-width="1.3" stroke-linecap="round" opacity="0.45"/>
<line x1="315.3" y1="196.4" x2="319.2" y2="194.7" stroke="#2a9e28" stroke-width="6.2" stroke-linecap="round"/>
<line x1="319.2" y1="194.7" x2="323.1" y2="192.9" stroke="#2a9e28" stroke-width="6.2" stroke-linecap="round"/>
<line x1="315.3" y1="196.4" x2="319.2" y2="194.7" stroke="#46e040" stroke-width="4.7" stroke-linecap="round"/>
<line x1="319.2" y1="194.7" x2="323.1" y2="192.9" stroke="#46e040" stroke-width="4.7" stroke-linecap="round"/>
<line x1="314.5" y1="195.6" x2="318.4" y2="193.9" stroke="#8af880" stroke-width="1.4" stroke-linecap="round" opacity="0.45"/>
<line x1="318.4" y1="193.9" x2="322.3" y2="192.1" stroke="#8af880" stroke-width="1.4" stroke-linecap="round" opacity="0.45"/>
<line x1="323.1" y1="192.9" x2="326.3" y2="196.3" stroke="#2a9e28" stroke-width="6.2" stroke-linecap="round"/>
<line x1="326.3" y1="196.3" x2="329.6" y2="199.8" stroke="#2a9e28" stroke-width="6.2" stroke-linecap="round"/>
<line x1="323.1" y1="192.9" x2="326.3" y2="196.3" stroke="#46e040" stroke-width="4.7" stroke-linecap="round"/>
<line x1="326.3" y1="196.3" x2="329.6" y2="199.8" stroke="#46e040" stroke-width="4.7" stroke-linecap="round"/>
<line x1="322.3" y1="192.1" x2="325.5" y2="195.5" stroke="#8af880" stroke-width="1.4" stroke-linecap="round" opacity="0.45"/>
<line x1="325.5" y1="195.5" x2="328.8" y2="199.0" stroke="#8af880" stroke-width="1.4" stroke-linecap="round" opacity="0.45"/>
<line x1="329.6" y1="199.8" x2="328.8" y2="205.6" stroke="#2a9e28" stroke-width="6.2" stroke-linecap="round"/>
<line x1="328.8" y1="205.6" x2="328.1" y2="211.4" stroke="#2a9e28" stroke-width="6.2" stroke-linecap="round"/>
<line x1="329.6" y1="199.8" x2="328.8" y2="205.6" stroke="#46e040" stroke-width="4.7" stroke-linecap="round"/>
<line x1="328.8" y1="205.6" x2="328.1" y2="211.4" stroke="#46e040" stroke-width="4.7" stroke-linecap="round"/>
<line x1="328.8" y1="199.0" x2="328.0" y2="204.8" stroke="#8af880" stroke-width="1.4" stroke-linecap="round" opacity="0.45"/>
<line x1="328.0" y1="204.8" x2="327.3" y2="210.6" stroke="#8af880" stroke-width="1.4" stroke-linecap="round" opacity="0.45"/>
<line x1="328.1" y1="211.4" x2="323.8" y2="213.4" stroke="#2a9e28" stroke-width="6.2" stroke-linecap="round"/>
<line x1="323.8" y1="213.4" x2="319.6" y2="215.5" stroke="#2a9e28" stroke-width="6.2" stroke-linecap="round"/>
<line x1="328.1" y1="211.4" x2="323.8" y2="213.4" stroke="#46e040" stroke-width="4.7" stroke-linecap="round"/>
<line x1="323.8" y1="213.4" x2="319.6" y2="215.5" stroke="#46e040" stroke-width="4.7" stroke-linecap="round"/>
<line x1="327.3" y1="210.6" x2="323.0" y2="212.6" stroke="#8af880" stroke-width="1.4" stroke-linecap="round" opacity="0.45"/>
<line x1="323.0" y1="212.6" x2="318.8" y2="214.7" stroke="#8af880" stroke-width="1.4" stroke-linecap="round" opacity="0.45"/>
<line x1="319.6" y1="215.5" x2="316.3" y2="211.7" stroke="#2a9e28" stroke-width="6.2" stroke-linecap="round"/>
<line x1="316.3" y1="211.7" x2="313.1" y2="207.8" stroke="#2a9e28" stroke-width="6.2" stroke-linecap="round"/>
<line x1="319.6" y1="215.5" x2="316.3" y2="211.7" stroke="#46e040" stroke-width="4.7" stroke-linecap="round"/>
<line x1="316.3" y1="211.7" x2="313.1" y2="207.8" stroke="#46e040" stroke-width="4.7" stroke-linecap="round"/>
<line x1="318.8" y1="214.7" x2="315.5" y2="210.9" stroke="#8af880" stroke-width="1.4" stroke-linecap="round" opacity="0.45"/>
<line x1="315.5" y1="210.9" x2="312.3" y2="207.0" stroke="#8af880" stroke-width="1.4" stroke-linecap="round" opacity="0.45"/>
<line x1="313.1" y1="207.8" x2="314.2" y2="202.1" stroke="#2a9e28" stroke-width="6.2" stroke-linecap="round"/>
<line x1="314.2" y1="202.1" x2="315.3" y2="196.4" stroke="#2a9e28" stroke-width="6.2" stroke-linecap="round"/>
<line x1="313.1" y1="207.8" x2="314.2" y2="202.1" stroke="#46e040" stroke-width="4.7" stroke-linecap="round"/>
<line x1="314.2" y1="202.1" x2="315.3" y2="196.4" stroke="#46e040" stroke-width="4.7" stroke-linecap="round"/>
<line x1="312.3" y1="207.0" x2="313.4" y2="201.3" stroke="#8af880" stroke-width="1.4" stroke-linecap="round" opacity="0.45"/>
<line x1="313.4" y1="201.3" x2="314.5" y2="195.6" stroke="#8af880" stroke-width="1.4" stroke-linecap="round" opacity="0.45"/>
<polygon points="316.9,198.4 322.6,195.8 327.5,200.9 326.3,209.4 320.0,212.5 315.3,206.8" fill="none" stroke="#50e048" stroke-width="1.4" stroke-dasharray="2.7,0.7"/>
<line x1="313.1" y1="207.8" x2="308.6" y2="209.6" stroke="#2a9e28" stroke-width="6.2" stroke-linecap="round"/>
<line x1="308.6" y1="209.6" x2="304.2" y2="211.4" stroke="#2a9e28" stroke-width="6.2" stroke-linecap="round"/>
<line x1="313.1" y1="207.8" x2="308.6" y2="209.6" stroke="#46e040" stroke-width="4.7" stroke-linecap="round"/>
<line x1="308.6" y1="209.6" x2="304.2" y2="211.4" stroke="#46e040" stroke-width="4.7" stroke-linecap="round"/>
<line x1="312.3" y1="207.0" x2="307.8" y2="208.8" stroke="#8af880" stroke-width="1.4" stroke-linecap="round" opacity="0.45"/>
<line x1="307.8" y1="208.8" x2="303.4" y2="210.6" stroke="#8af880" stroke-width="1.4" stroke-linecap="round" opacity="0.45"/>
<line x1="304.2" y1="211.4" x2="303.5" y2="217.1" stroke="#2a9e28" stroke-width="6.2" stroke-linecap="round"/>
<line x1="303.5" y1="217.1" x2="302.9" y2="222.9" stroke="#2a9e28" stroke-width="6.2" stroke-linecap="round"/>
<line x1="304.2" y1="211.4" x2="303.5" y2="217.1" stroke="#46e040" stroke-width="4.7" stroke-linecap="round"/>
<line x1="303.5" y1="217.1" x2="302.9" y2="222.9" stroke="#46e040" stroke-width="4.7" stroke-linecap="round"/>
<line x1="303.4" y1="210.6" x2="302.7" y2="216.3" stroke="#8af880" stroke-width="1.4" stroke-linecap="round" opacity="0.45"/>
<line x1="302.7" y1="216.3" x2="302.1" y2="222.1" stroke="#8af880" stroke-width="1.4" stroke-linecap="round" opacity="0.45"/>
<line x1="302.9" y1="222.9" x2="306.3" y2="226.3" stroke="#2a9e28" stroke-width="6.2" stroke-linecap="round"/>
<line x1="306.3" y1="226.3" x2="309.7" y2="229.6" stroke="#2a9e28" stroke-width="6.2" stroke-linecap="round"/>
<line x1="302.9" y1="222.9" x2="306.3" y2="226.3" stroke="#46e040" stroke-width="4.7" stroke-linecap="round"/>
<line x1="306.3" y1="226.3" x2="309.7" y2="229.6" stroke="#46e040" stroke-width="4.7" stroke-linecap="round"/>
<line x1="302.1" y1="222.1" x2="305.5" y2="225.5" stroke="#8af880" stroke-width="1.4" stroke-linecap="round" opacity="0.45"/>
<line x1="305.5" y1="225.5" x2="308.9" y2="228.8" stroke="#8af880" stroke-width="1.4" stroke-linecap="round" opacity="0.45"/>
<line x1="309.7" y1="229.6" x2="314.4" y2="227.8" stroke="#2a9e28" stroke-width="6.2" stroke-linecap="round"/>
<line x1="314.4" y1="227.8" x2="319.2" y2="226.0" stroke="#2a9e28" stroke-width="6.2" stroke-linecap="round"/>
<line x1="309.7" y1="229.6" x2="314.4" y2="227.8" stroke="#46e040" stroke-width="4.7" stroke-linecap="round"/>
<line x1="314.4" y1="227.8" x2="319.2" y2="226.0" stroke="#46e040" stroke-width="4.7" stroke-linecap="round"/>
<line x1="308.9" y1="228.8" x2="313.6" y2="227.0" stroke="#8af880" stroke-width="1.4" stroke-linecap="round" opacity="0.45"/>
<line x1="313.6" y1="227.0" x2="318.4" y2="225.2" stroke="#8af880" stroke-width="1.4" stroke-linecap="round" opacity="0.45"/>
<line x1="319.2" y1="226.0" x2="319.4" y2="220.7" stroke="#2a9e28" stroke-width="6.2" stroke-linecap="round"/>
<line x1="319.4" y1="220.7" x2="319.6" y2="215.5" stroke="#2a9e28" stroke-width="6.2" stroke-linecap="round"/>
<line x1="319.2" y1="226.0" x2="319.4" y2="220.7" stroke="#46e040" stroke-width="4.7" stroke-linecap="round"/>
<line x1="319.4" y1="220.7" x2="319.6" y2="215.5" stroke="#46e040" stroke-width="4.7" stroke-linecap="round"/>
<line x1="318.4" y1="225.2" x2="318.6" y2="219.9" stroke="#8af880" stroke-width="1.4" stroke-linecap="round" opacity="0.45"/>
<line x1="318.6" y1="219.9" x2="318.8" y2="214.7" stroke="#8af880" stroke-width="1.4" stroke-linecap="round" opacity="0.45"/>
<line x1="319.6" y1="215.5" x2="316.3" y2="211.7" stroke="#2a9e28" stroke-width="6.2" stroke-linecap="round"/>
<line x1="316.3" y1="211.7" x2="313.1" y2="207.8" stroke="#2a9e28" stroke-width="6.2" stroke-linecap="round"/>
<line x1="319.6" y1="215.5" x2="316.3" y2="211.7" stroke="#46e040" stroke-width="4.7" stroke-linecap="round"/>
<line x1="316.3" y1="211.7" x2="313.1" y2="207.8" stroke="#46e040" stroke-width="4.7" stroke-linecap="round"/>
<line x1="318.8" y1="214.7" x2="315.5" y2="210.9" stroke="#8af880" stroke-width="1.4" stroke-linecap="round" opacity="0.45"/>
<line x1="315.5" y1="210.9" x2="312.3" y2="207.0" stroke="#8af880" stroke-width="1.4" stroke-linecap="round" opacity="0.45"/>
<polygon points="312.7,210.7 306.1,213.3 305.1,221.8 310.2,226.8 317.2,224.1 317.4,216.4" fill="none" stroke="#50e048" stroke-width="1.4" stroke-dasharray="2.7,0.7"/>
<line x1="323.8" y1="162.0" x2="327.5" y2="160.2" stroke="#2a9e28" stroke-width="3.7" stroke-linecap="round"/>
<line x1="327.5" y1="160.2" x2="331.2" y2="158.5" stroke="#a02828" stroke-width="3.7" stroke-linecap="round"/>
<line x1="323.8" y1="162.0" x2="327.5" y2="160.2" stroke="#46e040" stroke-width="2.2" stroke-linecap="round"/>
<line x1="327.5" y1="160.2" x2="331.2" y2="158.5" stroke="#e04040" stroke-width="2.2" stroke-linecap="round"/>
<line x1="322.9" y1="161.2" x2="326.7" y2="159.4" stroke="#8af880" stroke-width="0.7" stroke-linecap="round" opacity="0.45"/>
<line x1="326.7" y1="159.4" x2="330.4" y2="157.7" stroke="#ff8080" stroke-width="0.7" stroke-linecap="round" opacity="0.45"/>
<line x1="323.8" y1="163.2" x2="327.5" y2="161.9" stroke="#2a9e28" stroke-width="3.7" stroke-linecap="round"/>
<line x1="327.5" y1="161.9" x2="331.2" y2="160.6" stroke="#a02828" stroke-width="3.7" stroke-linecap="round"/>
<line x1="323.8" y1="163.2" x2="327.5" y2="161.9" stroke="#46e040" stroke-width="2.2" stroke-linecap="round"/>
<line x1="327.5" y1="161.9" x2="331.2" y2="160.6" stroke="#e04040" stroke-width="2.2" stroke-linecap="round"/>
<line x1="322.9" y1="162.4" x2="326.7" y2="161.1" stroke="#8af880" stroke-width="0.7" stroke-linecap="round" opacity="0.45"/>
<line x1="326.7" y1="161.1" x2="330.4" y2="159.8" stroke="#ff8080" stroke-width="0.7" stroke-linecap="round" opacity="0.45"/>
<line x1="318.3" y1="146.0" x2="318.3" y2="148.6" stroke="#182090" stroke-width="5.5" stroke-linecap="round"/>
<line x1="318.3" y1="148.6" x2="318.3" y2="151.2" stroke="#182090" stroke-width="5.5" stroke-linecap="round"/>
<line x1="318.3" y1="146.0" x2="318.3" y2="148.6" stroke="#2030e0" stroke-width="4.0" stroke-linecap="round"/>
<line x1="318.3" y1="148.6" x2="318.3" y2="151.2" stroke="#2030e0" stroke-width="4.0" stroke-linecap="round"/>
<line x1="317.5" y1="145.2" x2="317.5" y2="147.8" stroke="#6070ff" stroke-width="1.2" stroke-linecap="round" opacity="0.45"/>
<line x1="317.5" y1="147.8" x2="317.5" y2="150.4" stroke="#6070ff" stroke-width="1.2" stroke-linecap="round" opacity="0.45"/>
<line x1="318.3" y1="151.2" x2="318.3" y2="153.6" stroke="#182090" stroke-width="5.5" stroke-linecap="round"/>
<line x1="318.3" y1="153.6" x2="318.3" y2="156.0" stroke="#2a9e28" stroke-width="5.5" stroke-linecap="round"/>
<line x1="318.3" y1="151.2" x2="318.3" y2="153.6" stroke="#2030e0" stroke-width="4.0" stroke-linecap="round"/>
<line x1="318.3" y1="153.6" x2="318.3" y2="156.0" stroke="#46e040" stroke-width="4.0" stroke-linecap="round"/>
<line x1="317.5" y1="150.4" x2="317.5" y2="152.8" stroke="#6070ff" stroke-width="1.2" stroke-linecap="round" opacity="0.45"/>
<line x1="317.5" y1="152.8" x2="317.5" y2="155.2" stroke="#8af880" stroke-width="1.2" stroke-linecap="round" opacity="0.45"/>
<line x1="318.3" y1="156.0" x2="320.4" y2="156.5" stroke="#2a9e28" stroke-width="5.5" stroke-linecap="round"/>
<line x1="320.4" y1="156.5" x2="322.5" y2="157.0" stroke="#2a9e28" stroke-width="5.5" stroke-linecap="round"/>
<line x1="318.3" y1="156.0" x2="320.4" y2="156.5" stroke="#46e040" stroke-width="4.0" stroke-linecap="round"/>
<line x1="320.4" y1="156.5" x2="322.5" y2="157.0" stroke="#46e040" stroke-width="4.0" stroke-linecap="round"/>
<line x1="317.5" y1="155.2" x2="319.6" y2="155.7" stroke="#8af880" stroke-width="1.2" stroke-linecap="round" opacity="0.45"/>
<line x1="319.6" y1="155.7" x2="321.7" y2="156.2" stroke="#8af880" stroke-width="1.2" stroke-linecap="round" opacity="0.45"/>
<line x1="322.5" y1="157.0" x2="323.1" y2="159.6" stroke="#2a9e28" stroke-width="5.5" stroke-linecap="round"/>
<line x1="323.1" y1="159.6" x2="323.8" y2="162.2" stroke="#2a9e28" stroke-width="5.5" stroke-linecap="round"/>
<line x1="322.5" y1="157.0" x2="323.1" y2="159.6" stroke="#46e040" stroke-width="4.0" stroke-linecap="round"/>
<line x1="323.1" y1="159.6" x2="323.8" y2="162.2" stroke="#46e040" stroke-width="4.0" stroke-linecap="round"/>
<line x1="321.7" y1="156.2" x2="322.3" y2="158.8" stroke="#8af880" stroke-width="1.2" stroke-linecap="round" opacity="0.45"/>
<line x1="322.3" y1="158.8" x2="322.9" y2="161.4" stroke="#8af880" stroke-width="1.2" stroke-linecap="round" opacity="0.45"/>
<line x1="323.8" y1="162.2" x2="322.1" y2="163.4" stroke="#2a9e28" stroke-width="5.5" stroke-linecap="round"/>
<line x1="322.1" y1="163.4" x2="320.5" y2="164.5" stroke="#2a9e28" stroke-width="5.5" stroke-linecap="round"/>
<line x1="323.8" y1="162.2" x2="322.1" y2="163.4" stroke="#46e040" stroke-width="4.0" stroke-linecap="round"/>
<line x1="322.1" y1="163.4" x2="320.5" y2="164.5" stroke="#46e040" stroke-width="4.0" stroke-linecap="round"/>
<line x1="322.9" y1="161.4" x2="321.3" y2="162.6" stroke="#8af880" stroke-width="1.2" stroke-linecap="round" opacity="0.45"/>
<line x1="321.3" y1="162.6" x2="319.7" y2="163.7" stroke="#8af880" stroke-width="1.2" stroke-linecap="round" opacity="0.45"/>
<line x1="320.5" y1="164.5" x2="321.5" y2="165.4" stroke="#2a9e28" stroke-width="5.5" stroke-linecap="round"/>
<line x1="321.5" y1="165.4" x2="322.5" y2="166.2" stroke="#2a9e28" stroke-width="5.5" stroke-linecap="round"/>
<line x1="320.5" y1="164.5" x2="321.5" y2="165.4" stroke="#46e040" stroke-width="4.0" stroke-linecap="round"/>
<line x1="321.5" y1="165.4" x2="322.5" y2="166.2" stroke="#46e040" stroke-width="4.0" stroke-linecap="round"/>
<line x1="319.7" y1="163.7" x2="320.7" y2="164.6" stroke="#8af880" stroke-width="1.2" stroke-linecap="round" opacity="0.45"/>
<line x1="320.7" y1="164.6" x2="321.7" y2="165.4" stroke="#8af880" stroke-width="1.2" stroke-linecap="round" opacity="0.45"/>
<line x1="322.5" y1="166.2" x2="321.5" y2="168.2" stroke="#2a9e28" stroke-width="5.5" stroke-linecap="round"/>
<line x1="321.5" y1="168.2" x2="320.5" y2="170.2" stroke="#2a9e28" stroke-width="5.5" stroke-linecap="round"/>
<line x1="322.5" y1="166.2" x2="321.5" y2="168.2" stroke="#46e040" stroke-width="4.0" stroke-linecap="round"/>
<line x1="321.5" y1="168.2" x2="320.5" y2="170.2" stroke="#46e040" stroke-width="4.0" stroke-linecap="round"/>
<line x1="321.7" y1="165.4" x2="320.7" y2="167.4" stroke="#8af880" stroke-width="1.2" stroke-linecap="round" opacity="0.45"/>
<line x1="320.7" y1="167.4" x2="319.7" y2="169.4" stroke="#8af880" stroke-width="1.2" stroke-linecap="round" opacity="0.45"/>
<line x1="320.5" y1="170.2" x2="322.2" y2="170.9" stroke="#2a9e28" stroke-width="5.5" stroke-linecap="round"/>
<line x1="322.2" y1="170.9" x2="324.0" y2="171.5" stroke="#182090" stroke-width="5.5" stroke-linecap="round"/>
<line x1="320.5" y1="170.2" x2="322.2" y2="170.9" stroke="#46e040" stroke-width="4.0" stroke-linecap="round"/>
<line x1="322.2" y1="170.9" x2="324.0" y2="171.5" stroke="#2030e0" stroke-width="4.0" stroke-linecap="round"/>
<line x1="319.7" y1="169.4" x2="321.4" y2="170.1" stroke="#8af880" stroke-width="1.2" stroke-linecap="round" opacity="0.45"/>
<line x1="321.4" y1="170.1" x2="323.2" y2="170.7" stroke="#6070ff" stroke-width="1.2" stroke-linecap="round" opacity="0.45"/>
<text x="154" y="38" font-size="28">A</text>
<text x="603" y="36.5" font-size="27">B</text>
<rect x="240" y="134" width="104.4" height="110.4" rx="13" ry="13" fill="none" stroke="#d04040" stroke-width="1.3" stroke-dasharray="3,2"/>
<defs>
<linearGradient id="cbar" x1="0" x2="1" y1="0" y2="0">
<stop offset="0" stop-color="#e41a1c"/><stop offset="0.12" stop-color="#e42a22"/><stop offset="0.24" stop-color="#e5502e"/>
<stop offset="0.36" stop-color="#ea8050"/><stop offset="0.5" stop-color="#ecb070"/><stop offset="0.62" stop-color="#e2c58e"/>
<stop offset="0.74" stop-color="#cdc8a8"/><stop offset="0.86" stop-color="#c0d0c0"/><stop offset="1" stop-color="#bfe3f3"/>
</linearGradient>
<filter id="blur2" x="-50%" y="-50%" width="200%" height="200%"><feGaussianBlur stdDeviation="2.2"/></filter>
<filter id="blur4" x="-50%" y="-50%" width="200%" height="200%"><feGaussianBlur stdDeviation="4"/></filter>
<filter id="blur1" x="-50%" y="-50%" width="200%" height="200%"><feGaussianBlur stdDeviation="1.2"/></filter>
<filter id="blur15" x="-100%" y="-5%" width="300%" height="110%"><feGaussianBlur stdDeviation="1.7"/></filter>
<clipPath id="hmclip"><rect x="45.5" y="435" width="491.5" height="224"/></clipPath>
</defs>
<text x="39" y="386" font-size="30">C</text>
<text x="291" y="399.5" font-size="15.8" text-anchor="middle">Color Scale of the Mutation Energy (kcal/mol)</text>
<rect x="45.5" y="425" width="491" height="7.5" fill="url(#cbar)" stroke="#333" stroke-width="0.9"/>
<line x1="45.4" y1="419" x2="45.4" y2="432" stroke="#333" stroke-width="0.9"/>
<text x="43.4" y="415.5" font-size="12.5" font-weight="bold" text-anchor="middle">6.0</text>
<line x1="163.2" y1="419" x2="163.2" y2="432" stroke="#333" stroke-width="0.9"/>
<text x="161.2" y="415.5" font-size="12.5" font-weight="bold" text-anchor="middle">4.0</text>
<line x1="287.1" y1="419" x2="287.1" y2="432" stroke="#333" stroke-width="0.9"/>
<text x="285.1" y="415.5" font-size="12.5" font-weight="bold" text-anchor="middle">2.0</text>
<line x1="405.3" y1="419" x2="405.3" y2="432" stroke="#333" stroke-width="0.9"/>
<text x="403.3" y="415.5" font-size="12.5" font-weight="bold" text-anchor="middle">0.0</text>
<line x1="536.4" y1="419" x2="536.4" y2="432" stroke="#333" stroke-width="0.9"/>
<text x="532.4" y="415.5" font-size="12.5" font-weight="bold" text-anchor="middle">-2.0</text>
<g clip-path="url(#hmclip)">
<rect x="45.5" y="435" width="491.5" height="224" fill="#f1d49c"/>
<rect x="45.0" y="435" width="13.0" height="224" fill="#f0d098" opacity="0.60" filter="url(#blur4)"/>
<rect x="96.0" y="435" width="16.0" height="224" fill="#f2d6a0" opacity="0.60" filter="url(#blur4)"/>
<rect x="124.0" y="435" width="46.0" height="224" fill="#efd6a6" opacity="0.70" filter="url(#blur4)"/>
<rect x="200.0" y="435" width="40.0" height="224" fill="#f0cf92" opacity="0.50" filter="url(#blur4)"/>
<rect x="280.0" y="435" width="70.0" height="224" fill="#f3d9a4" opacity="0.80" filter="url(#blur4)"/>
<rect x="390.0" y="435" width="40.0" height="224" fill="#eed7aa" opacity="0.60" filter="url(#blur4)"/>
<rect x="455.0" y="435" width="30.0" height="224" fill="#eed4a2" opacity="0.60" filter="url(#blur4)"/>
<rect x="500.0" y="435" width="37.0" height="224" fill="#ecd3a2" opacity="0.70" filter="url(#blur4)"/>
<rect x="72.0" y="435" width="7.0" height="224" fill="#d2e2dc" opacity="0.70" filter="url(#blur2)"/>
<rect x="145.0" y="435" width="8.0" height="224" fill="#d2e2dc" opacity="0.55" filter="url(#blur2)"/>
<rect x="181.0" y="435" width="4.0" height="224" fill="#d2e2dc" opacity="0.35" filter="url(#blur2)"/>
<rect x="192.0" y="435" width="4.0" height="224" fill="#d2e2dc" opacity="0.35" filter="url(#blur2)"/>
<rect x="350.0" y="435" width="6.0" height="224" fill="#d2e2dc" opacity="0.45" filter="url(#blur2)"/>
<rect x="376.0" y="435" width="6.0" height="224" fill="#d2e2dc" opacity="0.40" filter="url(#blur2)"/>
<rect x="429.0" y="435" width="6.0" height="224" fill="#d2e2dc" opacity="0.55" filter="url(#blur2)"/>
<rect x="502.0" y="435" width="6.0" height="224" fill="#d2e2dc" opacity="0.40" filter="url(#blur2)"/>
<rect x="517.5" y="435" width="5.0" height="224" fill="#d2e2dc" opacity="0.30" filter="url(#blur2)"/>
<rect x="60.6" y="450.0" width="5.3" height="209.0" fill="#f4a030" opacity="0.85" filter="url(#blur15)"/>
<rect x="114.0" y="437.0" width="5.3" height="203.0" fill="#f4a030" opacity="0.90" filter="url(#blur15)"/>
<rect x="245.9" y="435.0" width="5.3" height="224.0" fill="#f4a030" opacity="1.00" filter="url(#blur15)"/>
<rect x="269.4" y="465.0" width="5.3" height="194.0" fill="#f4a030" opacity="0.90" filter="url(#blur15)"/>
<rect x="365.4" y="435.0" width="5.3" height="224.0" fill="#f4a030" opacity="0.90" filter="url(#blur15)"/>
<rect x="488.8" y="440.0" width="5.3" height="219.0" fill="#f4a030" opacity="0.80" filter="url(#blur15)"/>
<rect x="86.5" y="437.0" width="3.8" height="222.0" fill="#f4a030" opacity="0.30" filter="url(#blur15)"/>
<rect x="138.5" y="437.0" width="3.8" height="222.0" fill="#f4a030" opacity="0.25" filter="url(#blur15)"/>
<rect x="258.5" y="437.0" width="3.8" height="222.0" fill="#f4a030" opacity="0.30" filter="url(#blur15)"/>
<rect x="287.1" y="437.0" width="3.8" height="222.0" fill="#f4a030" opacity="0.35" filter="url(#blur15)"/>
<rect x="347.5" y="437.0" width="3.8" height="222.0" fill="#f4a030" opacity="0.30" filter="url(#blur15)"/>
<rect x="418.5" y="437.0" width="3.8" height="222.0" fill="#f4a030" opacity="0.35" filter="url(#blur15)"/>
<rect x="443.5" y="437.0" width="3.8" height="222.0" fill="#f4a030" opacity="0.30" filter="url(#blur15)"/>
<ellipse cx="75.5" cy="552.0" rx="5.0" ry="13.0" fill="#c5e6f2" filter="url(#blur1)"/>
<ellipse cx="75.5" cy="641.0" rx="5.0" ry="10.0" fill="#c5e6f2" filter="url(#blur1)"/>
<ellipse cx="182.0" cy="455.5" rx="3.5" ry="7.0" fill="#c5e6f2" filter="url(#blur1)"/>
<ellipse cx="182.0" cy="505.0" rx="2.5" ry="4.0" fill="#c5e6f2" filter="url(#blur1)"/>
<ellipse cx="182.0" cy="540.0" rx="2.5" ry="5.0" fill="#c5e6f2" filter="url(#blur1)"/>
<ellipse cx="194.0" cy="471.0" rx="2.5" ry="4.0" fill="#c5e6f2" filter="url(#blur1)"/>
<ellipse cx="194.0" cy="519.0" rx="2.5" ry="4.0" fill="#c5e6f2" filter="url(#blur1)"/>
<ellipse cx="194.0" cy="552.0" rx="3.0" ry="6.0" fill="#c5e6f2" filter="url(#blur1)"/>
<ellipse cx="149.0" cy="445.0" rx="4.0" ry="8.0" fill="#c5e6f2" filter="url(#blur1)"/>
<polygon points="75.5,568.5 80.5,577.0 75.5,585.5 70.5,577.0" fill="#e8201a"/>
<polygon points="75.5,617.5 78.5,623.0 75.5,628.5 72.5,623.0" fill="#ee5020"/>
<polygon points="349.2,451.5 353.2,459.0 349.2,466.5 345.2,459.0" fill="#ee2a18"/>
<polygon points="432.9,441.3 437.9,454.3 432.9,467.3 427.9,454.3" fill="#ea1a14"/>
<polygon points="492.2,438.6 497.7,453.1 492.2,467.6 486.7,453.1" fill="#ea1a14"/>
<polygon points="492.2,498.5 495.7,506.0 492.2,513.5 488.7,506.0" fill="#ea2018"/>
<polygon points="432.9,501.0 435.9,506.0 432.9,511.0 429.9,506.0" fill="#f06a20"/>
<polygon points="445.3,443.3 447.8,447.3 445.3,451.3 442.8,447.3" fill="#f5a040"/>
<polygon points="368.0,435.0 371.0,439.0 368.0,443.0 365.0,439.0" fill="#f07828"/>
<ellipse cx="443" cy="500" rx="3" ry="8" transform="rotate(-20 443 500)" fill="#f5a040" filter="url(#blur1)"/>
<ellipse cx="505.0" cy="493.0" rx="4.0" ry="3.0" fill="#f5a040" opacity="0.8" filter="url(#blur1)"/>
<ellipse cx="492.0" cy="645.0" rx="3.0" ry="6.0" fill="#f5a040" opacity="0.8" filter="url(#blur1)"/>
<ellipse cx="368.0" cy="530.0" rx="2.5" ry="5.0" fill="#f5a040" opacity="0.8" filter="url(#blur1)"/>
<ellipse cx="349.0" cy="518.0" rx="2.5" ry="4.0" fill="#f5a040" opacity="0.8" filter="url(#blur1)"/>
<ellipse cx="349.0" cy="565.0" rx="2.5" ry="4.0" fill="#f5a040" opacity="0.8" filter="url(#blur1)"/>
<ellipse cx="260.0" cy="470.0" rx="2.0" ry="4.0" fill="#f5a040" opacity="0.8" filter="url(#blur1)"/>
<ellipse cx="63.0" cy="470.0" rx="3.0" ry="8.0" fill="#f5a040" opacity="0.8" filter="url(#blur1)"/>
<polygon points="153,650 158,659 148,659" fill="#ffffff"/>
</g>
<rect x="45.5" y="435" width="491.5" height="224" fill="none" stroke="#222" stroke-width="0.8"/>
<line x1="45.5" y1="435" x2="45.5" y2="659" stroke="#111" stroke-width="2"/>
<line x1="39.5" y1="659.0" x2="45.5" y2="659.0" stroke="#111" stroke-width="1.3"/>
<text x="31" y="661.7" font-size="7.5" font-weight="bold" text-anchor="middle">A</text>
<line x1="42" y1="653.1" x2="45.5" y2="653.1" stroke="#111" stroke-width="1"/>
<line x1="39.5" y1="647.2" x2="45.5" y2="647.2" stroke="#111" stroke-width="1.3"/>
<text x="31" y="649.9" font-size="7.5" font-weight="bold" text-anchor="middle">R</text>
<line x1="42" y1="641.3" x2="45.5" y2="641.3" stroke="#111" stroke-width="1"/>
<line x1="39.5" y1="635.4" x2="45.5" y2="635.4" stroke="#111" stroke-width="1.3"/>
<text x="31" y="638.1" font-size="7.5" font-weight="bold" text-anchor="middle">N</text>
<line x1="42" y1="629.5" x2="45.5" y2="629.5" stroke="#111" stroke-width="1"/>
<line x1="39.5" y1="623.6" x2="45.5" y2="623.6" stroke="#111" stroke-width="1.3"/>
<text x="31" y="626.3" font-size="7.5" font-weight="bold" text-anchor="middle">D</text>
<line x1="42" y1="617.7" x2="45.5" y2="617.7" stroke="#111" stroke-width="1"/>
<line x1="39.5" y1="611.8" x2="45.5" y2="611.8" stroke="#111" stroke-width="1.3"/>
<text x="31" y="614.5" font-size="7.5" font-weight="bold" text-anchor="middle">C</text>
<line x1="42" y1="605.9" x2="45.5" y2="605.9" stroke="#111" stroke-width="1"/>
<line x1="39.5" y1="600.1" x2="45.5" y2="600.1" stroke="#111" stroke-width="1.3"/>
<text x="31" y="602.8" font-size="7.5" font-weight="bold" text-anchor="middle">Q</text>
<line x1="42" y1="594.2" x2="45.5" y2="594.2" stroke="#111" stroke-width="1"/>
<line x1="39.5" y1="588.3" x2="45.5" y2="588.3" stroke="#111" stroke-width="1.3"/>
<text x="31" y="591.0" font-size="7.5" font-weight="bold" text-anchor="middle">E</text>
<line x1="42" y1="582.4" x2="45.5" y2="582.4" stroke="#111" stroke-width="1"/>
<line x1="39.5" y1="576.5" x2="45.5" y2="576.5" stroke="#111" stroke-width="1.3"/>
<text x="31" y="579.2" font-size="7.5" font-weight="bold" text-anchor="middle">G</text>
<line x1="42" y1="570.6" x2="45.5" y2="570.6" stroke="#111" stroke-width="1"/>
<line x1="39.5" y1="564.7" x2="45.5" y2="564.7" stroke="#111" stroke-width="1.3"/>
<text x="31" y="567.4" font-size="7.5" font-weight="bold" text-anchor="middle">H</text>
<line x1="42" y1="558.8" x2="45.5" y2="558.8" stroke="#111" stroke-width="1"/>
<line x1="39.5" y1="552.9" x2="45.5" y2="552.9" stroke="#111" stroke-width="1.3"/>
<text x="31" y="555.6" font-size="7.5" font-weight="bold" text-anchor="middle">I</text>
<line x1="42" y1="547.0" x2="45.5" y2="547.0" stroke="#111" stroke-width="1"/>
<line x1="39.5" y1="541.1" x2="45.5" y2="541.1" stroke="#111" stroke-width="1.3"/>
<text x="31" y="543.8" font-size="7.5" font-weight="bold" text-anchor="middle">L</text>
<line x1="42" y1="535.2" x2="45.5" y2="535.2" stroke="#111" stroke-width="1"/>
<line x1="39.5" y1="529.3" x2="45.5" y2="529.3" stroke="#111" stroke-width="1.3"/>
<text x="31" y="532.0" font-size="7.5" font-weight="bold" text-anchor="middle">K</text>
<line x1="42" y1="523.4" x2="45.5" y2="523.4" stroke="#111" stroke-width="1"/>
<line x1="39.5" y1="517.5" x2="45.5" y2="517.5" stroke="#111" stroke-width="1.3"/>
<text x="31" y="520.2" font-size="7.5" font-weight="bold" text-anchor="middle">M</text>
<line x1="42" y1="511.6" x2="45.5" y2="511.6" stroke="#111" stroke-width="1"/>
<line x1="39.5" y1="505.7" x2="45.5" y2="505.7" stroke="#111" stroke-width="1.3"/>
<text x="31" y="508.4" font-size="7.5" font-weight="bold" text-anchor="middle">F</text>
<line x1="42" y1="499.8" x2="45.5" y2="499.8" stroke="#111" stroke-width="1"/>
<line x1="39.5" y1="493.9" x2="45.5" y2="493.9" stroke="#111" stroke-width="1.3"/>
<text x="31" y="496.6" font-size="7.5" font-weight="bold" text-anchor="middle">P</text>
<line x1="42" y1="488.1" x2="45.5" y2="488.1" stroke="#111" stroke-width="1"/>
<line x1="39.5" y1="482.2" x2="45.5" y2="482.2" stroke="#111" stroke-width="1.3"/>
<text x="31" y="484.9" font-size="7.5" font-weight="bold" text-anchor="middle">S</text>
<line x1="42" y1="476.3" x2="45.5" y2="476.3" stroke="#111" stroke-width="1"/>
<line x1="39.5" y1="470.4" x2="45.5" y2="470.4" stroke="#111" stroke-width="1.3"/>
<text x="31" y="473.1" font-size="7.5" font-weight="bold" text-anchor="middle">T</text>
<line x1="42" y1="464.5" x2="45.5" y2="464.5" stroke="#111" stroke-width="1"/>
<line x1="39.5" y1="458.6" x2="45.5" y2="458.6" stroke="#111" stroke-width="1.3"/>
<text x="31" y="461.3" font-size="7.5" font-weight="bold" text-anchor="middle">W</text>
<line x1="42" y1="452.7" x2="45.5" y2="452.7" stroke="#111" stroke-width="1"/>
<line x1="39.5" y1="446.8" x2="45.5" y2="446.8" stroke="#111" stroke-width="1.3"/>
<text x="31" y="449.5" font-size="7.5" font-weight="bold" text-anchor="middle">Y</text>
<line x1="42" y1="440.9" x2="45.5" y2="440.9" stroke="#111" stroke-width="1"/>
<line x1="39.5" y1="435.0" x2="45.5" y2="435.0" stroke="#111" stroke-width="1.3"/>
<text x="31" y="437.7" font-size="7.5" font-weight="bold" text-anchor="middle">V</text>
<text transform="translate(18,547) rotate(-90)" font-size="13" font-weight="bold" text-anchor="middle">Amino acid</text>
<line x1="537.5" y1="434" x2="537.5" y2="659" stroke="#111" stroke-width="2"/>
<line x1="537.5" y1="659.3" x2="543" y2="659.3" stroke="#111" stroke-width="1.2"/>
<text x="546" y="661.8" font-size="7" font-weight="bold">-3</text>
<line x1="537.5" y1="646.8" x2="540.5" y2="646.8" stroke="#111" stroke-width="1"/>
<line x1="537.5" y1="634.3" x2="543" y2="634.3" stroke="#111" stroke-width="1.2"/>
<text x="546" y="636.8" font-size="7" font-weight="bold">-2</text>
<line x1="537.5" y1="621.8" x2="540.5" y2="621.8" stroke="#111" stroke-width="1"/>
<line x1="537.5" y1="609.3" x2="543" y2="609.3" stroke="#111" stroke-width="1.2"/>
<text x="546" y="611.8" font-size="7" font-weight="bold">-1</text>
<line x1="537.5" y1="596.8" x2="540.5" y2="596.8" stroke="#111" stroke-width="1"/>
<line x1="537.5" y1="584.3" x2="543" y2="584.3" stroke="#111" stroke-width="1.2"/>
<text x="546" y="586.8" font-size="7" font-weight="bold">0</text>
<line x1="537.5" y1="571.8" x2="540.5" y2="571.8" stroke="#111" stroke-width="1"/>
<line x1="537.5" y1="559.3" x2="543" y2="559.3" stroke="#111" stroke-width="1.2"/>
<text x="546" y="561.8" font-size="7" font-weight="bold">1</text>
<line x1="537.5" y1="546.8" x2="540.5" y2="546.8" stroke="#111" stroke-width="1"/>
<line x1="537.5" y1="534.3" x2="543" y2="534.3" stroke="#111" stroke-width="1.2"/>
<text x="546" y="536.8" font-size="7" font-weight="bold">2</text>
<line x1="537.5" y1="521.8" x2="540.5" y2="521.8" stroke="#111" stroke-width="1"/>
<line x1="537.5" y1="509.3" x2="543" y2="509.3" stroke="#111" stroke-width="1.2"/>
<text x="546" y="511.8" font-size="7" font-weight="bold">3</text>
<line x1="537.5" y1="496.8" x2="540.5" y2="496.8" stroke="#111" stroke-width="1"/>
<line x1="537.5" y1="484.3" x2="543" y2="484.3" stroke="#111" stroke-width="1.2"/>
<text x="546" y="486.8" font-size="7" font-weight="bold">4</text>
<line x1="537.5" y1="471.8" x2="540.5" y2="471.8" stroke="#111" stroke-width="1"/>
<line x1="537.5" y1="459.3" x2="543" y2="459.3" stroke="#111" stroke-width="1.2"/>
<text x="546" y="461.8" font-size="7" font-weight="bold">5</text>
<line x1="537.5" y1="446.8" x2="540.5" y2="446.8" stroke="#111" stroke-width="1"/>
<line x1="537.5" y1="434.3" x2="543" y2="434.3" stroke="#111" stroke-width="1.2"/>
<text x="546" y="436.8" font-size="7" font-weight="bold">6</text>
<text x="545" y="574.5" font-size="7" font-weight="bold" fill="#e03030">0.5</text>
<text x="542" y="599.5" font-size="7" font-weight="bold" fill="#e03030">-0.5</text>
<text transform="translate(558,549) rotate(90)" font-size="13.7" font-weight="bold" text-anchor="middle">Average Mutation Energy (kcal/mol)</text>
<line x1="45.5" y1="571.8" x2="537" y2="571.8" stroke="#8c8a7c" stroke-width="1.5" stroke-dasharray="7,3,2,3"/>
<line x1="45.5" y1="596.8" x2="537" y2="596.8" stroke="#8c8a7c" stroke-width="1.5" stroke-dasharray="7,3,2,3"/>
<polyline points="51.2,585.0 57.2,585.0 63.2,555.8 69.1,601.9 75.1,598.3 81.1,591.2 87.0,591.2 93.0,592.0 99.0,595.6 104.9,590.5 110.9,583.4 116.9,552.3 122.8,591.2 128.8,590.0 134.8,591.0 140.7,599.5 146.7,602.6 152.7,601.4 158.6,585.0 164.6,585.5 170.6,585.0 176.5,586.6 182.5,603.4 188.4,585.8 194.4,597.5 200.4,585.5 206.3,582.8 212.3,585.2 218.3,586.2 224.2,585.0 230.2,588.3 236.2,589.8 242.1,589.0 248.1,543.8 254.1,589.4 260.0,582.8 266.0,585.2 272.0,555.8 277.9,583.6 283.9,581.6 289.9,576.9 295.8,585.8 301.8,584.7 307.7,585.0 313.7,586.0 319.7,586.7 325.6,586.7 331.6,588.1 337.6,585.5 343.5,588.1 349.5,581.2 355.5,596.9 361.4,588.9 367.4,558.6 373.4,596.1 379.3,595.3 385.3,592.0 391.3,585.5 397.2,583.1 403.2,585.2 409.1,585.5 415.1,588.9 421.1,579.5 427.0,591.2 433.0,577.7 439.0,587.0 444.9,584.7 450.9,598.0 456.9,594.5 462.8,596.1 468.8,589.7 474.8,585.5 480.7,588.1 486.7,594.8 492.7,548.3 498.6,586.7 504.6,592.5 510.6,589.7 516.5,594.5 522.5,584.7 528.5,583.6 534.4,590.5" fill="none" stroke="#111" stroke-width="1.5"/>
<circle cx="51.2" cy="585.0" r="2.6" fill="#111"/>
<circle cx="57.2" cy="585.0" r="2.6" fill="#111"/>
<circle cx="63.2" cy="555.8" r="2.4" fill="#e8262a"/>
<circle cx="69.1" cy="601.9" r="2.4" fill="#e8262a"/>
<circle cx="75.1" cy="598.3" r="2.4" fill="#d84a6a"/>
<circle cx="81.1" cy="591.2" r="2.6" fill="#111"/>
<circle cx="87.0" cy="591.2" r="2.6" fill="#111"/>
<circle cx="93.0" cy="592.0" r="2.6" fill="#111"/>
<circle cx="99.0" cy="595.6" r="2.6" fill="#111"/>
<circle cx="104.9" cy="590.5" r="2.6" fill="#111"/>
<circle cx="110.9" cy="583.4" r="2.6" fill="#111"/>
<circle cx="116.9" cy="552.3" r="2.4" fill="#e8262a"/>
<circle cx="122.8" cy="591.2" r="2.6" fill="#111"/>
<circle cx="128.8" cy="590.0" r="2.6" fill="#111"/>
<circle cx="134.8" cy="591.0" r="2.6" fill="#111"/>
<circle cx="140.7" cy="599.5" r="2.4" fill="#e8262a"/>
<circle cx="146.7" cy="602.6" r="2.4" fill="#e8262a"/>
<circle cx="152.7" cy="601.4" r="2.4" fill="#e8262a"/>
<circle cx="158.6" cy="585.0" r="2.6" fill="#111"/>
<circle cx="164.6" cy="585.5" r="2.6" fill="#111"/>
<circle cx="170.6" cy="585.0" r="2.6" fill="#111"/>
<circle cx="176.5" cy="586.6" r="2.6" fill="#111"/>
<circle cx="182.5" cy="603.4" r="2.4" fill="#e8262a"/>
<circle cx="188.4" cy="585.8" r="2.6" fill="#111"/>
<circle cx="194.4" cy="597.5" r="2.4" fill="#d84a6a"/>
<circle cx="200.4" cy="585.5" r="2.6" fill="#111"/>
<circle cx="206.3" cy="582.8" r="2.6" fill="#111"/>
<circle cx="212.3" cy="585.2" r="2.6" fill="#111"/>
<circle cx="218.3" cy="586.2" r="2.6" fill="#111"/>
<circle cx="224.2" cy="585.0" r="2.6" fill="#111"/>
<circle cx="230.2" cy="588.3" r="2.6" fill="#111"/>
<circle cx="236.2" cy="589.8" r="2.6" fill="#111"/>
<circle cx="242.1" cy="589.0" r="2.6" fill="#111"/>
<circle cx="248.1" cy="543.8" r="2.4" fill="#e8262a"/>
<circle cx="254.1" cy="589.4" r="2.6" fill="#111"/>
<circle cx="260.0" cy="582.8" r="2.6" fill="#111"/>
<circle cx="266.0" cy="585.2" r="2.6" fill="#111"/>
<circle cx="272.0" cy="555.8" r="2.4" fill="#e8262a"/>
<circle cx="277.9" cy="583.6" r="2.6" fill="#111"/>
<circle cx="283.9" cy="581.6" r="2.6" fill="#111"/>
<circle cx="289.9" cy="576.9" r="2.6" fill="#111"/>
<circle cx="295.8" cy="585.8" r="2.6" fill="#111"/>
<circle cx="301.8" cy="584.7" r="2.6" fill="#111"/>
<circle cx="307.7" cy="585.0" r="2.6" fill="#111"/>
<circle cx="313.7" cy="586.0" r="2.6" fill="#111"/>
<circle cx="319.7" cy="586.7" r="2.6" fill="#111"/>
<circle cx="325.6" cy="586.7" r="2.6" fill="#111"/>
<circle cx="331.6" cy="588.1" r="2.6" fill="#111"/>
<circle cx="337.6" cy="585.5" r="2.6" fill="#111"/>
<circle cx="343.5" cy="588.1" r="2.6" fill="#111"/>
<circle cx="349.5" cy="581.2" r="2.6" fill="#111"/>
<circle cx="355.5" cy="596.9" r="2.4" fill="#e8262a"/>
<circle cx="361.4" cy="588.9" r="2.6" fill="#111"/>
<circle cx="367.4" cy="558.6" r="2.4" fill="#e8262a"/>
<circle cx="373.4" cy="596.1" r="2.4" fill="#e8262a"/>
<circle cx="379.3" cy="595.3" r="2.6" fill="#111"/>
<circle cx="385.3" cy="592.0" r="2.6" fill="#111"/>
<circle cx="391.3" cy="585.5" r="2.6" fill="#111"/>
<circle cx="397.2" cy="583.1" r="2.6" fill="#111"/>
<circle cx="403.2" cy="585.2" r="2.6" fill="#111"/>
<circle cx="409.1" cy="585.5" r="2.6" fill="#111"/>
<circle cx="415.1" cy="588.9" r="2.6" fill="#111"/>
<circle cx="421.1" cy="579.5" r="2.6" fill="#111"/>
<circle cx="427.0" cy="591.2" r="2.6" fill="#111"/>
<circle cx="433.0" cy="577.7" r="2.6" fill="#111"/>
<circle cx="439.0" cy="587.0" r="2.6" fill="#111"/>
<circle cx="444.9" cy="584.7" r="2.6" fill="#111"/>
<circle cx="450.9" cy="598.0" r="2.4" fill="#e8262a"/>
<circle cx="456.9" cy="594.5" r="2.6" fill="#111"/>
<circle cx="462.8" cy="596.1" r="2.6" fill="#111"/>
<circle cx="468.8" cy="589.7" r="2.6" fill="#111"/>
<circle cx="474.8" cy="585.5" r="2.6" fill="#111"/>
<circle cx="480.7" cy="588.1" r="2.6" fill="#111"/>
<circle cx="486.7" cy="594.8" r="2.6" fill="#111"/>
<circle cx="492.7" cy="548.3" r="2.4" fill="#e8262a"/>
<circle cx="498.6" cy="586.7" r="2.6" fill="#111"/>
<circle cx="504.6" cy="592.5" r="2.6" fill="#111"/>
<circle cx="510.6" cy="589.7" r="2.6" fill="#111"/>
<circle cx="516.5" cy="594.5" r="2.6" fill="#111"/>
<circle cx="522.5" cy="584.7" r="2.6" fill="#111"/>
<circle cx="528.5" cy="583.6" r="2.6" fill="#111"/>
<circle cx="534.4" cy="590.5" r="2.6" fill="#111"/>
<text x="63.0" y="550.5" font-family="Liberation Sans" font-size="7.5" font-weight="bold" fill="#e03a2a" text-anchor="middle">Y60</text>
<text x="69.0" y="614.0" font-family="Liberation Sans" font-size="7.5" font-weight="bold" fill="#e03a2a" text-anchor="middle">D61</text>
<text x="79.0" y="609.0" font-family="Liberation Sans" font-size="7.5" font-weight="bold" fill="#e03a2a" text-anchor="start">V62</text>
<text x="117.0" y="547.0" font-family="Liberation Sans" font-size="7.5" font-weight="bold" fill="#e03a2a" text-anchor="middle">R79</text>
<text x="127.0" y="608.0" font-family="Liberation Sans" font-size="7.5" font-weight="bold" fill="#e03a2a" text-anchor="middle">V116</text>
<text x="145.0" y="615.0" font-family="Liberation Sans" font-size="7.5" font-weight="bold" fill="#e03a2a" text-anchor="middle">E117</text>
<text x="156.0" y="608.0" font-family="Liberation Sans" font-size="7.5" font-weight="bold" fill="#e03a2a" text-anchor="start">L118</text>
<text x="178.0" y="612.0" font-family="Liberation Sans" font-size="7.5" font-weight="bold" fill="#e03a2a" text-anchor="middle">V147</text>
<text x="192.0" y="610.0" font-family="Liberation Sans" font-size="7.5" font-weight="bold" fill="#e03a2a" text-anchor="start">V149</text>
<text x="248.0" y="538.5" font-family="Liberation Sans" font-size="7.5" font-weight="bold" fill="#e03a2a" text-anchor="middle">K180</text>
<text x="272.5" y="550.5" font-family="Liberation Sans" font-size="7.5" font-weight="bold" fill="#e03a2a" text-anchor="middle">W184</text>
<text x="357.0" y="610.0" font-family="Liberation Sans" font-size="7.5" font-weight="bold" fill="#e03a2a" text-anchor="middle">G214</text>
<text x="368.5" y="553.0" font-family="Liberation Sans" font-size="7.5" font-weight="bold" fill="#e03a2a" text-anchor="middle">G216</text>
<text x="377.0" y="610.0" font-family="Liberation Sans" font-size="7.5" font-weight="bold" fill="#e03a2a" text-anchor="middle">F217</text>
<text x="451.0" y="610.0" font-family="Liberation Sans" font-size="7.5" font-weight="bold" fill="#e03a2a" text-anchor="middle">R240</text>
<text x="492.5" y="543.0" font-family="Liberation Sans" font-size="7.5" font-weight="bold" fill="#e03a2a" text-anchor="middle">T274</text>
<text transform="translate(49.4,663) rotate(90)" font-size="5.6" font-weight="bold" fill="#111">L58</text>
<line x1="51.2" y1="659" x2="51.2" y2="662" stroke="#111" stroke-width="0.8"/>
<text transform="translate(55.3,663) rotate(90)" font-size="5.6" font-weight="bold" fill="#111">T59</text>
<line x1="57.2" y1="659" x2="57.2" y2="662" stroke="#111" stroke-width="0.8"/>
<text transform="translate(61.3,663) rotate(90)" font-size="5.6" font-weight="bold" fill="#111">Y60</text>
<line x1="63.2" y1="659" x2="63.2" y2="662" stroke="#111" stroke-width="0.8"/>
<text transform="translate(67.2,663) rotate(90)" font-size="5.6" font-weight="bold" fill="#111">D61</text>
<line x1="69.1" y1="659" x2="69.1" y2="662" stroke="#111" stroke-width="0.8"/>
<text transform="translate(73.2,663) rotate(90)" font-size="5.6" font-weight="bold" fill="#111">V62</text>
<line x1="75.1" y1="659" x2="75.1" y2="662" stroke="#111" stroke-width="0.8"/>
<text transform="translate(79.2,663) rotate(90)" font-size="5.6" font-weight="bold" fill="#111">N63</text>
<line x1="81.1" y1="659" x2="81.1" y2="662" stroke="#111" stroke-width="0.8"/>
<text transform="translate(85.1,663) rotate(90)" font-size="5.6" font-weight="bold" fill="#111">S64</text>
<line x1="87.0" y1="659" x2="87.0" y2="662" stroke="#111" stroke-width="0.8"/>
<text transform="translate(91.1,663) rotate(90)" font-size="5.6" font-weight="bold" fill="#111">F71</text>
<line x1="93.0" y1="659" x2="93.0" y2="662" stroke="#111" stroke-width="0.8"/>
<text transform="translate(97.1,663) rotate(90)" font-size="5.6" font-weight="bold" fill="#111">K72</text>
<line x1="99.0" y1="659" x2="99.0" y2="662" stroke="#111" stroke-width="0.8"/>
<text transform="translate(103.0,663) rotate(90)" font-size="5.6" font-weight="bold" fill="#111">D75</text>
<line x1="104.9" y1="659" x2="104.9" y2="662" stroke="#111" stroke-width="0.8"/>
<text transform="translate(109.0,663) rotate(90)" font-size="5.6" font-weight="bold" fill="#111">H76</text>
<line x1="110.9" y1="659" x2="110.9" y2="662" stroke="#111" stroke-width="0.8"/>
<text transform="translate(115.0,663) rotate(90)" font-size="5.6" font-weight="bold" fill="#111">R79</text>
<line x1="116.9" y1="659" x2="116.9" y2="662" stroke="#111" stroke-width="0.8"/>
<text transform="translate(120.9,663) rotate(90)" font-size="5.6" font-weight="bold" fill="#111">L80</text>
<line x1="122.8" y1="659" x2="122.8" y2="662" stroke="#111" stroke-width="0.8"/>
<text transform="translate(126.9,663) rotate(90)" font-size="5.6" font-weight="bold" fill="#111">S83</text>
<line x1="128.8" y1="659" x2="128.8" y2="662" stroke="#111" stroke-width="0.8"/>
<text transform="translate(132.9,663) rotate(90)" font-size="5.6" font-weight="bold" fill="#111">L115</text>
<line x1="134.8" y1="659" x2="134.8" y2="662" stroke="#111" stroke-width="0.8"/>
<text transform="translate(138.8,663) rotate(90)" font-size="5.6" font-weight="bold" fill="#111">V116</text>
<line x1="140.7" y1="659" x2="140.7" y2="662" stroke="#111" stroke-width="0.8"/>
<text transform="translate(144.8,663) rotate(90)" font-size="5.6" font-weight="bold" fill="#111">E117</text>
<line x1="146.7" y1="659" x2="146.7" y2="662" stroke="#111" stroke-width="0.8"/>
<text transform="translate(150.8,663) rotate(90)" font-size="5.6" font-weight="bold" fill="#111">L118</text>
<line x1="152.7" y1="659" x2="152.7" y2="662" stroke="#111" stroke-width="0.8"/>
<text transform="translate(156.7,663) rotate(90)" font-size="5.6" font-weight="bold" fill="#111">D119</text>
<line x1="158.6" y1="659" x2="158.6" y2="662" stroke="#111" stroke-width="0.8"/>
<text transform="translate(162.7,663) rotate(90)" font-size="5.6" font-weight="bold" fill="#111">F142</text>
<line x1="164.6" y1="659" x2="164.6" y2="662" stroke="#111" stroke-width="0.8"/>
<text transform="translate(168.7,663) rotate(90)" font-size="5.6" font-weight="bold" fill="#111">Q144</text>
<line x1="170.6" y1="659" x2="170.6" y2="662" stroke="#111" stroke-width="0.8"/>
<text transform="translate(174.6,663) rotate(90)" font-size="5.6" font-weight="bold" fill="#111">S146</text>
<line x1="176.5" y1="659" x2="176.5" y2="662" stroke="#111" stroke-width="0.8"/>
<text transform="translate(180.6,663) rotate(90)" font-size="5.6" font-weight="bold" fill="#111">V147</text>
<line x1="182.5" y1="659" x2="182.5" y2="662" stroke="#111" stroke-width="0.8"/>
<text transform="translate(186.5,663) rotate(90)" font-size="5.6" font-weight="bold" fill="#111">W148</text>
<line x1="188.4" y1="659" x2="188.4" y2="662" stroke="#111" stroke-width="0.8"/>
<text transform="translate(192.5,663) rotate(90)" font-size="5.6" font-weight="bold" fill="#111">V149</text>
<line x1="194.4" y1="659" x2="194.4" y2="662" stroke="#111" stroke-width="0.8"/>
<text transform="translate(198.5,663) rotate(90)" font-size="5.6" font-weight="bold" fill="#111">C150</text>
<line x1="200.4" y1="659" x2="200.4" y2="662" stroke="#111" stroke-width="0.8"/>
<text transform="translate(204.4,663) rotate(90)" font-size="5.6" font-weight="bold" fill="#111">R169</text>
<line x1="206.3" y1="659" x2="206.3" y2="662" stroke="#111" stroke-width="0.8"/>
<text transform="translate(210.4,663) rotate(90)" font-size="5.6" font-weight="bold" fill="#111">V170</text>
<line x1="212.3" y1="659" x2="212.3" y2="662" stroke="#111" stroke-width="0.8"/>
<text transform="translate(216.4,663) rotate(90)" font-size="5.6" font-weight="bold" fill="#111">D175</text>
<line x1="218.3" y1="659" x2="218.3" y2="662" stroke="#111" stroke-width="0.8"/>
<text transform="translate(222.3,663) rotate(90)" font-size="5.6" font-weight="bold" fill="#111">D176</text>
<line x1="224.2" y1="659" x2="224.2" y2="662" stroke="#111" stroke-width="0.8"/>
<text transform="translate(228.3,663) rotate(90)" font-size="5.6" font-weight="bold" fill="#111">P177</text>
<line x1="230.2" y1="659" x2="230.2" y2="662" stroke="#111" stroke-width="0.8"/>
<text transform="translate(234.3,663) rotate(90)" font-size="5.6" font-weight="bold" fill="#111">T178</text>
<line x1="236.2" y1="659" x2="236.2" y2="662" stroke="#111" stroke-width="0.8"/>
<text transform="translate(240.2,663) rotate(90)" font-size="5.6" font-weight="bold" fill="#111">V179</text>
<line x1="242.1" y1="659" x2="242.1" y2="662" stroke="#111" stroke-width="0.8"/>
<text transform="translate(246.2,663) rotate(90)" font-size="5.6" font-weight="bold" fill="#111">K180</text>
<line x1="248.1" y1="659" x2="248.1" y2="662" stroke="#111" stroke-width="0.8"/>
<text transform="translate(252.2,663) rotate(90)" font-size="5.6" font-weight="bold" fill="#111">N181</text>
<line x1="254.1" y1="659" x2="254.1" y2="662" stroke="#111" stroke-width="0.8"/>
<text transform="translate(258.1,663) rotate(90)" font-size="5.6" font-weight="bold" fill="#111">L182</text>
<line x1="260.0" y1="659" x2="260.0" y2="662" stroke="#111" stroke-width="0.8"/>
<text transform="translate(264.1,663) rotate(90)" font-size="5.6" font-weight="bold" fill="#111">Q183</text>
<line x1="266.0" y1="659" x2="266.0" y2="662" stroke="#111" stroke-width="0.8"/>
<text transform="translate(270.1,663) rotate(90)" font-size="5.6" font-weight="bold" fill="#111">W184</text>
<line x1="272.0" y1="659" x2="272.0" y2="662" stroke="#111" stroke-width="0.8"/>
<text transform="translate(276.0,663) rotate(90)" font-size="5.6" font-weight="bold" fill="#111">G185</text>
<line x1="277.9" y1="659" x2="277.9" y2="662" stroke="#111" stroke-width="0.8"/>
<text transform="translate(282.0,663) rotate(90)" font-size="5.6" font-weight="bold" fill="#111">D186</text>
<line x1="283.9" y1="659" x2="283.9" y2="662" stroke="#111" stroke-width="0.8"/>
<text transform="translate(288.0,663) rotate(90)" font-size="5.6" font-weight="bold" fill="#111">L187</text>
<line x1="289.9" y1="659" x2="289.9" y2="662" stroke="#111" stroke-width="0.8"/>
<text transform="translate(293.9,663) rotate(90)" font-size="5.6" font-weight="bold" fill="#111">V188</text>
<line x1="295.8" y1="659" x2="295.8" y2="662" stroke="#111" stroke-width="0.8"/>
<text transform="translate(299.9,663) rotate(90)" font-size="5.6" font-weight="bold" fill="#111">G189</text>
<line x1="301.8" y1="659" x2="301.8" y2="662" stroke="#111" stroke-width="0.8"/>
<text transform="translate(305.8,663) rotate(90)" font-size="5.6" font-weight="bold" fill="#111">L190</text>
<line x1="307.7" y1="659" x2="307.7" y2="662" stroke="#111" stroke-width="0.8"/>
<text transform="translate(311.8,663) rotate(90)" font-size="5.6" font-weight="bold" fill="#111">D191</text>
<line x1="313.7" y1="659" x2="313.7" y2="662" stroke="#111" stroke-width="0.8"/>
<text transform="translate(317.8,663) rotate(90)" font-size="5.6" font-weight="bold" fill="#111">L192</text>
<line x1="319.7" y1="659" x2="319.7" y2="662" stroke="#111" stroke-width="0.8"/>
<text transform="translate(323.7,663) rotate(90)" font-size="5.6" font-weight="bold" fill="#111">G193</text>
<line x1="325.6" y1="659" x2="325.6" y2="662" stroke="#111" stroke-width="0.8"/>
<text transform="translate(329.7,663) rotate(90)" font-size="5.6" font-weight="bold" fill="#111">V194</text>
<line x1="331.6" y1="659" x2="331.6" y2="662" stroke="#111" stroke-width="0.8"/>
<text transform="translate(335.7,663) rotate(90)" font-size="5.6" font-weight="bold" fill="#111">D195</text>
<line x1="337.6" y1="659" x2="337.6" y2="662" stroke="#111" stroke-width="0.8"/>
<text transform="translate(341.6,663) rotate(90)" font-size="5.6" font-weight="bold" fill="#111">E196</text>
<line x1="343.5" y1="659" x2="343.5" y2="662" stroke="#111" stroke-width="0.8"/>
<text transform="translate(347.6,663) rotate(90)" font-size="5.6" font-weight="bold" fill="#111">S200</text>
<line x1="349.5" y1="659" x2="349.5" y2="662" stroke="#111" stroke-width="0.8"/>
<text transform="translate(353.6,663) rotate(90)" font-size="5.6" font-weight="bold" fill="#111">T201</text>
<line x1="355.5" y1="659" x2="355.5" y2="662" stroke="#111" stroke-width="0.8"/>
<text transform="translate(359.5,663) rotate(90)" font-size="5.6" font-weight="bold" fill="#111">G214</text>
<line x1="361.4" y1="659" x2="361.4" y2="662" stroke="#111" stroke-width="0.8"/>
<text transform="translate(365.5,663) rotate(90)" font-size="5.6" font-weight="bold" fill="#111">E215</text>
<line x1="367.4" y1="659" x2="367.4" y2="662" stroke="#111" stroke-width="0.8"/>
<text transform="translate(371.5,663) rotate(90)" font-size="5.6" font-weight="bold" fill="#111">G216</text>
<line x1="373.4" y1="659" x2="373.4" y2="662" stroke="#111" stroke-width="0.8"/>
<text transform="translate(377.4,663) rotate(90)" font-size="5.6" font-weight="bold" fill="#111">F217</text>
<line x1="379.3" y1="659" x2="379.3" y2="662" stroke="#111" stroke-width="0.8"/>
<text transform="translate(383.4,663) rotate(90)" font-size="5.6" font-weight="bold" fill="#111">S218</text>
<line x1="385.3" y1="659" x2="385.3" y2="662" stroke="#111" stroke-width="0.8"/>
<text transform="translate(389.4,663) rotate(90)" font-size="5.6" font-weight="bold" fill="#111">T219</text>
<line x1="391.3" y1="659" x2="391.3" y2="662" stroke="#111" stroke-width="0.8"/>
<text transform="translate(395.3,663) rotate(90)" font-size="5.6" font-weight="bold" fill="#111">V220</text>
<line x1="397.2" y1="659" x2="397.2" y2="662" stroke="#111" stroke-width="0.8"/>
<text transform="translate(401.3,663) rotate(90)" font-size="5.6" font-weight="bold" fill="#111">Q225</text>
<line x1="403.2" y1="659" x2="403.2" y2="662" stroke="#111" stroke-width="0.8"/>
<text transform="translate(407.2,663) rotate(90)" font-size="5.6" font-weight="bold" fill="#111">V226</text>
<line x1="409.1" y1="659" x2="409.1" y2="662" stroke="#111" stroke-width="0.8"/>
<text transform="translate(413.2,663) rotate(90)" font-size="5.6" font-weight="bold" fill="#111">Q227</text>
<line x1="415.1" y1="659" x2="415.1" y2="662" stroke="#111" stroke-width="0.8"/>
<text transform="translate(419.2,663) rotate(90)" font-size="5.6" font-weight="bold" fill="#111">E228</text>
<line x1="421.1" y1="659" x2="421.1" y2="662" stroke="#111" stroke-width="0.8"/>
<text transform="translate(425.1,663) rotate(90)" font-size="5.6" font-weight="bold" fill="#111">A229</text>
<line x1="427.0" y1="659" x2="427.0" y2="662" stroke="#111" stroke-width="0.8"/>
<text transform="translate(431.1,663) rotate(90)" font-size="5.6" font-weight="bold" fill="#111">K230</text>
<line x1="433.0" y1="659" x2="433.0" y2="662" stroke="#111" stroke-width="0.8"/>
<text transform="translate(437.1,663) rotate(90)" font-size="5.6" font-weight="bold" fill="#111">T231</text>
<line x1="439.0" y1="659" x2="439.0" y2="662" stroke="#111" stroke-width="0.8"/>
<text transform="translate(443.0,663) rotate(90)" font-size="5.6" font-weight="bold" fill="#111">R240</text>
<line x1="444.9" y1="659" x2="444.9" y2="662" stroke="#111" stroke-width="0.8"/>
<text transform="translate(449.0,663) rotate(90)" font-size="5.6" font-weight="bold" fill="#111">N241</text>
<line x1="450.9" y1="659" x2="450.9" y2="662" stroke="#111" stroke-width="0.8"/>
<text transform="translate(455.0,663) rotate(90)" font-size="5.6" font-weight="bold" fill="#111">M243</text>
<line x1="456.9" y1="659" x2="456.9" y2="662" stroke="#111" stroke-width="0.8"/>
<text transform="translate(460.9,663) rotate(90)" font-size="5.6" font-weight="bold" fill="#111">L244</text>
<line x1="462.8" y1="659" x2="462.8" y2="662" stroke="#111" stroke-width="0.8"/>
<text transform="translate(466.9,663) rotate(90)" font-size="5.6" font-weight="bold" fill="#111">A245</text>
<line x1="468.8" y1="659" x2="468.8" y2="662" stroke="#111" stroke-width="0.8"/>
<text transform="translate(472.9,663) rotate(90)" font-size="5.6" font-weight="bold" fill="#111">G246</text>
<line x1="474.8" y1="659" x2="474.8" y2="662" stroke="#111" stroke-width="0.8"/>
<text transform="translate(478.8,663) rotate(90)" font-size="5.6" font-weight="bold" fill="#111">A247</text>
<line x1="480.7" y1="659" x2="480.7" y2="662" stroke="#111" stroke-width="0.8"/>
<text transform="translate(484.8,663) rotate(90)" font-size="5.6" font-weight="bold" fill="#111">T274</text>
<line x1="486.7" y1="659" x2="486.7" y2="662" stroke="#111" stroke-width="0.8"/>
<text transform="translate(490.8,663) rotate(90)" font-size="5.6" font-weight="bold" fill="#111">E275</text>
<line x1="492.7" y1="659" x2="492.7" y2="662" stroke="#111" stroke-width="0.8"/>
<text transform="translate(496.7,663) rotate(90)" font-size="5.6" font-weight="bold" fill="#111">N276</text>
<line x1="498.6" y1="659" x2="498.6" y2="662" stroke="#111" stroke-width="0.8"/>
<text transform="translate(502.7,663) rotate(90)" font-size="5.6" font-weight="bold" fill="#111">G277</text>
<line x1="504.6" y1="659" x2="504.6" y2="662" stroke="#111" stroke-width="0.8"/>
<text transform="translate(508.7,663) rotate(90)" font-size="5.6" font-weight="bold" fill="#111">G278</text>
<line x1="510.6" y1="659" x2="510.6" y2="662" stroke="#111" stroke-width="0.8"/>
<text transform="translate(514.6,663) rotate(90)" font-size="5.6" font-weight="bold" fill="#111">E279</text>
<line x1="516.5" y1="659" x2="516.5" y2="662" stroke="#111" stroke-width="0.8"/>
<text transform="translate(520.6,663) rotate(90)" font-size="5.6" font-weight="bold" fill="#111">C280</text>
<line x1="522.5" y1="659" x2="522.5" y2="662" stroke="#111" stroke-width="0.8"/>
<text transform="translate(526.6,663) rotate(90)" font-size="5.6" font-weight="bold" fill="#111">L281</text>
<line x1="528.5" y1="659" x2="528.5" y2="662" stroke="#111" stroke-width="0.8"/>
<text transform="translate(532.5,663) rotate(90)" font-size="5.6" font-weight="bold" fill="#111">V282</text>
<line x1="534.4" y1="659" x2="534.4" y2="662" stroke="#111" stroke-width="0.8"/>
<text x="302.6" y="693.5" font-size="14.5" font-weight="bold" text-anchor="middle">Mutation Site</text>
<text x="622" y="401" font-size="30">D</text>
<rect x="623" y="417.2" width="306.7" height="247" fill="none" stroke="#111" stroke-width="1.6"/>
<line x1="623" y1="436.0" x2="618.5" y2="436.0" stroke="#111" stroke-width="1.2"/>
<text x="615.5" y="439.8" font-size="10.5" text-anchor="end">1.0</text>
<line x1="623" y1="455.1" x2="620" y2="455.1" stroke="#111" stroke-width="1"/>
<line x1="623" y1="474.1" x2="618.5" y2="474.1" stroke="#111" stroke-width="1.2"/>
<text x="615.5" y="477.9" font-size="10.5" text-anchor="end">0.5</text>
<line x1="623" y1="493.2" x2="620" y2="493.2" stroke="#111" stroke-width="1"/>
<line x1="623" y1="512.2" x2="618.5" y2="512.2" stroke="#111" stroke-width="1.2"/>
<text x="615.5" y="516.0" font-size="10.5" text-anchor="end">0.0</text>
<line x1="623" y1="531.2" x2="620" y2="531.2" stroke="#111" stroke-width="1"/>
<line x1="623" y1="550.3" x2="618.5" y2="550.3" stroke="#111" stroke-width="1.2"/>
<text x="615.5" y="554.1" font-size="10.5" text-anchor="end">-0.5</text>
<line x1="623" y1="569.4" x2="620" y2="569.4" stroke="#111" stroke-width="1"/>
<line x1="623" y1="588.4" x2="618.5" y2="588.4" stroke="#111" stroke-width="1.2"/>
<text x="615.5" y="592.2" font-size="10.5" text-anchor="end">-1.0</text>
<line x1="623" y1="607.5" x2="620" y2="607.5" stroke="#111" stroke-width="1"/>
<line x1="623" y1="626.5" x2="618.5" y2="626.5" stroke="#111" stroke-width="1.2"/>
<text x="615.5" y="630.3" font-size="10.5" text-anchor="end">-1.5</text>
<line x1="623" y1="645.6" x2="620" y2="645.6" stroke="#111" stroke-width="1"/>
<line x1="623" y1="664.6" x2="618.5" y2="664.6" stroke="#111" stroke-width="1.2"/>
<text x="615.5" y="668.4" font-size="10.5" text-anchor="end">-2.0</text>
<line x1="623.4" y1="664.3" x2="623.4" y2="669" stroke="#111" stroke-width="1.2"/>
<text x="623.4" y="681" font-size="10.5" text-anchor="middle">0</text>
<line x1="646.6" y1="664.3" x2="646.6" y2="667" stroke="#111" stroke-width="1"/>
<line x1="669.8" y1="664.3" x2="669.8" y2="669" stroke="#111" stroke-width="1.2"/>
<text x="669.8" y="681" font-size="10.5" text-anchor="middle">50</text>
<line x1="693.0" y1="664.3" x2="693.0" y2="667" stroke="#111" stroke-width="1"/>
<line x1="716.2" y1="664.3" x2="716.2" y2="669" stroke="#111" stroke-width="1.2"/>
<text x="716.2" y="681" font-size="10.5" text-anchor="middle">100</text>
<line x1="739.4" y1="664.3" x2="739.4" y2="667" stroke="#111" stroke-width="1"/>
<line x1="762.6" y1="664.3" x2="762.6" y2="669" stroke="#111" stroke-width="1.2"/>
<text x="762.6" y="681" font-size="10.5" text-anchor="middle">150</text>
<line x1="785.8" y1="664.3" x2="785.8" y2="667" stroke="#111" stroke-width="1"/>
<line x1="809.0" y1="664.3" x2="809.0" y2="669" stroke="#111" stroke-width="1.2"/>
<text x="809.0" y="681" font-size="10.5" text-anchor="middle">200</text>
<line x1="832.2" y1="664.3" x2="832.2" y2="667" stroke="#111" stroke-width="1"/>
<line x1="855.4" y1="664.3" x2="855.4" y2="669" stroke="#111" stroke-width="1.2"/>
<text x="855.4" y="681" font-size="10.5" text-anchor="middle">250</text>
<line x1="878.6" y1="664.3" x2="878.6" y2="667" stroke="#111" stroke-width="1"/>
<line x1="901.8" y1="664.3" x2="901.8" y2="669" stroke="#111" stroke-width="1.2"/>
<text x="901.8" y="681" font-size="10.5" text-anchor="middle">300</text>
<line x1="925.0" y1="664.3" x2="925.0" y2="667" stroke="#111" stroke-width="1"/>
<text x="776.5" y="701" font-size="13" font-weight="bold" text-anchor="middle">Residue Number</text>
<text transform="translate(594,541) rotate(-90)" font-size="13" font-weight="bold" text-anchor="middle">Interaction Energy (kcal/mol)</text>
<text x="626" y="438" font-size="13.3">&#916;G<tspan font-size="8.8" dy="3.5">bind</tspan><tspan dy="-3.5">=-15.94 kcal/mol</tspan></text>
<polyline points="624.3,512.3 625.3,512.1 626.2,511.4 627.1,512.3 628.0,512.2 629.0,512.0 629.9,512.8 630.8,512.2 631.8,512.0 632.7,511.7 633.6,512.9 634.5,512.6 635.5,512.9 636.4,511.6 637.3,511.8 638.2,513.0 639.2,511.3 640.1,511.4 641.0,511.9 642.0,512.0 642.9,512.8 643.8,513.1 644.7,512.1 645.7,513.0 646.6,512.8 647.5,512.7 648.5,513.1 649.4,512.3 650.3,512.3 651.2,511.6 652.2,512.2 653.1,511.9 654.0,512.2 655.0,511.9 655.9,512.3 656.8,512.6 657.7,511.3 658.7,511.3 659.6,511.6 660.5,511.8 661.4,512.5 662.4,512.7 663.3,512.6 664.2,513.0 665.2,511.7 666.1,512.4 667.0,511.6 667.9,512.4 668.9,511.4 669.8,511.6 670.7,513.1 671.7,512.7 672.6,511.4 673.5,512.3 674.4,511.3 675.4,512.4 676.3,513.0 677.2,512.0 678.2,511.7 679.1,509.2 680.0,516.0 680.9,494.7 681.9,612.8 682.8,518.3 683.7,515.2 684.6,510.7 685.6,512.9 686.5,513.0 687.4,511.7 688.4,512.8 689.3,512.1 690.2,512.3 691.1,512.8 692.1,511.8 693.0,512.9 693.9,508.4 694.9,509.9 695.8,508.4 696.7,458.1 697.6,509.9 698.6,514.5 699.5,510.7 700.4,512.6 701.4,511.5 702.3,512.7 703.2,512.4 704.1,511.6 705.1,511.9 706.0,512.9 706.9,511.3 707.8,512.7 708.8,512.6 709.7,511.7 710.6,512.5 711.6,512.6 712.5,513.0 713.4,512.9 714.3,512.0 715.3,512.7 716.2,512.0 717.1,512.4 718.1,512.3 719.0,511.4 719.9,512.2 720.8,512.1 721.8,511.5 722.7,512.8 723.6,512.8 724.6,511.5 725.5,511.6 726.4,512.7 727.3,512.8 728.3,511.8 729.2,509.9 730.1,516.0 731.0,556.4 732.0,497.0 732.9,508.4 733.8,513.7 734.8,512.9 735.7,513.0 736.6,511.4 737.5,512.7 738.5,511.8 739.4,512.6 740.3,511.6 741.3,512.0 742.2,512.6 743.1,512.8 744.0,511.8 745.0,513.0 745.9,512.7 746.8,512.1 747.8,511.6 748.7,512.0 749.6,512.6 750.5,511.4 751.5,512.7 752.4,513.1 753.3,516.0 754.2,509.9 755.2,516.8 756.1,510.7 757.0,512.4 758.0,516.0 758.9,510.7 759.8,493.9 760.7,557.9 761.7,516.0 762.6,511.9 763.5,511.9 764.5,512.0 765.4,512.9 766.3,513.1 767.2,513.1 768.2,511.4 769.1,511.8 770.0,511.4 771.0,513.1 771.9,512.0 772.8,512.2 773.7,511.8 774.7,512.5 775.6,511.3 776.5,513.0 777.4,512.1 778.4,511.8 779.3,510.7 780.2,503.1 781.2,511.4 782.1,511.7 783.0,511.4 783.9,512.5 784.9,511.9 785.8,511.5 786.7,511.5 787.7,512.4 788.6,508.4 789.5,516.0 790.4,567.1 791.4,508.4 792.3,516.8 793.2,511.4 794.2,562.5 795.1,509.9 796.0,516.0 796.9,511.3 797.9,511.5 798.8,511.8 799.7,512.4 800.6,511.8 801.6,512.1 802.5,512.3 803.4,511.6 804.4,513.0 805.3,511.7 806.2,513.1 807.1,512.0 808.1,512.2 809.0,512.7 809.9,511.8 810.9,512.2 811.8,512.0 812.7,511.4 813.6,512.6 814.6,513.1 815.5,512.6 816.4,511.9 817.4,512.7 818.3,512.8 819.2,511.5 820.1,510.7 821.1,516.0 822.0,529.0 822.9,499.2 823.8,568.6 824.8,513.7 825.7,513.0 826.6,511.6 827.6,511.4 828.5,511.5 829.4,512.4 830.3,512.0 831.3,512.5 832.2,512.9 833.1,512.2 834.1,511.6 835.0,511.6 835.9,511.8 836.8,511.4 837.8,512.6 838.7,512.8 839.6,512.3 840.6,509.9 841.5,508.4 842.4,506.1 843.3,495.4 844.3,494.7 845.2,509.9 846.1,516.0 847.0,514.5 848.0,512.3 848.9,513.0 849.8,513.1 850.8,511.5 851.7,513.0 852.6,511.8 853.5,512.1 854.5,512.5 855.4,511.7 856.3,513.1 857.3,512.9 858.2,512.3 859.1,513.1 860.0,511.6 861.0,512.7 861.9,512.9 862.8,513.0 863.8,512.0 864.7,512.3 865.6,512.0 866.5,511.9 867.5,511.6 868.4,511.4 869.3,511.9 870.2,512.7 871.2,512.2 872.1,512.8 873.0,513.1 874.0,512.3 874.9,513.7 875.8,509.9 876.7,499.2 877.7,641.7 878.6,527.4 879.5,596.8 880.5,510.7 881.4,516.8 882.3,509.9 883.2,511.7 884.2,511.5 885.1,513.0 886.0,511.4 887.0,511.8 887.9,512.9 888.8,512.3 889.7,512.0 890.7,511.5 891.6,512.4 892.5,512.1 893.4,511.5 894.4,511.7 895.3,511.4 896.2,512.3 897.2,511.9 898.1,512.7 899.0,511.8 899.9,511.6 900.9,511.9 901.8,511.8 902.7,512.7 903.7,511.5 904.6,511.3 905.5,511.3 906.4,512.1 907.4,511.7 908.3,512.5 909.2,511.5 910.2,511.5 911.1,512.5 912.0,513.0 912.9,512.3 913.9,512.1 914.8,511.7 915.7,512.2 916.6,513.1 917.6,511.6 918.5,513.0 919.4,511.7 920.4,512.8 921.3,512.5 922.2,511.7 923.1,512.9 924.1,512.8 925.0,512.2" fill="none" stroke="#111" stroke-width="1" stroke-linejoin="miter"/>
<circle cx="681.2" cy="491.9" r="2.1" fill="#e05050"/>
<circle cx="696.0" cy="456.9" r="2.1" fill="#e05050"/>
<circle cx="760.6" cy="493.4" r="2.1" fill="#e05050"/>
<circle cx="780.3" cy="499.7" r="2.1" fill="#e05050"/>
<circle cx="822.5" cy="498.0" r="2.1" fill="#e05050"/>
<circle cx="844.4" cy="490.3" r="2.1" fill="#e05050"/>
<circle cx="876.9" cy="498.1" r="2.1" fill="#e05050"/>
<line x1="731.6" y1="476" x2="731.6" y2="489" stroke="#f09090" stroke-width="0.7"/>
<polygon points="729,488 734.2,488 731.6,495" fill="#d03030"/>
<text x="681.0" y="486.6" font-size="9.6" text-anchor="middle">V62</text>
<text x="696.0" y="451.6" font-size="9.6" text-anchor="middle">R79</text>
<text x="759.7" y="488.0" font-size="9.6" text-anchor="middle">V147</text>
<text x="781.6" y="494.4" font-size="9.6" text-anchor="middle">R169</text>
<text x="823.8" y="494.4" font-size="9.6" text-anchor="middle">S215</text>
<text x="845.6" y="485.0" font-size="9.6" text-anchor="middle">V238</text>
<text x="877.2" y="492.8" font-size="9.6" text-anchor="middle">C273</text>
<text x="702.8" y="470.9" font-size="9.6">V116,E117,L118</text>
<defs>
<radialGradient id="gY" cx="0.66" cy="0.28" r="0.8"><stop offset="0" stop-color="#fee49e"/><stop offset="0.5" stop-color="#fddfab"/><stop offset="1" stop-color="#fad8b2"/></radialGradient>
</defs>
<ellipse cx="609.5" cy="845" rx="188.5" ry="107.5" fill="#dde7f3" stroke="#4a5560" stroke-width="1"/>
<ellipse cx="381.5" cy="845" rx="206.5" ry="107.5" fill="url(#gY)" stroke="#d9925a" stroke-width="1" fill-opacity="0.95"/>
<clipPath id="clipL"><ellipse cx="381.5" cy="845" rx="206.5" ry="107.5"/></clipPath>
<ellipse cx="609.5" cy="845" rx="188.5" ry="107.5" fill="#dedbc8" stroke="#555a55" stroke-width="1" clip-path="url(#clipL)"/>
<path d="M 0 0" />
<text x="236" y="753" font-size="26">E</text>
<text x="297" y="780.0" font-size="21.5" font-weight="bold" fill="#22a045">Y60</text>
<text x="297" y="805.6" font-size="21.5" font-weight="bold" fill="#22a045">R79</text>
<text x="297" y="831.2" font-size="21.5" font-weight="bold" fill="#22a045">K180</text>
<text x="297" y="856.8" font-size="21.5" font-weight="bold" fill="#22a045">W184</text>
<text x="297" y="882.4" font-size="21.5" font-weight="bold" fill="#22a045">G216</text>
<text x="297" y="908.0" font-size="21.5" font-weight="bold" fill="#22a045">T274</text>
<text x="366" y="783.0" font-size="21.5" font-weight="bold" fill="#e0883c">D61</text>
<text x="366" y="808.6" font-size="21.5" font-weight="bold" fill="#e0883c">V149</text>
<text x="366" y="834.2" font-size="21.5" font-weight="bold" fill="#e0883c">G214</text>
<text x="366" y="859.8" font-size="21.5" font-weight="bold" fill="#e0883c">F217</text>
<text x="366" y="885.4" font-size="21.5" font-weight="bold" fill="#e0883c">R240</text>
<text x="476" y="801.0" font-size="21.5" font-weight="bold" fill="#e01a1e">L118</text>
<text x="476" y="826.4" font-size="21.5" font-weight="bold" fill="#e01a1e">E117</text>
<text x="476" y="851.8" font-size="21.5" font-weight="bold" fill="#e01a1e">V116</text>
<text x="476" y="877.2" font-size="21.5" font-weight="bold" fill="#e01a1e">V147</text>
<text x="476" y="902.6" font-size="21.5" font-weight="bold" fill="#e01a1e">V62</text>
<text x="620" y="793.0" font-size="21.5" font-weight="bold" fill="#4a78c0">R79</text>
<text x="620" y="818.6" font-size="21.5" font-weight="bold" fill="#4a78c0">R169</text>
<text x="620" y="844.2" font-size="21.5" font-weight="bold" fill="#4a78c0">S215</text>
<text x="620" y="869.8" font-size="21.5" font-weight="bold" fill="#4a78c0">V238</text>
<text x="620" y="895.4" font-size="21.5" font-weight="bold" fill="#4a78c0">C273</text>
<text x="277" y="937" font-size="19.5" font-style="italic" fill="#111" stroke="#111" stroke-width="0.35" textLength="195" lengthAdjust="spacingAndGlyphs">Discovery Studio 2019</text>
<text x="601.5" y="937" font-size="19.5" font-style="italic" fill="#111" stroke="#111" stroke-width="0.35" textLength="84" lengthAdjust="spacingAndGlyphs">Amber 18</text>
<rect x="111.5" y="966.5" width="772.0" height="230.0" fill="#ffffff" stroke="#111" stroke-width="2.2"/>
<rect x="114.0" y="969.0" width="34.6" height="41.5" fill="#139990"/>
<text x="130.8" y="993.5" font-size="11.2" fill="#eef6f4" text-anchor="middle">0.035</text>
<rect x="152.6" y="969.0" width="34.6" height="41.5" fill="#13968d"/>
<text x="169.4" y="993.5" font-size="11.2" fill="#eef6f4" text-anchor="middle">-0.011</text>
<rect x="191.2" y="969.0" width="34.6" height="41.5" fill="#13968d"/>
<text x="208.0" y="993.5" font-size="11.2" fill="#eef6f4" text-anchor="middle">-0.007</text>
<rect x="229.8" y="969.0" width="34.6" height="41.5" fill="#13978e"/>
<text x="246.6" y="993.5" font-size="11.2" fill="#eef6f4" text-anchor="middle">0.003</text>
<rect x="268.4" y="969.0" width="34.6" height="41.5" fill="#13988f"/>
<text x="285.2" y="993.5" font-size="11.2" fill="#eef6f4" text-anchor="middle">0.016</text>
<rect x="307.0" y="969.0" width="34.6" height="41.5" fill="#13988f"/>
<text x="323.8" y="993.5" font-size="11.2" fill="#eef6f4" text-anchor="middle">0.019</text>
<rect x="345.6" y="969.0" width="34.6" height="41.5" fill="#13988f"/>
<text x="362.4" y="993.5" font-size="11.2" fill="#eef6f4" text-anchor="middle">0.019</text>
<rect x="384.2" y="969.0" width="34.6" height="41.5" fill="#13968d"/>
<text x="401.0" y="993.5" font-size="11.2" fill="#eef6f4" text-anchor="middle">-0.019</text>
<polygon points="402.5,993.5 404.9,999.3 411.1,999.7 406.3,1003.7 407.8,1009.8 402.5,1006.5 397.2,1009.8 398.7,1003.7 393.9,999.7 400.1,999.3" fill="none" stroke="#d6e07a" stroke-width="1.1"/>
<rect x="422.8" y="969.0" width="34.6" height="41.5" fill="#13968d"/>
<text x="439.6" y="993.5" font-size="11.2" fill="#eef6f4" text-anchor="middle">-0.012</text>
<rect x="461.4" y="969.0" width="34.6" height="41.5" fill="#13978e"/>
<text x="478.2" y="993.5" font-size="11.2" fill="#eef6f4" text-anchor="middle">0</text>
<rect x="500.0" y="969.0" width="34.6" height="41.5" fill="#13968d"/>
<text x="516.8" y="993.5" font-size="11.2" fill="#eef6f4" text-anchor="middle">-0.007</text>
<rect x="538.6" y="969.0" width="34.6" height="41.5" fill="#13978e"/>
<text x="555.4" y="993.5" font-size="11.2" fill="#eef6f4" text-anchor="middle">0</text>
<rect x="577.2" y="969.0" width="34.6" height="41.5" fill="#13978e"/>
<text x="594.0" y="993.5" font-size="11.2" fill="#eef6f4" text-anchor="middle">-0.006</text>
<rect x="615.8" y="969.0" width="34.6" height="41.5" fill="#13978e"/>
<text x="632.6" y="993.5" font-size="11.2" fill="#eef6f4" text-anchor="middle">-0.006</text>
<rect x="654.4" y="969.0" width="34.6" height="41.5" fill="#13968d"/>
<text x="671.2" y="993.5" font-size="11.2" fill="#eef6f4" text-anchor="middle">-0.012</text>
<rect x="693.0" y="969.0" width="34.6" height="41.5" fill="#13978e"/>
<text x="709.8" y="993.5" font-size="11.2" fill="#eef6f4" text-anchor="middle">-0.004</text>
<rect x="731.6" y="969.0" width="34.6" height="41.5" fill="#13958c"/>
<text x="748.4" y="993.5" font-size="11.2" fill="#eef6f4" text-anchor="middle">-0.021</text>
<polygon points="749.9,993.5 752.3,999.3 758.5,999.7 753.7,1003.7 755.2,1009.8 749.9,1006.5 744.6,1009.8 746.1,1003.7 741.3,999.7 747.5,999.3" fill="none" stroke="#d6e07a" stroke-width="1.1"/>
<rect x="770.2" y="969.0" width="34.6" height="41.5" fill="#13968d"/>
<text x="787.0" y="993.5" font-size="11.2" fill="#eef6f4" text-anchor="middle">-0.019</text>
<polygon points="788.5,993.5 790.9,999.3 797.1,999.7 792.3,1003.7 793.8,1009.8 788.5,1006.5 783.2,1009.8 784.7,1003.7 779.9,999.7 786.1,999.3" fill="none" stroke="#d6e07a" stroke-width="1.1"/>
<rect x="808.8" y="969.0" width="34.6" height="41.5" fill="#13968d"/>
<text x="825.6" y="993.5" font-size="11.2" fill="#eef6f4" text-anchor="middle">-0.012</text>
<rect x="847.4" y="969.0" width="34.6" height="41.5" fill="#13968d"/>
<text x="864.2" y="993.5" font-size="11.2" fill="#eef6f4" text-anchor="middle">-0.008</text>
<rect x="114.0" y="1015.0" width="34.6" height="41.5" fill="#12887f"/>
<text x="130.8" y="1039.5" font-size="11.2" fill="#eef6f4" text-anchor="middle">-0.203</text>
<rect x="152.6" y="1015.0" width="34.6" height="41.5" fill="#12877e"/>
<text x="169.4" y="1039.5" font-size="11.2" fill="#eef6f4" text-anchor="middle">-0.209</text>
<rect x="191.2" y="1015.0" width="34.6" height="41.5" fill="#0f746c"/>
<text x="208.0" y="1039.5" font-size="11.2" fill="#eef6f4" text-anchor="middle">-0.414</text>
<polygon points="209.5,1039.5 211.9,1045.3 218.1,1045.7 213.3,1049.7 214.8,1055.8 209.5,1052.5 204.2,1055.8 205.7,1049.7 200.9,1045.7 207.1,1045.3" fill="none" stroke="#d6e07a" stroke-width="1.1"/>
<rect x="229.8" y="1015.0" width="34.6" height="41.5" fill="#13978e"/>
<text x="246.6" y="1039.5" font-size="11.2" fill="#eef6f4" text-anchor="middle">0</text>
<rect x="268.4" y="1015.0" width="34.6" height="41.5" fill="#1ab2a8"/>
<text x="285.2" y="1039.5" font-size="11.2" fill="#111111" text-anchor="middle">0.351</text>
<rect x="307.0" y="1015.0" width="34.6" height="41.5" fill="#128e85"/>
<text x="323.8" y="1039.5" font-size="11.2" fill="#eef6f4" text-anchor="middle">-0.121</text>
<rect x="345.6" y="1015.0" width="34.6" height="41.5" fill="#128a81"/>
<text x="362.4" y="1039.5" font-size="11.2" fill="#eef6f4" text-anchor="middle">-0.181</text>
<rect x="384.2" y="1015.0" width="34.6" height="41.5" fill="#0f776f"/>
<text x="401.0" y="1039.5" font-size="11.2" fill="#eef6f4" text-anchor="middle">-0.385</text>
<polygon points="402.5,1039.5 404.9,1045.3 411.1,1045.7 406.3,1049.7 407.8,1055.8 402.5,1052.5 397.2,1055.8 398.7,1049.7 393.9,1045.7 400.1,1045.3" fill="none" stroke="#d6e07a" stroke-width="1.1"/>
<rect x="422.8" y="1015.0" width="34.6" height="41.5" fill="#44c3b7"/>
<text x="439.6" y="1039.5" font-size="11.2" fill="#111111" text-anchor="middle">0.697</text>
<rect x="461.4" y="1015.0" width="34.6" height="41.5" fill="#11867d"/>
<text x="478.2" y="1039.5" font-size="11.2" fill="#eef6f4" text-anchor="middle">-0.228</text>
<rect x="500.0" y="1015.0" width="34.6" height="41.5" fill="#11857c"/>
<text x="516.8" y="1039.5" font-size="11.2" fill="#eef6f4" text-anchor="middle">-0.242</text>
<rect x="538.6" y="1015.0" width="34.6" height="41.5" fill="#128a81"/>
<text x="555.4" y="1039.5" font-size="11.2" fill="#eef6f4" text-anchor="middle">-0.179</text>
<rect x="577.2" y="1015.0" width="34.6" height="41.5" fill="#129188"/>
<text x="594.0" y="1039.5" font-size="11.2" fill="#eef6f4" text-anchor="middle">-0.078</text>
<rect x="615.8" y="1015.0" width="34.6" height="41.5" fill="#128f86"/>
<text x="632.6" y="1039.5" font-size="11.2" fill="#eef6f4" text-anchor="middle">-0.113</text>
<rect x="654.4" y="1015.0" width="34.6" height="41.5" fill="#24b9ad"/>
<text x="671.2" y="1039.5" font-size="11.2" fill="#111111" text-anchor="middle">0.535</text>
<rect x="693.0" y="1015.0" width="34.6" height="41.5" fill="#118279"/>
<text x="709.8" y="1039.5" font-size="11.2" fill="#eef6f4" text-anchor="middle">-0.272</text>
<rect x="731.6" y="1015.0" width="34.6" height="41.5" fill="#11867d"/>
<text x="748.4" y="1039.5" font-size="11.2" fill="#eef6f4" text-anchor="middle">-0.229</text>
<rect x="770.2" y="1015.0" width="34.6" height="41.5" fill="#12887f"/>
<text x="787.0" y="1039.5" font-size="11.2" fill="#eef6f4" text-anchor="middle">-0.201</text>
<rect x="808.8" y="1015.0" width="34.6" height="41.5" fill="#0f7870"/>
<text x="825.6" y="1039.5" font-size="11.2" fill="#eef6f4" text-anchor="middle">-0.377</text>
<polygon points="827.1,1039.5 829.5,1045.3 835.7,1045.7 830.9,1049.7 832.4,1055.8 827.1,1052.5 821.8,1055.8 823.3,1049.7 818.5,1045.7 824.7,1045.3" fill="none" stroke="#d6e07a" stroke-width="1.1"/>
<rect x="847.4" y="1015.0" width="34.6" height="41.5" fill="#f8ebd8"/>
<text x="864.2" y="1039.5" font-size="11.2" fill="#111111" text-anchor="middle">1.469</text>
<rect x="114.0" y="1061.0" width="34.6" height="41.5" fill="#13978e"/>
<text x="130.8" y="1085.5" font-size="11.2" fill="#eef6f4" text-anchor="middle">0</text>
<rect x="152.6" y="1061.0" width="34.6" height="41.5" fill="#13978e"/>
<text x="169.4" y="1085.5" font-size="11.2" fill="#eef6f4" text-anchor="middle">0</text>
<rect x="191.2" y="1061.0" width="34.6" height="41.5" fill="#13978e"/>
<text x="208.0" y="1085.5" font-size="11.2" fill="#eef6f4" text-anchor="middle">0</text>
<rect x="229.8" y="1061.0" width="34.6" height="41.5" fill="#13988f"/>
<text x="246.6" y="1085.5" font-size="11.2" fill="#eef6f4" text-anchor="middle">0.014</text>
<rect x="268.4" y="1061.0" width="34.6" height="41.5" fill="#13978e"/>
<text x="285.2" y="1085.5" font-size="11.2" fill="#eef6f4" text-anchor="middle">0</text>
<rect x="307.0" y="1061.0" width="34.6" height="41.5" fill="#13978e"/>
<text x="323.8" y="1085.5" font-size="11.2" fill="#eef6f4" text-anchor="middle">0</text>
<rect x="345.6" y="1061.0" width="34.6" height="41.5" fill="#13978e"/>
<text x="362.4" y="1085.5" font-size="11.2" fill="#eef6f4" text-anchor="middle">0</text>
<rect x="384.2" y="1061.0" width="34.6" height="41.5" fill="#13978e"/>
<text x="401.0" y="1085.5" font-size="11.2" fill="#eef6f4" text-anchor="middle">0</text>
<rect x="422.8" y="1061.0" width="34.6" height="41.5" fill="#13978e"/>
<text x="439.6" y="1085.5" font-size="11.2" fill="#eef6f4" text-anchor="middle">-0.006</text>
<rect x="461.4" y="1061.0" width="34.6" height="41.5" fill="#13978e"/>
<text x="478.2" y="1085.5" font-size="11.2" fill="#eef6f4" text-anchor="middle">0</text>
<rect x="500.0" y="1061.0" width="34.6" height="41.5" fill="#139a91"/>
<text x="516.8" y="1085.5" font-size="11.2" fill="#eef6f4" text-anchor="middle">0.037</text>
<rect x="538.6" y="1061.0" width="34.6" height="41.5" fill="#13978e"/>
<text x="555.4" y="1085.5" font-size="11.2" fill="#eef6f4" text-anchor="middle">0</text>
<rect x="577.2" y="1061.0" width="34.6" height="41.5" fill="#13978e"/>
<text x="594.0" y="1085.5" font-size="11.2" fill="#eef6f4" text-anchor="middle">0</text>
<rect x="615.8" y="1061.0" width="34.6" height="41.5" fill="#13988f"/>
<text x="632.6" y="1085.5" font-size="11.2" fill="#eef6f4" text-anchor="middle">0.009</text>
<rect x="654.4" y="1061.0" width="34.6" height="41.5" fill="#13968d"/>
<text x="671.2" y="1085.5" font-size="11.2" fill="#eef6f4" text-anchor="middle">-0.011</text>
<polygon points="672.7,1085.5 675.1,1091.3 681.3,1091.7 676.5,1095.7 678.0,1101.8 672.7,1098.5 667.4,1101.8 668.9,1095.7 664.1,1091.7 670.3,1091.3" fill="none" stroke="#d6e07a" stroke-width="1.1"/>
<rect x="693.0" y="1061.0" width="34.6" height="41.5" fill="#13968d"/>
<text x="709.8" y="1085.5" font-size="11.2" fill="#eef6f4" text-anchor="middle">-0.011</text>
<polygon points="711.3,1085.5 713.7,1091.3 719.9,1091.7 715.1,1095.7 716.6,1101.8 711.3,1098.5 706.0,1101.8 707.5,1095.7 702.7,1091.7 708.9,1091.3" fill="none" stroke="#d6e07a" stroke-width="1.1"/>
<rect x="731.6" y="1061.0" width="34.6" height="41.5" fill="#13978e"/>
<text x="748.4" y="1085.5" font-size="11.2" fill="#eef6f4" text-anchor="middle">0</text>
<rect x="770.2" y="1061.0" width="34.6" height="41.5" fill="#13978e"/>
<text x="787.0" y="1085.5" font-size="11.2" fill="#eef6f4" text-anchor="middle">0</text>
<rect x="808.8" y="1061.0" width="34.6" height="41.5" fill="#139d94"/>
<text x="825.6" y="1085.5" font-size="11.2" fill="#eef6f4" text-anchor="middle">0.089</text>
<rect x="847.4" y="1061.0" width="34.6" height="41.5" fill="#139a91"/>
<text x="864.2" y="1085.5" font-size="11.2" fill="#eef6f4" text-anchor="middle">0.043</text>
<rect x="114.0" y="1107.0" width="34.6" height="41.5" fill="#13988f"/>
<text x="130.8" y="1131.5" font-size="11.2" fill="#eef6f4" text-anchor="middle">0.011</text>
<rect x="152.6" y="1107.0" width="34.6" height="41.5" fill="#13968d"/>
<text x="169.4" y="1131.5" font-size="11.2" fill="#eef6f4" text-anchor="middle">-0.01</text>
<rect x="191.2" y="1107.0" width="34.6" height="41.5" fill="#0b635e"/>
<text x="208.0" y="1131.5" font-size="11.2" fill="#eef6f4" text-anchor="middle">-0.622</text>
<polygon points="209.5,1131.5 211.9,1137.3 218.1,1137.7 213.3,1141.7 214.8,1147.8 209.5,1144.5 204.2,1147.8 205.7,1141.7 200.9,1137.7 207.1,1137.3" fill="none" stroke="#d6e07a" stroke-width="1.1"/>
<rect x="229.8" y="1107.0" width="34.6" height="41.5" fill="#118178"/>
<text x="246.6" y="1131.5" font-size="11.2" fill="#eef6f4" text-anchor="middle">-0.289</text>
<rect x="268.4" y="1107.0" width="34.6" height="41.5" fill="#0b635e"/>
<text x="285.2" y="1131.5" font-size="11.2" fill="#eef6f4" text-anchor="middle">-0.625</text>
<polygon points="286.7,1131.5 289.1,1137.3 295.3,1137.7 290.5,1141.7 292.0,1147.8 286.7,1144.5 281.4,1147.8 282.9,1141.7 278.1,1137.7 284.3,1137.3" fill="none" stroke="#d6e07a" stroke-width="1.1"/>
<rect x="307.0" y="1107.0" width="34.6" height="41.5" fill="#14a59c"/>
<text x="323.8" y="1131.5" font-size="11.2" fill="#eef6f4" text-anchor="middle">0.205</text>
<rect x="345.6" y="1107.0" width="34.6" height="41.5" fill="#14a299"/>
<text x="362.4" y="1131.5" font-size="11.2" fill="#eef6f4" text-anchor="middle">0.163</text>
<rect x="384.2" y="1107.0" width="34.6" height="41.5" fill="#139d94"/>
<text x="401.0" y="1131.5" font-size="11.2" fill="#eef6f4" text-anchor="middle">0.079</text>
<rect x="422.8" y="1107.0" width="34.6" height="41.5" fill="#13988f"/>
<text x="439.6" y="1131.5" font-size="11.2" fill="#eef6f4" text-anchor="middle">0.011</text>
<rect x="461.4" y="1107.0" width="34.6" height="41.5" fill="#13988f"/>
<text x="478.2" y="1131.5" font-size="11.2" fill="#eef6f4" text-anchor="middle">0.016</text>
<rect x="500.0" y="1107.0" width="34.6" height="41.5" fill="#139d94"/>
<text x="516.8" y="1131.5" font-size="11.2" fill="#eef6f4" text-anchor="middle">0.086</text>
<rect x="538.6" y="1107.0" width="34.6" height="41.5" fill="#139d94"/>
<text x="555.4" y="1131.5" font-size="11.2" fill="#eef6f4" text-anchor="middle">0.092</text>
<rect x="577.2" y="1107.0" width="34.6" height="41.5" fill="#13988f"/>
<text x="594.0" y="1131.5" font-size="11.2" fill="#eef6f4" text-anchor="middle">0.015</text>
<rect x="615.8" y="1107.0" width="34.6" height="41.5" fill="#13978e"/>
<text x="632.6" y="1131.5" font-size="11.2" fill="#eef6f4" text-anchor="middle">0</text>
<rect x="654.4" y="1107.0" width="34.6" height="41.5" fill="#14a097"/>
<text x="671.2" y="1131.5" font-size="11.2" fill="#eef6f4" text-anchor="middle">0.128</text>
<rect x="693.0" y="1107.0" width="34.6" height="41.5" fill="#13958c"/>
<text x="709.8" y="1131.5" font-size="11.2" fill="#eef6f4" text-anchor="middle">-0.034</text>
<rect x="731.6" y="1107.0" width="34.6" height="41.5" fill="#139b92"/>
<text x="748.4" y="1131.5" font-size="11.2" fill="#eef6f4" text-anchor="middle">0.056</text>
<rect x="770.2" y="1107.0" width="34.6" height="41.5" fill="#13978e"/>
<text x="787.0" y="1131.5" font-size="11.2" fill="#eef6f4" text-anchor="middle">0</text>
<rect x="808.8" y="1107.0" width="34.6" height="41.5" fill="#15a79e"/>
<text x="825.6" y="1131.5" font-size="11.2" fill="#eef6f4" text-anchor="middle">0.223</text>
<rect x="847.4" y="1107.0" width="34.6" height="41.5" fill="#14a097"/>
<text x="864.2" y="1131.5" font-size="11.2" fill="#eef6f4" text-anchor="middle">0.133</text>
<rect x="114.0" y="1153.0" width="34.6" height="41.5" fill="#128a81"/>
<text x="130.8" y="1177.5" font-size="11.2" fill="#eef6f4" text-anchor="middle">-0.171</text>
<polygon points="132.3,1177.5 134.7,1183.3 140.9,1183.7 136.1,1187.7 137.6,1193.8 132.3,1190.5 127.0,1193.8 128.5,1187.7 123.7,1183.7 129.9,1183.3" fill="none" stroke="#d6e07a" stroke-width="1.1"/>
<rect x="152.6" y="1153.0" width="34.6" height="41.5" fill="#13968d"/>
<text x="169.4" y="1177.5" font-size="11.2" fill="#eef6f4" text-anchor="middle">-0.013</text>
<rect x="191.2" y="1153.0" width="34.6" height="41.5" fill="#14a097"/>
<text x="208.0" y="1177.5" font-size="11.2" fill="#eef6f4" text-anchor="middle">0.123</text>
<rect x="229.8" y="1153.0" width="34.6" height="41.5" fill="#128f86"/>
<text x="246.6" y="1177.5" font-size="11.2" fill="#eef6f4" text-anchor="middle">-0.105</text>
<rect x="268.4" y="1153.0" width="34.6" height="41.5" fill="#abe2d7"/>
<text x="285.2" y="1177.5" font-size="11.2" fill="#111111" text-anchor="middle">1.078</text>
<rect x="307.0" y="1153.0" width="34.6" height="41.5" fill="#13978e"/>
<text x="323.8" y="1177.5" font-size="11.2" fill="#eef6f4" text-anchor="middle">-0.005</text>
<rect x="345.6" y="1153.0" width="34.6" height="41.5" fill="#f58721"/>
<text x="362.4" y="1177.5" font-size="11.2" fill="#111111" text-anchor="middle">2.538</text>
<rect x="384.2" y="1153.0" width="34.6" height="41.5" fill="#139c93"/>
<text x="401.0" y="1177.5" font-size="11.2" fill="#eef6f4" text-anchor="middle">0.069</text>
<rect x="422.8" y="1153.0" width="34.6" height="41.5" fill="#139d94"/>
<text x="439.6" y="1177.5" font-size="11.2" fill="#eef6f4" text-anchor="middle">0.079</text>
<rect x="461.4" y="1153.0" width="34.6" height="41.5" fill="#13958c"/>
<text x="478.2" y="1177.5" font-size="11.2" fill="#eef6f4" text-anchor="middle">-0.028</text>
<rect x="500.0" y="1153.0" width="34.6" height="41.5" fill="#13938a"/>
<text x="516.8" y="1177.5" font-size="11.2" fill="#eef6f4" text-anchor="middle">-0.051</text>
<rect x="538.6" y="1153.0" width="34.6" height="41.5" fill="#139e95"/>
<text x="555.4" y="1177.5" font-size="11.2" fill="#eef6f4" text-anchor="middle">0.093</text>
<rect x="577.2" y="1153.0" width="34.6" height="41.5" fill="#13978e"/>
<text x="594.0" y="1177.5" font-size="11.2" fill="#eef6f4" text-anchor="middle">0.004</text>
<rect x="615.8" y="1153.0" width="34.6" height="41.5" fill="#139b92"/>
<text x="632.6" y="1177.5" font-size="11.2" fill="#eef6f4" text-anchor="middle">0.061</text>
<rect x="654.4" y="1153.0" width="34.6" height="41.5" fill="#13968d"/>
<text x="671.2" y="1177.5" font-size="11.2" fill="#eef6f4" text-anchor="middle">-0.013</text>
<rect x="693.0" y="1153.0" width="34.6" height="41.5" fill="#13988f"/>
<text x="709.8" y="1177.5" font-size="11.2" fill="#eef6f4" text-anchor="middle">0.019</text>
<rect x="731.6" y="1153.0" width="34.6" height="41.5" fill="#13958c"/>
<text x="748.4" y="1177.5" font-size="11.2" fill="#eef6f4" text-anchor="middle">-0.022</text>
<rect x="770.2" y="1153.0" width="34.6" height="41.5" fill="#13978e"/>
<text x="787.0" y="1177.5" font-size="11.2" fill="#eef6f4" text-anchor="middle">0</text>
<rect x="808.8" y="1153.0" width="34.6" height="41.5" fill="#19b1a7"/>
<text x="825.6" y="1177.5" font-size="11.2" fill="#eef6f4" text-anchor="middle">0.332</text>
<rect x="847.4" y="1153.0" width="34.6" height="41.5" fill="#8e4612"/>
<text x="864.2" y="1177.5" font-size="11.2" fill="#eef6f4" text-anchor="middle">3.531</text>
<text x="100" y="998.0" font-size="25" text-anchor="end">L118</text>
<text x="100" y="1044.0" font-size="25" text-anchor="end">E117</text>
<text x="100" y="1090.0" font-size="25" text-anchor="end">V116</text>
<text x="100" y="1136.0" font-size="25" text-anchor="end">V147</text>
<text x="100" y="1182.0" font-size="25" text-anchor="end">V62</text>
<text x="131.8" y="1226.5" font-size="23" text-anchor="middle">A</text>
<text x="170.4" y="1226.5" font-size="23" text-anchor="middle">C</text>
<text x="209.0" y="1226.5" font-size="23" text-anchor="middle">D</text>
<text x="247.6" y="1226.5" font-size="23" text-anchor="middle">E</text>
<text x="286.2" y="1226.5" font-size="23" text-anchor="middle">F</text>
<text x="324.8" y="1226.5" font-size="23" text-anchor="middle">G</text>
<text x="363.4" y="1226.5" font-size="23" text-anchor="middle">H</text>
<text x="402.0" y="1226.5" font-size="23" text-anchor="middle">I</text>
<text x="440.6" y="1226.5" font-size="23" text-anchor="middle">K</text>
<text x="479.2" y="1226.5" font-size="23" text-anchor="middle">L</text>
<text x="517.8" y="1226.5" font-size="23" text-anchor="middle">M</text>
<text x="556.4" y="1226.5" font-size="23" text-anchor="middle">N</text>
<text x="595.0" y="1226.5" font-size="23" text-anchor="middle">P</text>
<text x="633.6" y="1226.5" font-size="23" text-anchor="middle">Q</text>
<text x="672.2" y="1226.5" font-size="23" text-anchor="middle">R</text>
<text x="710.8" y="1226.5" font-size="23" text-anchor="middle">S</text>
<text x="749.4" y="1226.5" font-size="23" text-anchor="middle">T</text>
<text x="788.0" y="1226.5" font-size="23" text-anchor="middle">V</text>
<text x="826.6" y="1226.5" font-size="23" text-anchor="middle">W</text>
<text x="865.2" y="1226.5" font-size="23" text-anchor="middle">Y</text>
<text x="498" y="1272.5" font-size="30" text-anchor="middle">Amino Acid</text>
<text transform="translate(33.5,1081) rotate(-90)" font-size="30" text-anchor="middle">Position</text>
<text x="104" y="956.5" font-size="27">F</text>
<rect x="898.5" y="965.50" width="40" height="6.10" fill="#954911"/>
<rect x="898.5" y="971.20" width="40" height="6.10" fill="#a75110"/>
<rect x="898.5" y="976.90" width="40" height="6.10" fill="#b9580f"/>
<rect x="898.5" y="982.60" width="40" height="6.10" fill="#c9600e"/>
<rect x="898.5" y="988.30" width="40" height="6.10" fill="#d5670e"/>
<rect x="898.5" y="994.00" width="40" height="6.10" fill="#e16e0e"/>
<rect x="898.5" y="999.70" width="40" height="6.10" fill="#e97510"/>
<rect x="898.5" y="1005.40" width="40" height="6.10" fill="#ed7b15"/>
<rect x="898.5" y="1011.10" width="40" height="6.10" fill="#f1801a"/>
<rect x="898.5" y="1016.80" width="40" height="6.10" fill="#f5861f"/>
<rect x="898.5" y="1022.50" width="40" height="6.10" fill="#f69132"/>
<rect x="898.5" y="1028.20" width="40" height="6.10" fill="#f79b45"/>
<rect x="898.5" y="1033.90" width="40" height="6.10" fill="#f9a658"/>
<rect x="898.5" y="1039.60" width="40" height="6.10" fill="#fab26e"/>
<rect x="898.5" y="1045.30" width="40" height="6.10" fill="#fbbf85"/>
<rect x="898.5" y="1051.00" width="40" height="6.10" fill="#fccc9c"/>
<rect x="898.5" y="1056.70" width="40" height="6.10" fill="#fcd6af"/>
<rect x="898.5" y="1062.40" width="40" height="6.10" fill="#fcddbc"/>
<rect x="898.5" y="1068.10" width="40" height="6.10" fill="#fde4c9"/>
<rect x="898.5" y="1073.80" width="40" height="6.10" fill="#fdebd7"/>
<rect x="898.5" y="1079.50" width="40" height="6.10" fill="#ebebda"/>
<rect x="898.5" y="1085.20" width="40" height="6.10" fill="#d8eadd"/>
<rect x="898.5" y="1090.90" width="40" height="6.10" fill="#c5e9de"/>
<rect x="898.5" y="1096.60" width="40" height="6.10" fill="#ace2d7"/>
<rect x="898.5" y="1102.30" width="40" height="6.10" fill="#92dbcf"/>
<rect x="898.5" y="1108.00" width="40" height="6.10" fill="#75d2c6"/>
<rect x="898.5" y="1113.70" width="40" height="6.10" fill="#58c9bd"/>
<rect x="898.5" y="1119.40" width="40" height="6.10" fill="#3ec1b5"/>
<rect x="898.5" y="1125.10" width="40" height="6.10" fill="#28baae"/>
<rect x="898.5" y="1130.80" width="40" height="6.10" fill="#20b6ab"/>
<rect x="898.5" y="1136.50" width="40" height="6.10" fill="#1ab2a8"/>
<rect x="898.5" y="1142.20" width="40" height="6.10" fill="#16a9a0"/>
<rect x="898.5" y="1147.90" width="40" height="6.10" fill="#14a198"/>
<rect x="898.5" y="1153.60" width="40" height="6.10" fill="#139a91"/>
<rect x="898.5" y="1159.30" width="40" height="6.10" fill="#139289"/>
<rect x="898.5" y="1165.00" width="40" height="6.10" fill="#128a81"/>
<rect x="898.5" y="1170.70" width="40" height="6.10" fill="#118279"/>
<rect x="898.5" y="1176.40" width="40" height="6.10" fill="#0f7870"/>
<rect x="898.5" y="1182.10" width="40" height="6.10" fill="#0d6e67"/>
<rect x="898.5" y="1187.80" width="40" height="6.10" fill="#0c6660"/>
<rect x="898.5" y="965.5" width="40" height="228" fill="none" stroke="#222" stroke-width="1.3"/>
<line x1="938.5" y1="965.5" x2="948" y2="965.5" stroke="#222" stroke-width="1.3"/>
<text x="955" y="970.5" font-size="15">3.540</text>
<line x1="938.5" y1="1011.1" x2="948" y2="1011.1" stroke="#222" stroke-width="1.3"/>
<text x="955" y="1016.1" font-size="15">2.704</text>
<line x1="938.5" y1="1056.7" x2="948" y2="1056.7" stroke="#222" stroke-width="1.3"/>
<text x="955" y="1061.7" font-size="15">1.868</text>
<line x1="938.5" y1="1102.3" x2="948" y2="1102.3" stroke="#222" stroke-width="1.3"/>
<text x="955" y="1107.3" font-size="15">1.032</text>
<line x1="938.5" y1="1147.9" x2="948" y2="1147.9" stroke="#222" stroke-width="1.3"/>
<text x="955" y="1152.9" font-size="15">0.1960</text>
<line x1="938.5" y1="1193.5" x2="948" y2="1193.5" stroke="#222" stroke-width="1.3"/>
<text x="955" y="1198.5" font-size="15">-0.6400</text>
<text x="901" y="955" font-size="19">&#916;&#916;G</text>
</svg></body></html>
